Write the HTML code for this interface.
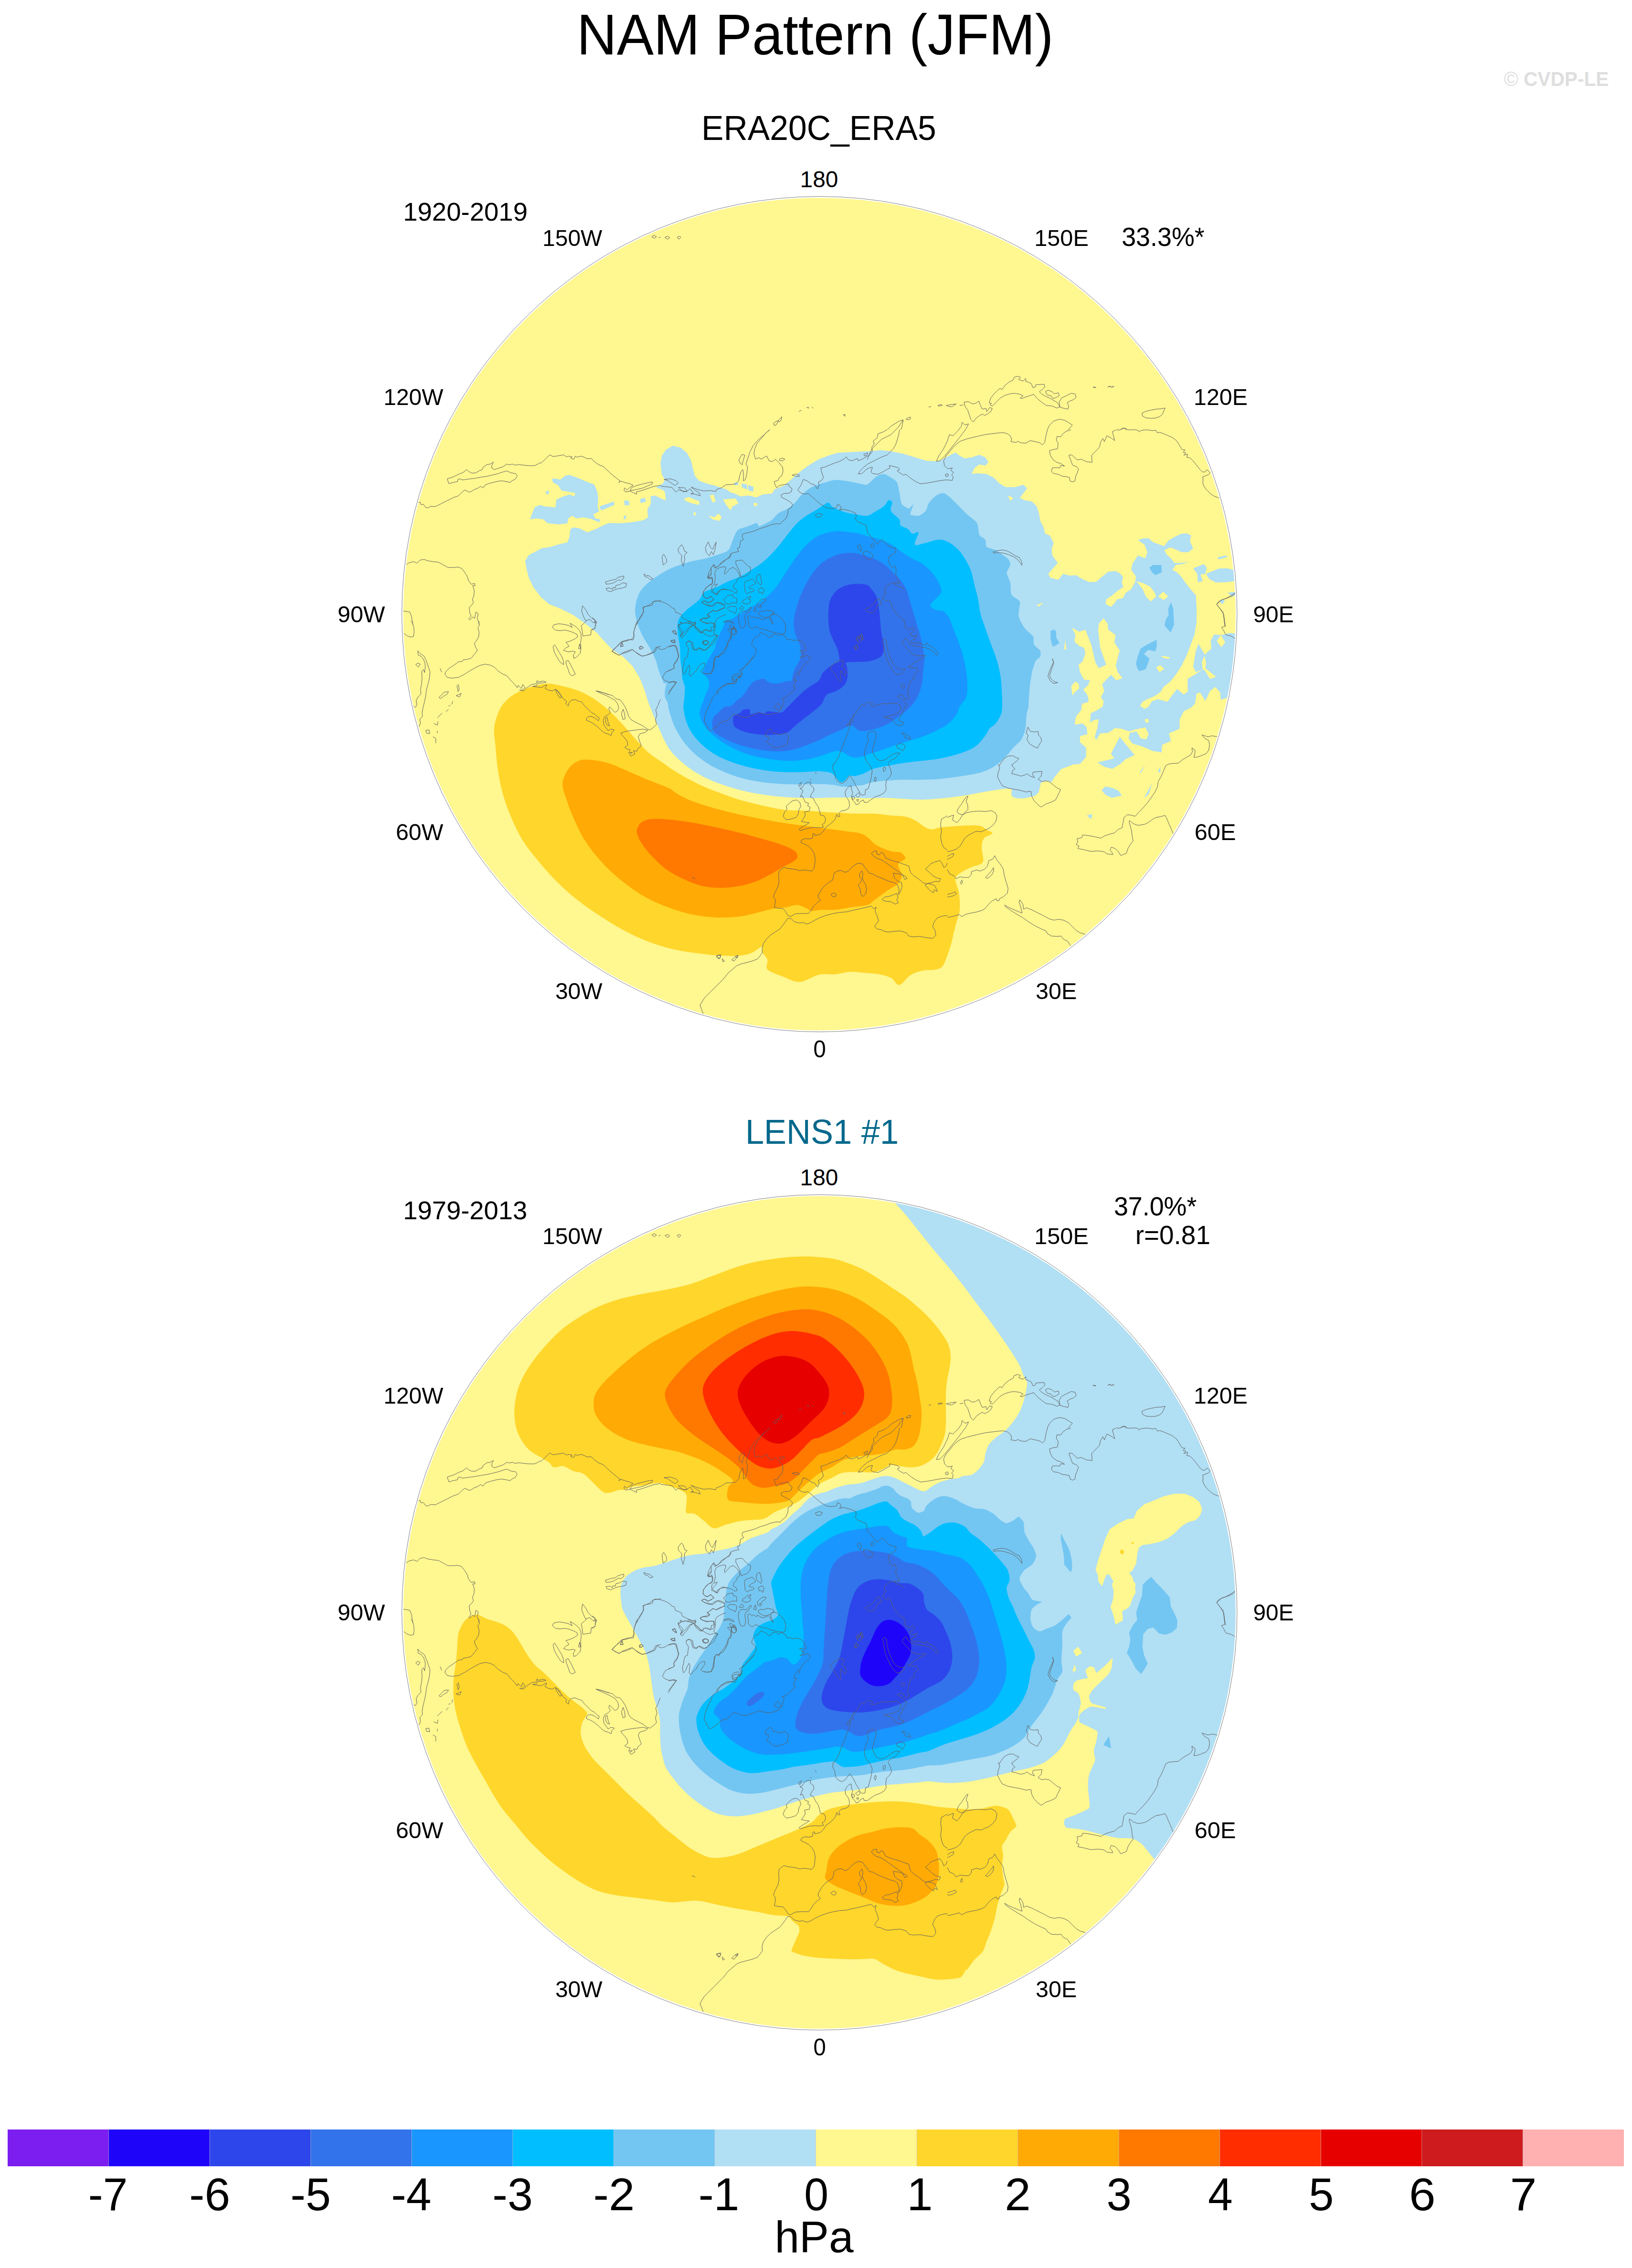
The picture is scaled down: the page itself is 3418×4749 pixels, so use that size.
<!DOCTYPE html>
<html><head><meta charset="utf-8"><title>NAM Pattern (JFM)</title>
<style>html,body{margin:0;padding:0;background:#fff}svg{display:block}text{font-family:'Liberation Sans',Arial,Helvetica,sans-serif}</style></head>
<body>
<svg width="3418" height="4749" viewBox="0 0 3418 4749">
<defs>
<clipPath id="c1"><circle cx="1716.25" cy="1286.00" r="874.60"/></clipPath>
<clipPath id="c2"><circle cx="1716.25" cy="3376.20" r="874.60"/></clipPath>
</defs>
<rect width="3418" height="4749" fill="#fff"/>
<g clip-path="url(#c1)">
<circle cx="1716.25" cy="1286.00" r="874.60" fill="#FFF78F"/>
<path d="M1099.6 1175.0L1107.1 1162.5L1121.7 1155.0L1134.2 1147.9L1150.8 1145.8L1171.7 1139.6L1188.3 1135.4L1192.5 1125.0L1194.6 1108.3L1200.8 1104.2L1213.3 1106.2L1230.0 1114.6L1246.7 1108.3L1263.3 1100.0L1275.8 1095.0L1296.7 1095.8L1321.7 1093.8L1346.7 1089.6L1357.1 1083.3L1355.8 1066.7L1363.3 1054.2L1362.5 1039.6L1371.7 1037.5L1384.2 1043.8L1394.6 1047.9L1392.5 1029.2L1386.2 1025.0L1373.8 1020.8L1388.3 1012.5L1392.5 1004.2L1386.2 993.8L1383.3 970.8L1386.2 954.2L1394.6 941.7L1409.2 933.3L1425.8 937.5L1438.3 947.9L1446.7 962.5L1450.8 979.2L1455.0 995.8L1463.3 1006.2L1480.0 1012.5L1496.7 1016.7L1509.2 1020.8L1521.7 1025.0L1530.0 1031.2L1538.3 1033.3L1550.8 1039.6L1567.5 1037.5L1584.2 1041.7L1596.7 1035.4L1617.5 1033.3L1621.7 1025.0L1642.5 1016.7L1659.2 1002.1L1675.8 987.5L1692.5 975.0L1713.3 962.5L1734.2 954.2L1755.0 947.9L1816.0 945.0L1846.0 942.5L1866.0 945.0L1891.0 950.0L1916.0 957.5L1941.0 965.0L1966.0 966.0L1986.0 955.0L2001.0 947.5L2011.0 955.0L2021.0 960.0L2036.0 957.5L2051.0 952.5L2063.5 957.5L2070.0 967.5L2063.5 975.0L2051.0 972.5L2041.0 980.0L2035.0 992.5L2046.0 991.0L2066.0 992.5L2081.0 1000.0L2093.5 1012.5L2106.0 1020.0L2126.0 1020.0L2143.5 1015.0L2151.0 1022.5L2143.5 1032.5L2136.0 1042.5L2146.0 1047.5L2161.0 1050.0L2171.0 1060.0L2176.0 1075.0L2178.5 1090.0L2186.0 1105.0L2188.5 1117.5L2187.1 1116.7L2198.3 1120.9L2206.8 1136.5L2202.6 1150.6L2204.0 1163.3L2215.3 1178.8L2205.4 1190.1L2195.5 1201.4L2199.8 1209.8L2216.7 1214.1L2226.6 1201.4L2240.7 1205.6L2253.4 1204.2L2264.7 1211.2L2281.6 1218.9L2295.7 1218.3L2307.0 1208.4L2321.1 1197.1L2336.7 1195.7L2346.5 1201.4L2352.2 1208.4L2349.4 1218.3L2352.2 1229.6L2340.9 1236.7L2329.6 1246.5L2316.9 1255.0L2315.5 1264.9L2326.8 1270.5L2333.8 1263.5L2339.5 1255.0L2352.2 1252.2L2357.8 1240.9L2369.1 1233.8L2377.6 1218.3L2379.0 1207.0L2369.1 1192.9L2371.9 1180.2L2383.2 1163.3L2398.8 1168.9L2403.0 1156.2L2397.3 1140.7L2383.2 1130.8L2393.1 1127.4L2405.8 1127.1L2414.3 1135.0L2425.6 1139.3L2438.3 1143.5L2446.7 1132.2L2458.0 1125.2L2473.5 1118.1L2484.8 1116.7L2494.7 1120.9L2491.9 1133.6L2499.0 1147.7L2489.1 1156.2L2475.0 1156.2L2462.3 1150.6L2451.0 1146.3L2438.3 1152.0L2443.9 1161.9L2452.4 1168.9L2459.4 1178.8L2473.5 1178.8L2490.5 1176.5L2476.4 1181.0L2462.3 1183.0L2455.2 1192.9L2465.1 1198.5L2473.5 1207.0L2483.4 1221.1L2494.7 1235.2L2504.6 1246.5L2506.0 1271.9L2506.0 1303.0L2501.8 1328.4L2493.3 1351.0L2484.8 1373.5L2473.5 1396.1L2462.3 1413.1L2451.0 1427.2L2436.9 1438.5L2429.8 1449.8L2417.1 1458.2L2403.0 1463.9L2393.1 1469.5L2387.5 1478.0L2397.3 1484.2L2404.4 1480.8L2412.9 1468.1L2425.6 1463.9L2445.3 1469.5L2455.2 1455.4L2465.1 1442.7L2479.2 1454.0L2487.7 1448.3L2487.1 1421.5L2501.8 1413.1L2518.7 1401.8L2504.6 1407.4L2499.0 1396.1L2504.6 1362.3L2510.2 1348.1L2522.9 1370.7L2537.1 1358.0L2535.6 1342.5L2542.7 1328.4L2558.2 1329.8L2575.2 1325.6L2594.9 1327.0L2594.9 1362.3L2586.5 1404.6L2575.2 1459.6L2556.8 1465.3L2555.4 1449.8L2545.5 1438.5L2534.2 1446.9L2524.4 1468.1L2513.1 1449.8L2506.0 1452.6L2503.2 1472.3L2496.1 1480.8L2479.2 1489.3L2470.7 1506.2L2470.2 1526.0L2448.1 1535.8L2452.4 1551.4L2434.0 1559.8L2432.6 1575.4L2414.3 1572.5L2391.7 1562.7L2371.9 1557.0L2363.5 1545.7L2366.3 1534.4L2380.4 1531.6L2388.9 1545.7L2400.2 1548.5L2405.8 1537.3L2398.8 1523.1L2377.6 1527.4L2364.9 1531.6L2349.4 1526.0L2335.2 1524.6L2321.1 1534.4L2304.2 1535.8L2295.7 1550.0L2292.9 1542.9L2298.5 1523.1L2300.8 1506.2L2291.5 1507.6L2283.0 1513.3L2284.4 1493.5L2298.5 1486.5L2309.8 1479.4L2311.2 1468.1L2305.6 1459.6L2312.7 1446.9L2308.4 1432.8L2318.3 1421.5L2326.8 1413.1L2338.1 1424.4L2350.8 1420.1L2340.9 1407.4L2336.7 1393.3L2345.1 1362.3L2333.8 1345.3L2336.7 1329.8L2321.1 1318.5L2319.7 1305.8L2311.2 1294.5L2301.4 1305.8L2300.0 1319.9L2304.2 1356.6L2316.9 1391.9L2301.4 1399.0L2294.3 1387.7L2285.8 1351.0L2273.1 1318.5L2260.4 1322.7L2244.9 1314.3L2252.0 1328.4L2250.6 1343.9L2260.4 1352.4L2270.3 1356.6L2273.1 1367.9L2267.5 1384.8L2259.0 1391.9L2261.9 1407.4L2270.3 1422.9L2283.0 1424.4L2278.8 1434.2L2268.9 1444.1L2277.4 1455.4L2280.2 1469.5L2266.1 1473.8L2264.7 1486.5L2253.4 1500.6L2250.6 1517.5L2267.5 1514.7L2276.0 1523.1L2277.4 1537.3L2261.9 1541.5L2261.9 1554.2L2274.6 1565.5L2274.6 1585.2L2261.9 1599.4L2247.7 1600.8L2222.3 1610.6L2208.2 1627.6L2202.6 1637.5L2191.3 1634.6L2180.0 1638.9L2175.5 1658.8L2168.0 1666.2L2158.0 1668.8L2143.0 1672.0L2128.0 1671.2L2119.2 1667.5L2118.0 1660.0L2119.2 1652.5L2108.0 1651.2L2088.0 1653.8L2068.0 1657.0L2048.0 1660.5L2028.0 1664.5L2008.0 1667.5L1988.0 1670.0L1968.0 1672.0L1948.0 1673.8L1928.0 1674.5L1908.0 1673.8L1888.0 1672.5L1868.0 1671.2L1848.0 1670.5L1828.0 1671.2L1808.0 1671.2L1797.5 1670.5L1772.5 1670.0L1747.5 1670.0L1722.5 1670.8L1697.5 1671.2L1672.5 1670.5L1647.5 1669.2L1622.5 1667.0L1597.5 1663.8L1572.5 1659.5L1547.5 1653.8L1522.5 1646.2L1497.5 1637.5L1475.0 1627.5L1455.0 1616.2L1437.5 1603.8L1422.5 1591.2L1410.0 1578.8L1400.0 1566.2L1390.0 1547.5L1380.0 1525.0L1367.5 1495.0L1357.5 1470.0L1350.0 1445.0L1340.0 1420.0L1325.0 1395.0L1305.0 1375.0L1285.0 1362.5L1270.0 1347.5L1250.0 1325.0L1225.0 1305.0L1200.0 1287.5L1175.0 1275.0L1150.0 1265.0L1132.5 1250.0L1117.5 1230.0L1107.5 1210.0L1102.5 1190.0L1100.0 1175.0Z" fill="#B1DFF4"/>
<path d="M2379.0 1216.9L2394.5 1221.1L2408.6 1228.2L2418.5 1240.9L2421.3 1249.4L2410.0 1259.2L2400.2 1249.4L2393.1 1233.8L2384.6 1222.5Z" fill="#FFF78F"/>
<path d="M2425.6 1248.8L2436.3 1238.9L2446.7 1248.8L2437.4 1256.4Z" fill="#FFF78F"/>
<path d="M2243.5 1437.1L2252.0 1427.2L2259.0 1431.4L2260.4 1441.3L2250.6 1449.8L2246.3 1456.8Z" fill="#FFF78F"/>
<path d="M2421.3 1397.5L2429.8 1392.7L2438.3 1400.4L2428.4 1407.4Z" fill="#FFF78F"/>
<path d="M2431.2 1373.5L2442.5 1374.4L2451.0 1376.4L2446.7 1379.8L2435.4 1376.9Z" fill="#FFF78F"/>
<path d="M2397.3 1506.8L2404.4 1504.8L2406.4 1511.3L2400.2 1514.1Z" fill="#FFF78F"/>
<path d="M2228.5 1359.4L2231.4 1341.1L2233.1 1359.4Z" fill="#FFF78F"/>
<path d="M2295.2 1462.5L2301.9 1461.6L2312.1 1468.1L2304.2 1467.3Z" fill="#FFF78F"/>
<path d="M2548.3 1342.5L2556.8 1329.8L2566.1 1345.3L2557.7 1355.2Z" fill="#FFF78F"/>
<path d="M2517.3 1384.8L2522.9 1373.5L2525.8 1387.7L2524.4 1399.0L2546.9 1417.3L2534.2 1421.5L2522.9 1403.2L2518.7 1401.8Z" fill="#FFF78F"/>
<path d="M1433.3 1043.8L1442.5 1040.8L1465.4 1050.0L1463.3 1057.5L1446.7 1053.3L1434.2 1047.9Z" fill="#FFF78F"/>
<path d="M1486.2 1037.5L1494.6 1035.4L1498.8 1050.0L1492.5 1052.1Z" fill="#FFF78F"/>
<path d="M1514.2 1045.8L1540.4 1043.8L1546.7 1054.2L1534.2 1060.4L1530.0 1068.8L1521.7 1058.3Z" fill="#FFF78F"/>
<path d="M1577.9 1054.2L1584.2 1052.1L1586.2 1058.3L1580.0 1060.4Z" fill="#FFF78F"/>
<path d="M1483.3 1079.2L1496.7 1083.3L1505.0 1075.0L1511.2 1083.3L1507.1 1090.8L1492.5 1087.5Z" fill="#FFF78F"/>
<path d="M1452.9 1072.9L1457.1 1072.9L1457.1 1079.2L1452.9 1079.2Z" fill="#FFF78F"/>
<path d="M2111.0 1037.5L2122.0 1042.5L2116.0 1049.0Z" fill="#FFF78F"/>
<path d="M2171.0 1267.5L2186.0 1261.0L2176.0 1270.0Z" fill="#FFF78F"/>
<path d="M2230.0 1342.5L2233.5 1360.0L2230.0 1360.0Z" fill="#FFF78F"/>
<path d="M2499.0 1190.1L2521.5 1181.0L2527.2 1188.7L2524.4 1201.4L2514.5 1202.8L2518.7 1216.9L2508.8 1218.9L2507.4 1201.4Z" fill="#B1DFF4"/>
<path d="M2525.8 1201.4L2552.6 1190.6L2569.5 1190.1L2594.9 1195.7L2594.9 1215.5L2569.5 1218.9L2546.9 1219.7L2532.8 1212.7Z" fill="#B1DFF4"/>
<path d="M2550.3 1166.9L2566.7 1163.3L2572.3 1165.2L2559.6 1169.8L2551.2 1170.9Z" fill="#B1DFF4"/>
<path d="M2570.9 1240.9L2586.5 1239.5L2594.9 1241.5L2580.8 1249.4Z" fill="#B1DFF4"/>
<path d="M2554.0 1258.4L2561.0 1255.0L2565.3 1257.8L2559.6 1265.7Z" fill="#B1DFF4"/>
<path d="M2326.8 1578.2L2345.1 1542.9L2376.2 1581.0L2357.8 1589.5L2346.5 1599.4L2329.6 1610.1L2312.7 1605.6L2298.5 1596.5L2333.8 1588.1Z" fill="#B1DFF4"/>
<path d="M2307.0 1654.4L2315.5 1646.8L2332.4 1650.7L2342.3 1655.8L2349.4 1665.7L2328.2 1670.5L2315.5 1664.3Z" fill="#B1DFF4"/>
<path d="M2387.5 1616.3L2397.9 1602.7L2388.9 1619.7Z" fill="#B1DFF4"/>
<path d="M2425.0 1616.3L2429.8 1605.6L2430.6 1617.7Z" fill="#B1DFF4"/>
<path d="M2395.9 1671.3L2412.9 1640.3L2405.8 1662.9Z" fill="#B1DFF4"/>
<path d="M2276.0 1708.0L2287.3 1704.4L2285.8 1715.1Z" fill="#B1DFF4"/>
<path d="M1110.0 1087.5L1119.6 1062.5L1130.0 1057.5L1142.5 1060.4L1163.3 1062.5L1165.4 1045.8L1180.0 1039.6L1192.5 1035.4L1202.9 1039.6L1205.0 1032.5L1188.3 1029.2L1175.8 1027.1L1169.6 1016.7L1157.1 1009.2L1157.1 1001.2L1173.8 1004.2L1184.2 995.8L1192.5 994.6L1213.3 1002.1L1230.0 1009.2L1244.6 1014.6L1250.8 1029.2L1252.9 1041.7L1251.7 1062.5L1255.0 1070.8L1242.5 1077.1L1246.7 1085.4L1257.1 1087.5L1255.8 1093.8L1238.3 1086.7L1221.7 1083.3L1207.1 1085.4L1198.8 1080.0L1190.4 1085.4L1188.3 1095.8L1171.7 1097.9L1146.7 1095.8L1138.3 1087.5L1121.7 1085.4Z" fill="#B1DFF4"/>
<path d="M1255.0 1060.4L1286.2 1050.0L1286.2 1057.5L1259.2 1068.8Z" fill="#B1DFF4"/>
<path d="M1307.1 1047.9L1316.7 1047.9L1318.3 1057.5L1308.3 1058.3Z" fill="#B1DFF4"/>
<path d="M1340.4 1045.8L1350.0 1041.7L1352.9 1050.8L1341.7 1053.3Z" fill="#B1DFF4"/>
<path d="M1142.5 1029.2L1148.8 1027.1L1150.0 1033.3L1144.6 1035.4Z" fill="#B1DFF4"/>
<path d="M1307.1 1080.0L1311.7 1079.2L1310.0 1087.5L1305.8 1086.7Z" fill="#B1DFF4"/>
<path d="M1538.3 1010.4L1546.7 1010.4L1545.8 1015.8L1538.3 1015.8Z" fill="#B1DFF4"/>
<path d="M1552.9 1012.5L1564.2 1014.6L1565.4 1025.0L1554.2 1020.8Z" fill="#B1DFF4"/>
<path d="M1566.7 1015.8L1577.9 1018.8L1577.9 1029.2L1567.5 1027.1Z" fill="#B1DFF4"/>
<path d="M2407.2 1188.7L2414.3 1183.0L2432.6 1183.0L2433.2 1198.5L2419.9 1204.2L2412.9 1198.5Z" fill="#73C6F2"/>
<path d="M2452.4 1260.6L2457.2 1274.8L2458.9 1308.6L2451.5 1324.2L2439.1 1310.0L2441.1 1298.8L2447.6 1287.5L2446.7 1274.8Z" fill="#73C6F2"/>
<path d="M2422.2 1339.7L2422.7 1352.4L2419.9 1363.7L2404.4 1360.8L2395.9 1369.3L2407.2 1379.2L2404.4 1389.1L2398.8 1401.8L2386.0 1405.2L2381.8 1399.0L2379.0 1389.1L2383.2 1373.5L2388.9 1358.0L2403.0 1349.6Z" fill="#73C6F2"/>
<path d="M2200.3 1321.3L2206.8 1317.9L2211.6 1321.3L2212.5 1335.4L2219.0 1346.7L2204.8 1354.4L2200.3 1338.3Z" fill="#73C6F2"/>
<path d="M1330.0 1280.0C1329.6 1273.6 1330.9 1266.3 1332.5 1260.0C1334.1 1253.7 1336.6 1245.7 1340.0 1240.0C1343.4 1234.3 1349.5 1227.6 1355.0 1222.5C1360.5 1217.4 1368.2 1212.1 1375.0 1207.5C1381.8 1202.9 1392.1 1196.4 1400.0 1192.5C1407.9 1188.6 1416.9 1185.3 1425.0 1182.5C1433.1 1179.7 1441.9 1177.0 1450.0 1175.0C1458.1 1173.0 1466.9 1172.0 1475.0 1170.0C1483.1 1168.0 1491.9 1165.3 1500.0 1162.5C1508.1 1159.7 1520.5 1156.7 1525.0 1152.5C1529.5 1148.3 1531.9 1136.7 1535.0 1130.0C1538.1 1123.3 1541.0 1113.7 1545.0 1110.0C1549.0 1106.3 1558.4 1105.0 1565.0 1102.5C1571.6 1100.0 1583.9 1095.0 1585.0 1095.0C1586.1 1095.0 1589.2 1102.6 1590.0 1102.5C1590.8 1102.4 1609.5 1093.8 1615.0 1090.0C1620.5 1086.2 1624.5 1078.9 1630.0 1075.0C1635.5 1071.1 1644.7 1068.4 1650.0 1065.0C1655.3 1061.6 1660.5 1057.0 1665.0 1052.5C1669.5 1048.0 1674.5 1040.1 1680.0 1035.0C1685.5 1029.9 1693.0 1023.7 1700.0 1020.0C1707.0 1016.3 1716.9 1013.4 1725.0 1011.0C1733.1 1008.6 1742.1 1005.6 1750.0 1005.0C1757.9 1004.4 1766.8 1006.3 1775.0 1007.5C1783.2 1008.7 1794.7 1011.5 1800.0 1012.5C1805.3 1013.5 1812.5 1016.4 1816.0 1015.0C1819.5 1013.6 1831.9 1000.1 1836.0 997.5C1840.1 994.9 1847.1 992.2 1851.0 992.5C1854.9 992.8 1861.6 997.2 1866.0 1000.0C1870.4 1002.8 1876.3 1006.2 1878.5 1010.0C1880.7 1013.8 1882.0 1023.4 1883.5 1030.0C1885.0 1036.6 1886.3 1051.1 1888.5 1055.0C1890.7 1058.9 1902.0 1065.0 1903.5 1065.0C1905.0 1065.0 1913.5 1055.0 1913.5 1055.0C1913.5 1055.0 1906.0 1077.4 1906.0 1077.5C1906.0 1077.6 1919.0 1081.0 1923.5 1080.0C1928.0 1079.0 1935.2 1074.0 1938.5 1070.0C1941.8 1066.0 1942.6 1057.4 1946.0 1052.5C1949.4 1047.6 1957.0 1040.1 1961.0 1037.5C1965.0 1034.9 1972.5 1031.9 1976.0 1032.5C1979.5 1033.1 1986.5 1038.8 1991.0 1042.5C1995.5 1046.2 2001.0 1052.5 2006.0 1057.5C2011.0 1062.5 2019.6 1071.5 2026.0 1077.5C2032.4 1083.5 2042.5 1089.0 2046.0 1095.0C2049.5 1101.0 2049.1 1116.2 2051.0 1120.0C2052.9 1123.8 2061.5 1126.6 2063.5 1130.0C2065.5 1133.4 2063.9 1142.9 2066.0 1145.0C2068.1 1147.1 2080.0 1149.2 2086.0 1152.5C2092.0 1155.8 2108.3 1167.3 2111.0 1170.0C2113.7 1172.7 2116.3 1179.2 2116.0 1182.5C2115.7 1185.8 2108.5 1195.2 2108.5 1200.0C2108.5 1204.8 2114.5 1213.3 2116.0 1220.0C2117.5 1226.7 2115.9 1239.8 2118.5 1245.0C2121.1 1250.2 2134.4 1255.3 2136.0 1260.0C2137.6 1264.7 2132.1 1282.0 2133.5 1290.0C2134.9 1298.0 2141.5 1308.6 2146.0 1315.0C2150.5 1321.4 2161.1 1328.3 2163.5 1332.5C2165.9 1336.7 2163.8 1345.7 2166.0 1350.0C2168.2 1354.3 2177.1 1359.7 2178.5 1362.5C2179.9 1365.3 2179.8 1372.2 2178.5 1375.0C2177.2 1377.8 2170.4 1381.2 2168.5 1385.0C2166.6 1388.8 2162.7 1401.6 2161.0 1410.0C2159.3 1418.4 2157.1 1433.5 2156.0 1445.0C2154.9 1456.5 2154.5 1475.8 2154.0 1480.0C2153.5 1484.2 2151.3 1488.5 2150.5 1492.5C2149.7 1496.5 2149.6 1500.9 2149.2 1505.0C2148.9 1509.1 2148.8 1517.5 2148.0 1522.5C2147.2 1527.5 2145.8 1533.3 2144.2 1537.5C2142.7 1541.7 2139.9 1547.2 2138.0 1550.0C2136.1 1552.8 2133.0 1555.0 2130.5 1557.5C2128.0 1560.0 2123.6 1564.0 2120.5 1567.5C2117.4 1571.0 2114.0 1576.1 2110.5 1580.0C2107.0 1583.9 2101.9 1589.0 2098.0 1592.5C2094.1 1596.0 2089.4 1599.8 2085.5 1602.5C2081.6 1605.2 2077.3 1607.9 2073.0 1610.0C2068.7 1612.1 2063.1 1614.6 2058.0 1616.2C2052.9 1617.9 2044.5 1619.9 2038.0 1621.2C2031.5 1622.6 2024.6 1623.5 2018.0 1624.5C2011.4 1625.5 2004.6 1626.6 1998.0 1627.5C1991.4 1628.4 1984.6 1629.3 1978.0 1630.0C1971.4 1630.7 1964.6 1631.6 1958.0 1632.0C1951.4 1632.4 1944.6 1632.3 1938.0 1632.5C1931.4 1632.7 1924.6 1633.0 1918.0 1633.0C1911.4 1633.0 1904.6 1632.5 1898.0 1632.5C1891.4 1632.5 1884.6 1632.7 1878.0 1633.0C1871.4 1633.3 1864.6 1634.0 1858.0 1634.5C1851.4 1635.0 1843.0 1635.6 1838.0 1636.2C1833.0 1636.9 1827.8 1637.5 1823.0 1638.8C1818.2 1640.0 1812.1 1642.8 1808.0 1643.8C1803.9 1644.7 1799.3 1644.4 1795.0 1645.0C1790.7 1645.6 1784.9 1647.2 1780.0 1647.5C1775.1 1647.8 1767.5 1647.6 1762.5 1647.0C1757.5 1646.4 1752.5 1644.4 1747.5 1643.8C1742.5 1643.1 1730.7 1642.3 1722.5 1642.0C1714.3 1641.7 1705.7 1641.9 1697.5 1642.0C1689.3 1642.1 1680.7 1642.5 1672.5 1642.5C1664.3 1642.5 1655.7 1642.3 1647.5 1642.0C1639.3 1641.7 1630.7 1641.2 1622.5 1640.5C1614.3 1639.8 1605.7 1639.1 1597.5 1638.0C1589.3 1636.9 1580.7 1635.5 1572.5 1633.8C1564.3 1632.0 1555.6 1629.9 1547.5 1627.5C1539.4 1625.1 1530.0 1621.7 1522.5 1618.8C1515.0 1615.8 1506.7 1612.1 1500.0 1608.8C1493.3 1605.4 1486.3 1601.6 1480.0 1597.5C1473.7 1593.4 1466.9 1588.4 1461.2 1583.8C1455.6 1579.1 1449.8 1573.8 1445.0 1568.8C1440.2 1563.7 1435.3 1558.0 1431.2 1552.5C1427.2 1547.0 1423.2 1540.6 1420.0 1535.0C1416.8 1529.4 1413.7 1523.1 1411.2 1517.5C1408.8 1511.9 1406.8 1505.7 1405.0 1500.0C1403.2 1494.3 1400.7 1485.6 1400.0 1482.5C1399.3 1479.4 1399.2 1475.3 1398.6 1472.9C1398.0 1470.6 1396.7 1468.3 1395.7 1466.1C1394.7 1463.8 1393.2 1461.5 1392.7 1459.2C1392.3 1456.9 1392.1 1452.6 1392.3 1449.4C1392.4 1446.2 1393.1 1442.5 1393.7 1439.6C1394.3 1436.7 1396.2 1430.9 1396.2 1430.8C1396.1 1430.7 1390.6 1431.0 1390.0 1430.0C1389.4 1429.0 1382.8 1413.1 1380.0 1405.0C1377.2 1396.9 1375.7 1387.9 1372.5 1380.0C1369.3 1372.1 1364.4 1363.1 1360.0 1355.0C1355.6 1346.9 1348.9 1337.9 1345.0 1330.0C1341.1 1322.1 1337.4 1312.9 1335.0 1305.0C1332.6 1297.1 1330.4 1286.4 1330.0 1280.0Z" fill="#73C6F2"/>
<path d="M1419.0 1310.0C1419.4 1304.2 1419.8 1300.0 1422.5 1295.0C1425.2 1290.0 1430.4 1284.6 1435.0 1280.0C1439.6 1275.4 1445.0 1271.7 1450.0 1267.5C1455.0 1263.3 1460.8 1259.6 1465.0 1255.0C1469.2 1250.4 1469.2 1244.2 1475.0 1240.0C1480.8 1235.8 1491.7 1233.8 1500.0 1230.0C1508.3 1226.2 1516.7 1221.2 1525.0 1217.5C1533.3 1213.8 1541.7 1211.7 1550.0 1207.5C1558.3 1203.3 1566.7 1197.9 1575.0 1192.5C1583.3 1187.1 1591.7 1182.1 1600.0 1175.0C1608.3 1167.9 1617.5 1158.3 1625.0 1150.0C1632.5 1141.7 1638.3 1133.3 1645.0 1125.0C1651.7 1116.7 1658.3 1107.1 1665.0 1100.0C1671.7 1092.9 1677.5 1087.9 1685.0 1082.5C1692.5 1077.1 1703.3 1071.7 1710.0 1067.5C1716.7 1063.3 1720.8 1060.0 1725.0 1057.5C1729.2 1055.0 1731.7 1051.7 1735.0 1052.5C1738.3 1053.3 1739.2 1059.2 1745.0 1062.5C1750.8 1065.8 1761.7 1070.0 1770.0 1072.5C1778.3 1075.0 1787.3 1076.2 1795.0 1077.5C1802.7 1078.8 1810.0 1080.8 1816.0 1080.0C1822.0 1079.2 1825.2 1075.8 1831.0 1072.5C1836.8 1069.2 1846.0 1064.2 1851.0 1060.0C1856.0 1055.8 1858.1 1048.8 1861.0 1047.5C1863.9 1046.2 1867.7 1048.8 1868.5 1052.5C1869.3 1056.2 1863.5 1064.2 1866.0 1070.0C1868.5 1075.8 1880.2 1082.5 1883.5 1087.5C1886.8 1092.5 1883.1 1096.7 1886.0 1100.0C1888.9 1103.3 1896.8 1104.6 1901.0 1107.5C1905.2 1110.4 1907.2 1116.2 1911.0 1117.5C1914.8 1118.8 1922.7 1111.2 1923.5 1115.0C1924.3 1118.8 1913.9 1136.2 1916.0 1140.0C1918.1 1143.8 1927.7 1139.2 1936.0 1137.5C1944.3 1135.8 1957.7 1130.4 1966.0 1130.0C1974.3 1129.6 1979.3 1131.7 1986.0 1135.0C1992.7 1138.3 2000.2 1144.2 2006.0 1150.0C2011.8 1155.8 2016.4 1162.5 2021.0 1170.0C2025.6 1177.5 2030.2 1185.8 2033.5 1195.0C2036.8 1204.2 2038.5 1215.0 2041.0 1225.0C2043.5 1235.0 2046.4 1245.0 2048.5 1255.0C2050.6 1265.0 2051.0 1275.0 2053.5 1285.0C2056.0 1295.0 2059.8 1304.2 2063.5 1315.0C2067.2 1325.8 2071.8 1338.3 2076.0 1350.0C2080.2 1361.7 2085.2 1373.3 2088.5 1385.0C2091.8 1396.7 2094.3 1408.3 2096.0 1420.0C2097.7 1431.7 2098.0 1445.0 2098.5 1455.0C2099.0 1465.0 2099.3 1473.3 2099.0 1480.0C2098.7 1486.7 2098.2 1490.4 2096.8 1495.0C2095.3 1499.6 2092.8 1503.8 2090.5 1507.5C2088.2 1511.2 2085.9 1514.6 2083.0 1517.5C2080.1 1520.4 2075.9 1521.7 2073.0 1525.0C2070.1 1528.3 2068.0 1533.8 2065.5 1537.5C2063.0 1541.2 2060.9 1544.0 2058.0 1547.5C2055.1 1551.0 2051.8 1555.4 2048.0 1558.8C2044.2 1562.1 2040.5 1564.8 2035.5 1567.5C2030.5 1570.2 2024.2 1572.7 2018.0 1575.0C2011.8 1577.3 2004.7 1579.4 1998.0 1581.2C1991.3 1583.1 1984.7 1584.8 1978.0 1586.2C1971.3 1587.7 1965.1 1589.0 1958.0 1590.0C1950.9 1591.0 1943.0 1591.7 1935.5 1592.5C1928.0 1593.3 1920.5 1594.1 1913.0 1595.0C1905.5 1595.9 1897.6 1597.0 1890.5 1598.0C1883.4 1599.0 1877.2 1600.1 1870.5 1601.2C1863.8 1602.4 1856.8 1603.8 1850.5 1605.0C1844.2 1606.2 1838.0 1607.3 1833.0 1608.8C1828.0 1610.2 1824.7 1611.9 1820.5 1613.8C1816.3 1615.6 1813.1 1618.1 1808.0 1620.0C1802.9 1621.9 1794.7 1624.4 1790.0 1625.0C1785.3 1625.6 1782.7 1623.1 1780.0 1623.8C1777.3 1624.4 1776.2 1626.8 1774.0 1629.0C1771.8 1631.2 1769.2 1635.5 1766.5 1636.8C1763.8 1638.0 1760.8 1637.8 1758.0 1636.2C1755.2 1634.7 1752.6 1630.3 1750.0 1627.5C1747.4 1624.7 1745.8 1621.4 1742.5 1619.5C1739.2 1617.6 1735.0 1617.0 1730.0 1616.2C1725.0 1615.5 1719.6 1615.0 1712.5 1615.0C1705.4 1615.0 1695.8 1615.9 1687.5 1616.2C1679.2 1616.6 1670.8 1617.0 1662.5 1617.0C1654.2 1617.0 1645.8 1616.9 1637.5 1616.5C1629.2 1616.1 1620.8 1615.5 1612.5 1614.5C1604.2 1613.5 1595.8 1612.1 1587.5 1610.5C1579.2 1608.9 1570.8 1607.2 1562.5 1605.0C1554.2 1602.8 1545.4 1600.2 1537.5 1597.5C1529.6 1594.8 1522.3 1592.1 1515.0 1588.8C1507.7 1585.4 1500.4 1581.7 1493.8 1577.5C1487.1 1573.3 1480.6 1568.5 1475.0 1563.8C1469.4 1559.0 1464.6 1554.0 1460.0 1548.8C1455.4 1543.5 1451.0 1538.1 1447.5 1532.5C1444.0 1526.9 1441.0 1520.8 1438.8 1515.0C1436.5 1509.2 1435.0 1503.3 1433.8 1497.5C1432.5 1491.7 1431.7 1482.5 1431.2 1480.0C1430.8 1477.5 1430.9 1484.2 1431.0 1482.7C1431.1 1481.2 1431.6 1474.6 1432.0 1471.0C1432.4 1467.4 1433.1 1464.4 1433.4 1461.2C1433.8 1457.9 1433.8 1455.0 1433.9 1451.4C1434.1 1447.8 1434.7 1443.2 1434.4 1439.6C1434.1 1436.0 1432.9 1433.1 1432.0 1429.8C1431.1 1426.5 1429.8 1425.0 1429.0 1420.0C1428.3 1415.0 1428.2 1406.7 1427.5 1400.0C1426.8 1393.3 1425.6 1387.5 1425.0 1380.0C1424.4 1372.5 1424.8 1363.3 1424.0 1355.0C1423.2 1346.7 1420.8 1337.5 1420.0 1330.0C1419.2 1322.5 1418.6 1315.8 1419.0 1310.0Z" fill="#00BEFF"/>
<path d="M1520.0 1300.0C1522.5 1297.5 1525.0 1300.0 1530.0 1297.5C1535.0 1295.0 1542.5 1289.6 1550.0 1285.0C1557.5 1280.4 1566.7 1275.0 1575.0 1270.0C1583.3 1265.0 1591.7 1261.7 1600.0 1255.0C1608.3 1248.3 1617.5 1239.2 1625.0 1230.0C1632.5 1220.8 1638.3 1210.0 1645.0 1200.0C1651.7 1190.0 1658.3 1179.2 1665.0 1170.0C1671.7 1160.8 1678.3 1152.1 1685.0 1145.0C1691.7 1137.9 1698.3 1132.1 1705.0 1127.5C1711.7 1122.9 1717.5 1120.0 1725.0 1117.5C1732.5 1115.0 1741.7 1113.1 1750.0 1112.5C1758.3 1111.9 1766.7 1113.2 1775.0 1114.0C1783.3 1114.8 1793.2 1116.1 1800.0 1117.5C1806.8 1118.9 1810.0 1120.8 1816.0 1122.5C1822.0 1124.2 1829.3 1125.4 1836.0 1127.5C1842.7 1129.6 1850.2 1132.5 1856.0 1135.0C1861.8 1137.5 1865.2 1138.8 1871.0 1142.5C1876.8 1146.2 1884.3 1152.9 1891.0 1157.5C1897.7 1162.1 1904.3 1166.2 1911.0 1170.0C1917.7 1173.8 1925.2 1176.2 1931.0 1180.0C1936.8 1183.8 1941.4 1187.9 1946.0 1192.5C1950.6 1197.1 1954.8 1202.1 1958.5 1207.5C1962.2 1212.9 1966.4 1219.6 1968.5 1225.0C1970.6 1230.4 1972.2 1235.4 1971.0 1240.0C1969.8 1244.6 1964.8 1247.9 1961.0 1252.5C1957.2 1257.1 1948.5 1263.3 1948.5 1267.5C1948.5 1271.7 1956.4 1275.4 1961.0 1277.5C1965.6 1279.6 1971.4 1277.1 1976.0 1280.0C1980.6 1282.9 1985.2 1289.2 1988.5 1295.0C1991.8 1300.8 1993.1 1307.5 1996.0 1315.0C1998.9 1322.5 2002.7 1330.8 2006.0 1340.0C2009.3 1349.2 2013.1 1359.2 2016.0 1370.0C2018.9 1380.8 2021.8 1394.2 2023.5 1405.0C2025.2 1415.8 2026.0 1425.8 2026.0 1435.0C2026.0 1444.2 2026.0 1452.9 2023.5 1460.0C2021.0 1467.1 2014.0 1472.3 2011.0 1477.5C2008.0 1482.7 2007.2 1487.5 2005.5 1491.2C2003.8 1495.0 2002.6 1497.1 2000.5 1500.0C1998.4 1502.9 1995.9 1505.8 1993.0 1508.8C1990.1 1511.7 1987.2 1514.6 1983.0 1517.5C1978.8 1520.4 1973.0 1523.5 1968.0 1526.2C1963.0 1529.0 1958.4 1531.2 1953.0 1533.8C1947.6 1536.2 1941.3 1539.0 1935.5 1541.2C1929.7 1543.5 1923.8 1545.1 1918.0 1547.0C1912.2 1548.9 1906.3 1550.8 1900.5 1552.5C1894.7 1554.2 1888.8 1555.6 1883.0 1557.5C1877.2 1559.4 1871.3 1561.7 1865.5 1563.8C1859.7 1565.8 1853.4 1568.1 1848.0 1570.0C1842.6 1571.9 1837.6 1573.5 1833.0 1575.0C1828.4 1576.5 1824.7 1577.3 1820.5 1578.8C1816.3 1580.2 1812.7 1582.5 1808.0 1583.8C1803.3 1585.0 1797.2 1586.2 1792.5 1586.2C1787.8 1586.2 1784.2 1585.4 1780.0 1583.8C1775.8 1582.1 1771.2 1578.1 1767.5 1576.2C1763.8 1574.4 1761.2 1572.9 1757.5 1572.5C1753.8 1572.1 1750.0 1572.5 1745.0 1573.8C1740.0 1575.0 1733.8 1577.9 1727.5 1580.0C1721.2 1582.1 1715.0 1584.4 1707.5 1586.2C1700.0 1588.1 1690.8 1590.1 1682.5 1591.2C1674.2 1592.4 1665.8 1592.9 1657.5 1593.0C1649.2 1593.1 1640.8 1592.7 1632.5 1592.0C1624.2 1591.3 1615.8 1590.1 1607.5 1588.8C1599.2 1587.4 1590.8 1585.8 1582.5 1583.8C1574.2 1581.7 1565.4 1579.2 1557.5 1576.2C1549.6 1573.3 1542.1 1569.8 1535.0 1566.2C1527.9 1562.7 1521.2 1559.0 1515.0 1555.0C1508.8 1551.0 1502.9 1546.9 1497.5 1542.5C1492.1 1538.1 1486.9 1533.8 1482.5 1528.8C1478.1 1523.8 1474.1 1518.1 1471.2 1512.5C1468.4 1506.9 1466.0 1500.4 1465.5 1495.0C1465.0 1489.6 1466.8 1484.2 1468.0 1480.0C1469.2 1475.8 1470.9 1474.2 1472.5 1470.0C1474.1 1465.8 1475.6 1460.0 1477.5 1455.0C1479.4 1450.0 1482.5 1444.6 1483.8 1440.0C1485.0 1435.4 1485.6 1431.2 1485.0 1427.5C1484.4 1423.8 1482.3 1420.6 1480.0 1417.5C1477.7 1414.4 1472.1 1411.7 1471.2 1408.8C1470.4 1405.8 1473.1 1404.4 1475.0 1400.0C1476.9 1395.6 1480.0 1387.5 1482.5 1382.5C1485.0 1377.5 1487.5 1374.2 1490.0 1370.0C1492.5 1365.8 1495.8 1361.7 1497.5 1357.5C1499.2 1353.3 1498.3 1350.0 1500.0 1345.0C1501.7 1340.0 1505.0 1332.9 1507.5 1327.5C1510.0 1322.1 1512.9 1317.1 1515.0 1312.5C1517.1 1307.9 1517.5 1302.5 1520.0 1300.0Z" fill="#1996FF"/>
<path d="M1667.5 1275.0C1670.0 1265.8 1673.3 1255.0 1677.5 1245.0C1681.7 1235.0 1687.1 1224.2 1692.5 1215.0C1697.9 1205.8 1703.8 1197.1 1710.0 1190.0C1716.2 1182.9 1722.5 1177.3 1730.0 1172.5C1737.5 1167.7 1746.7 1163.5 1755.0 1161.0C1763.3 1158.5 1772.5 1157.7 1780.0 1157.5C1787.5 1157.3 1794.0 1158.8 1800.0 1160.0C1806.0 1161.2 1810.0 1162.9 1816.0 1165.0C1822.0 1167.1 1829.3 1169.2 1836.0 1172.5C1842.7 1175.8 1850.2 1180.4 1856.0 1185.0C1861.8 1189.6 1866.0 1195.0 1871.0 1200.0C1876.0 1205.0 1881.4 1209.2 1886.0 1215.0C1890.6 1220.8 1895.2 1227.5 1898.5 1235.0C1901.8 1242.5 1903.5 1251.7 1906.0 1260.0C1908.5 1268.3 1911.0 1276.7 1913.5 1285.0C1916.0 1293.3 1918.5 1301.7 1921.0 1310.0C1923.5 1318.3 1926.4 1326.7 1928.5 1335.0C1930.6 1343.3 1932.2 1352.5 1933.5 1360.0C1934.8 1367.5 1936.0 1372.5 1936.0 1380.0C1936.0 1387.5 1934.3 1396.7 1933.5 1405.0C1932.7 1413.3 1932.7 1421.7 1931.0 1430.0C1929.3 1438.3 1926.8 1447.5 1923.5 1455.0C1920.2 1462.5 1915.6 1469.2 1911.0 1475.0C1906.4 1480.8 1901.8 1485.0 1896.0 1490.0C1890.2 1495.0 1882.7 1500.4 1876.0 1505.0C1869.3 1509.6 1862.7 1514.2 1856.0 1517.5C1849.3 1520.8 1842.7 1522.9 1836.0 1525.0C1829.3 1527.1 1822.0 1529.2 1816.0 1530.0C1810.0 1530.8 1804.3 1531.2 1800.0 1530.0C1795.7 1528.8 1792.9 1524.4 1790.0 1522.5C1787.1 1520.6 1785.8 1518.5 1782.5 1518.8C1779.2 1519.0 1774.6 1521.7 1770.0 1523.8C1765.4 1525.8 1760.4 1528.8 1755.0 1531.2C1749.6 1533.8 1743.3 1536.0 1737.5 1538.8C1731.7 1541.5 1726.2 1544.6 1720.0 1547.5C1713.8 1550.4 1706.7 1553.5 1700.0 1556.2C1693.3 1559.0 1686.7 1561.5 1680.0 1563.8C1673.3 1566.0 1666.7 1568.5 1660.0 1570.0C1653.3 1571.5 1647.1 1572.5 1640.0 1573.0C1632.9 1573.5 1625.0 1573.4 1617.5 1573.0C1610.0 1572.6 1602.5 1571.6 1595.0 1570.5C1587.5 1569.4 1580.0 1568.0 1572.5 1566.2C1565.0 1564.5 1557.1 1562.3 1550.0 1560.0C1542.9 1557.7 1536.2 1555.2 1530.0 1552.5C1523.8 1549.8 1517.5 1546.5 1512.5 1543.8C1507.5 1541.0 1503.3 1539.2 1500.0 1536.2C1496.7 1533.3 1493.7 1531.5 1492.5 1526.2C1491.3 1521.0 1491.3 1510.4 1493.0 1505.0C1494.7 1499.6 1498.4 1497.9 1502.5 1493.8C1506.6 1489.6 1512.9 1482.5 1517.5 1480.0C1522.1 1477.5 1525.8 1480.8 1530.0 1478.8C1534.2 1476.7 1538.3 1471.0 1542.5 1467.5C1546.7 1464.0 1551.2 1461.5 1555.0 1457.5C1558.8 1453.5 1561.7 1448.3 1565.0 1443.8C1568.3 1439.2 1571.2 1433.3 1575.0 1430.0C1578.8 1426.7 1583.3 1425.2 1587.5 1423.8C1591.7 1422.3 1596.7 1420.6 1600.0 1421.2C1603.3 1421.9 1604.2 1425.8 1607.5 1427.5C1610.8 1429.2 1615.4 1430.8 1620.0 1431.2C1624.6 1431.7 1630.4 1430.8 1635.0 1430.0C1639.6 1429.2 1643.8 1427.1 1647.5 1426.2C1651.2 1425.4 1655.2 1427.7 1657.5 1425.0C1659.8 1422.3 1659.6 1415.0 1661.2 1410.0C1662.9 1405.0 1665.2 1399.6 1667.5 1395.0C1669.8 1390.4 1673.3 1387.1 1675.0 1382.5C1676.7 1377.9 1677.5 1372.9 1677.5 1367.5C1677.5 1362.1 1676.5 1355.4 1675.0 1350.0C1673.5 1344.6 1670.6 1340.0 1668.8 1335.0C1666.9 1330.0 1664.8 1325.8 1663.8 1320.0C1662.7 1314.2 1661.9 1307.5 1662.5 1300.0C1663.1 1292.5 1665.0 1284.2 1667.5 1275.0Z" fill="#3273EB"/>
<path d="M1735.0 1280.0C1735.4 1273.3 1735.8 1265.8 1737.5 1260.0C1739.2 1254.2 1741.7 1249.6 1745.0 1245.0C1748.3 1240.4 1752.5 1235.8 1757.5 1232.5C1762.5 1229.2 1768.8 1226.7 1775.0 1225.0C1781.2 1223.3 1788.2 1222.5 1795.0 1222.5C1801.8 1222.5 1810.8 1222.9 1816.0 1225.0C1821.2 1227.1 1822.7 1230.8 1826.0 1235.0C1829.3 1239.2 1833.5 1243.3 1836.0 1250.0C1838.5 1256.7 1839.8 1266.7 1841.0 1275.0C1842.2 1283.3 1842.7 1291.7 1843.5 1300.0C1844.3 1308.3 1844.8 1316.7 1846.0 1325.0C1847.2 1333.3 1850.6 1342.5 1851.0 1350.0C1851.4 1357.5 1851.0 1365.0 1848.5 1370.0C1846.0 1375.0 1841.4 1377.5 1836.0 1380.0C1830.6 1382.5 1824.1 1384.0 1816.0 1385.0C1807.9 1386.0 1794.8 1385.8 1787.5 1386.2C1780.2 1386.7 1774.7 1385.2 1772.5 1387.5C1770.3 1389.8 1774.1 1395.0 1774.5 1400.0C1774.9 1405.0 1775.5 1412.5 1775.0 1417.5C1774.5 1422.5 1773.3 1426.2 1771.2 1430.0C1769.2 1433.8 1766.0 1437.1 1762.5 1440.0C1759.0 1442.9 1754.6 1445.4 1750.0 1447.5C1745.4 1449.6 1738.8 1450.4 1735.0 1452.5C1731.2 1454.6 1730.0 1456.2 1727.5 1460.0C1725.0 1463.8 1724.6 1469.6 1720.0 1475.0C1715.4 1480.4 1706.7 1487.1 1700.0 1492.5C1693.3 1497.9 1685.8 1502.9 1680.0 1507.5C1674.2 1512.1 1669.6 1516.0 1665.0 1520.0C1660.4 1524.0 1656.7 1528.5 1652.5 1531.2C1648.3 1534.0 1646.7 1535.0 1640.0 1536.2C1633.3 1537.5 1621.7 1538.5 1612.5 1538.8C1603.3 1539.0 1593.8 1538.5 1585.0 1537.5C1576.2 1536.5 1566.7 1534.4 1560.0 1532.5C1553.3 1530.6 1548.8 1528.3 1545.0 1526.2C1541.2 1524.2 1539.2 1522.7 1537.5 1520.0C1535.8 1517.3 1535.2 1513.3 1535.0 1510.0C1534.8 1506.7 1535.4 1502.1 1536.2 1500.0C1537.1 1497.9 1537.7 1498.8 1540.0 1497.5C1542.3 1496.2 1547.3 1494.4 1550.0 1492.5C1552.7 1490.6 1552.9 1487.4 1556.2 1486.2C1559.6 1485.1 1567.5 1484.0 1570.0 1485.5C1572.5 1487.0 1569.6 1493.6 1571.2 1495.0C1572.9 1496.4 1576.9 1494.4 1580.0 1493.8C1583.1 1493.1 1586.7 1491.2 1590.0 1491.2C1593.3 1491.2 1597.1 1494.0 1600.0 1493.8C1602.9 1493.5 1604.2 1490.0 1607.5 1489.5C1610.8 1489.0 1615.8 1490.1 1620.0 1490.5C1624.2 1490.9 1629.2 1492.1 1632.5 1492.0C1635.8 1491.9 1637.1 1492.0 1640.0 1490.0C1642.9 1488.0 1646.2 1483.8 1650.0 1480.0C1653.8 1476.2 1658.3 1471.7 1662.5 1467.5C1666.7 1463.3 1670.8 1459.0 1675.0 1455.0C1679.2 1451.0 1683.3 1447.1 1687.5 1443.8C1691.7 1440.4 1695.4 1438.1 1700.0 1435.0C1704.6 1431.9 1711.2 1429.2 1715.0 1425.0C1718.8 1420.8 1719.6 1414.2 1722.5 1410.0C1725.4 1405.8 1729.2 1402.9 1732.5 1400.0C1735.8 1397.1 1739.6 1394.4 1742.5 1392.5C1745.4 1390.6 1747.5 1390.0 1750.0 1388.8C1752.5 1387.5 1756.2 1387.3 1757.5 1385.0C1758.8 1382.7 1757.9 1378.8 1757.5 1375.0C1757.1 1371.2 1756.2 1366.7 1755.0 1362.5C1753.8 1358.3 1751.9 1354.2 1750.0 1350.0C1748.1 1345.8 1745.6 1341.7 1743.8 1337.5C1741.9 1333.3 1740.0 1329.2 1738.8 1325.0C1737.5 1320.8 1736.9 1316.7 1736.2 1312.5C1735.6 1308.3 1735.2 1305.4 1735.0 1300.0C1734.8 1294.6 1734.6 1286.7 1735.0 1280.0Z" fill="#2D46EB"/>
<path d="M1035.0 1525.0C1035.8 1514.2 1039.2 1503.8 1042.5 1495.0C1045.8 1486.2 1049.6 1479.2 1055.0 1472.5C1060.4 1465.8 1067.5 1460.0 1075.0 1455.0C1082.5 1450.0 1090.8 1446.0 1100.0 1442.5C1109.2 1439.0 1121.7 1435.8 1130.0 1434.0C1138.3 1432.2 1142.5 1431.2 1150.0 1431.5C1157.5 1431.8 1166.7 1434.2 1175.0 1436.0C1183.3 1437.8 1191.7 1439.8 1200.0 1442.5C1208.3 1445.2 1216.7 1448.3 1225.0 1452.5C1233.3 1456.7 1241.7 1461.7 1250.0 1467.5C1258.3 1473.3 1266.7 1480.0 1275.0 1487.5C1283.3 1495.0 1292.5 1504.6 1300.0 1512.5C1307.5 1520.4 1313.3 1527.5 1320.0 1535.0C1326.7 1542.5 1333.3 1550.4 1340.0 1557.5C1346.7 1564.6 1352.5 1571.2 1360.0 1577.5C1367.5 1583.8 1376.7 1589.2 1385.0 1595.0C1393.3 1600.8 1400.8 1606.7 1410.0 1612.5C1419.2 1618.3 1429.2 1624.2 1440.0 1630.0C1450.8 1635.8 1463.3 1642.3 1475.0 1647.5C1486.7 1652.7 1497.5 1656.4 1510.0 1661.0C1522.5 1665.6 1535.0 1670.6 1550.0 1675.0C1565.0 1679.4 1584.2 1684.0 1600.0 1687.5C1615.8 1691.0 1630.4 1694.3 1645.0 1696.0C1659.6 1697.7 1672.1 1696.7 1687.5 1697.5C1702.9 1698.3 1720.8 1700.0 1737.5 1701.0C1754.2 1702.0 1774.4 1703.1 1787.5 1703.5C1800.6 1703.9 1807.1 1703.3 1816.0 1703.5C1824.9 1703.7 1832.7 1703.8 1841.0 1704.5C1849.3 1705.2 1856.8 1706.6 1866.0 1707.5C1875.2 1708.4 1887.7 1708.3 1896.0 1710.0C1904.3 1711.7 1907.7 1713.2 1916.0 1717.5C1924.3 1721.8 1936.8 1733.5 1946.0 1736.0C1955.2 1738.5 1959.3 1733.7 1971.0 1732.5C1982.7 1731.3 2002.7 1729.6 2016.0 1729.0C2029.3 1728.4 2042.7 1727.6 2051.0 1729.0C2059.3 1730.4 2061.4 1734.8 2066.0 1737.5C2070.6 1740.2 2079.3 1742.1 2078.5 1745.0C2077.7 1747.9 2064.8 1750.0 2061.0 1755.0C2057.2 1760.0 2056.4 1766.7 2056.0 1775.0C2055.6 1783.3 2061.8 1798.3 2058.5 1805.0C2055.2 1811.7 2043.1 1811.7 2036.0 1815.0C2028.9 1818.3 2021.8 1820.8 2016.0 1825.0C2010.2 1829.2 2002.2 1832.5 2001.0 1840.0C1999.8 1847.5 2007.0 1859.2 2008.5 1870.0C2010.0 1880.8 2010.8 1895.0 2010.0 1905.0C2009.2 1915.0 2005.7 1921.7 2003.5 1930.0C2001.3 1938.3 1999.1 1946.7 1997.0 1955.0C1994.9 1963.3 1994.5 1969.2 1991.0 1980.0C1987.5 1990.8 1981.0 2011.7 1976.0 2020.0C1971.0 2028.3 1968.5 2027.9 1961.0 2030.0C1953.5 2032.1 1940.2 2030.4 1931.0 2032.5C1921.8 2034.6 1913.9 2037.5 1906.0 2042.5C1898.1 2047.5 1890.2 2061.7 1883.5 2062.5C1876.8 2063.3 1873.1 2051.2 1866.0 2047.5C1858.9 2043.8 1849.3 2041.7 1841.0 2040.0C1832.7 2038.3 1826.2 2038.3 1816.0 2037.5C1805.8 2036.7 1791.0 2034.6 1780.0 2035.0C1769.0 2035.4 1760.8 2039.0 1750.0 2040.0C1739.2 2041.0 1727.5 2038.3 1715.0 2041.0C1702.5 2043.7 1687.5 2055.3 1675.0 2056.0C1662.5 2056.7 1651.2 2049.3 1640.0 2045.0C1628.8 2040.7 1612.9 2035.8 1607.5 2030.0C1602.1 2024.2 1609.2 2015.8 1607.5 2010.0C1605.8 2004.2 1599.6 1999.6 1597.5 1995.0C1595.4 1990.4 1598.8 1982.5 1595.0 1982.5C1591.2 1982.5 1582.5 1991.9 1575.0 1995.0C1567.5 1998.1 1560.8 2000.0 1550.0 2001.0C1539.2 2002.0 1525.0 2001.8 1510.0 2001.0C1495.0 2000.2 1476.7 1998.2 1460.0 1996.0C1443.3 1993.8 1426.7 1991.4 1410.0 1987.5C1393.3 1983.6 1376.7 1978.8 1360.0 1972.5C1343.3 1966.2 1326.7 1958.8 1310.0 1950.0C1293.3 1941.2 1276.7 1930.8 1260.0 1920.0C1243.3 1909.2 1225.8 1897.5 1210.0 1885.0C1194.2 1872.5 1179.2 1859.2 1165.0 1845.0C1150.8 1830.8 1136.7 1814.2 1125.0 1800.0C1113.3 1785.8 1104.2 1775.0 1095.0 1760.0C1085.8 1745.0 1077.1 1726.7 1070.0 1710.0C1062.9 1693.3 1057.1 1676.7 1052.5 1660.0C1047.9 1643.3 1045.0 1626.7 1042.5 1610.0C1040.0 1593.3 1038.8 1574.2 1037.5 1560.0C1036.2 1545.8 1034.2 1535.8 1035.0 1525.0Z" fill="#FFD62B"/>
<path d="M1179.0 1650.0C1178.0 1644.2 1177.6 1640.8 1179.0 1635.0C1180.4 1629.2 1184.0 1620.8 1187.5 1615.0C1191.0 1609.2 1194.6 1604.0 1200.0 1600.0C1205.4 1596.0 1211.7 1592.2 1220.0 1591.0C1228.3 1589.8 1240.0 1591.0 1250.0 1592.5C1260.0 1594.0 1270.0 1596.7 1280.0 1600.0C1290.0 1603.3 1298.3 1607.5 1310.0 1612.5C1321.7 1617.5 1335.0 1623.8 1350.0 1630.0C1365.0 1636.2 1389.2 1645.0 1400.0 1650.0C1410.8 1655.0 1409.6 1656.7 1415.0 1660.0C1420.4 1663.3 1426.2 1666.9 1432.5 1670.0C1438.8 1673.1 1445.4 1675.8 1452.5 1678.5C1459.6 1681.2 1467.1 1683.5 1475.0 1686.0C1482.9 1688.5 1491.7 1691.2 1500.0 1693.5C1508.3 1695.8 1516.7 1697.9 1525.0 1700.0C1533.3 1702.1 1541.7 1704.2 1550.0 1706.0C1558.3 1707.8 1566.7 1709.3 1575.0 1711.0C1583.3 1712.7 1591.7 1714.4 1600.0 1716.0C1608.3 1717.6 1616.7 1719.1 1625.0 1720.5C1633.3 1721.9 1641.7 1723.2 1650.0 1724.5C1658.3 1725.8 1666.7 1726.9 1675.0 1728.0C1683.3 1729.1 1691.7 1729.9 1700.0 1731.0C1708.3 1732.1 1716.7 1733.4 1725.0 1734.5C1733.3 1735.6 1741.7 1736.4 1750.0 1737.5C1758.3 1738.6 1766.7 1739.8 1775.0 1741.0C1783.3 1742.2 1793.2 1742.6 1800.0 1744.5C1806.8 1746.4 1810.0 1748.2 1816.0 1752.5C1822.0 1756.8 1827.7 1765.0 1836.0 1770.0C1844.3 1775.0 1857.7 1780.0 1866.0 1782.5C1874.3 1785.0 1881.0 1782.5 1886.0 1785.0C1891.0 1787.5 1896.8 1793.3 1896.0 1797.5C1895.2 1801.7 1882.2 1804.2 1881.0 1810.0C1879.8 1815.8 1888.5 1825.8 1888.5 1832.5C1888.5 1839.2 1884.8 1845.4 1881.0 1850.0C1877.2 1854.6 1871.0 1856.7 1866.0 1860.0C1861.0 1863.3 1856.8 1865.8 1851.0 1870.0C1845.2 1874.2 1836.8 1880.8 1831.0 1885.0C1825.2 1889.2 1824.5 1892.5 1816.0 1895.0C1807.5 1897.5 1791.0 1898.3 1780.0 1900.0C1769.0 1901.7 1760.0 1904.2 1750.0 1905.0C1740.0 1905.8 1728.3 1904.6 1720.0 1905.0C1711.7 1905.4 1705.0 1907.9 1700.0 1907.5C1695.0 1907.1 1695.0 1904.6 1690.0 1902.5C1685.0 1900.4 1677.5 1895.4 1670.0 1895.0C1662.5 1894.6 1653.3 1898.8 1645.0 1900.0C1636.7 1901.2 1629.2 1900.8 1620.0 1902.5C1610.8 1904.2 1601.7 1907.2 1590.0 1910.0C1578.3 1912.8 1565.0 1917.2 1550.0 1919.0C1535.0 1920.8 1516.7 1921.7 1500.0 1921.0C1483.3 1920.3 1466.7 1918.5 1450.0 1915.0C1433.3 1911.5 1416.7 1906.2 1400.0 1900.0C1383.3 1893.8 1366.7 1887.1 1350.0 1877.5C1333.3 1867.9 1315.0 1854.6 1300.0 1842.5C1285.0 1830.4 1272.5 1818.8 1260.0 1805.0C1247.5 1791.2 1235.0 1775.8 1225.0 1760.0C1215.0 1744.2 1206.7 1725.0 1200.0 1710.0C1193.3 1695.0 1188.5 1680.0 1185.0 1670.0C1181.5 1660.0 1180.0 1655.8 1179.0 1650.0Z" fill="#FFAA05"/>
<path d="M1334.0 1745.0C1332.5 1739.2 1334.2 1736.5 1336.0 1732.5C1337.8 1728.5 1340.2 1723.9 1345.0 1721.0C1349.8 1718.1 1355.8 1715.8 1365.0 1715.0C1374.2 1714.2 1385.8 1714.8 1400.0 1716.0C1414.2 1717.2 1433.3 1719.8 1450.0 1722.5C1466.7 1725.2 1483.3 1728.9 1500.0 1732.5C1516.7 1736.1 1533.3 1739.8 1550.0 1744.0C1566.7 1748.2 1585.0 1753.2 1600.0 1757.5C1615.0 1761.8 1629.2 1765.8 1640.0 1770.0C1650.8 1774.2 1660.0 1778.3 1665.0 1782.5C1670.0 1786.7 1670.8 1791.2 1670.0 1795.0C1669.2 1798.8 1665.0 1801.7 1660.0 1805.0C1655.0 1808.3 1647.5 1810.8 1640.0 1815.0C1632.5 1819.2 1624.2 1825.0 1615.0 1830.0C1605.8 1835.0 1595.8 1840.8 1585.0 1845.0C1574.2 1849.2 1562.5 1852.7 1550.0 1855.0C1537.5 1857.3 1523.3 1859.0 1510.0 1859.0C1496.7 1859.0 1483.3 1858.2 1470.0 1855.0C1456.7 1851.8 1442.5 1845.8 1430.0 1840.0C1417.5 1834.2 1405.8 1827.9 1395.0 1820.0C1384.2 1812.1 1373.3 1801.2 1365.0 1792.5C1356.7 1783.8 1350.2 1775.4 1345.0 1767.5C1339.8 1759.6 1335.5 1750.8 1334.0 1745.0Z" fill="#FF7800"/>
<g transform="translate(0,0.0)"><path d="M873.3 1052.7L880.0 1051.7L881.7 1056.7L886.7 1056.0L891.7 1062.7L896.7 1063.3L901.7 1060.0L911.7 1060.7L923.3 1055.0L936.7 1048.3L950.0 1041.7L960.0 1038.3L968.3 1030.0L973.3 1026.0L983.3 1030.7L988.3 1028.3L993.3 1025.0L1000.0 1022.7L1006.7 1018.3L1011.7 1021.7L1016.7 1015.0L1026.7 1011.7L1040.0 1008.3L1050.0 1006.7L1060.0 1008.3L1068.3 1010.0L1073.3 1006.0L1078.3 1004.0L1083.3 996.7L1080.0 991.7L1070.0 990.0L1061.7 986.0L1053.3 988.3L1043.3 991.7L1030.0 995.0L1020.0 997.3L1006.7 999.3L993.3 1001.7L980.0 1003.3L968.3 1005.0L963.3 1002.7L959.3 1003.3L958.3 1008.3L950.0 1010.0L940.0 1012.7L936.7 1002.7L950.0 998.3L960.0 993.3L970.0 989.3L977.3 983.3L981.7 987.3L988.3 990.7L996.7 990.0L1003.3 986.0L1010.0 983.3L1011.7 978.3L1020.0 972.7L1026.7 971.7L1033.3 967.7L1030.0 975.0L1030.0 980.0L1035.0 983.3L1043.3 980.7L1053.3 977.3L1061.7 971.7L1066.7 973.3L1073.3 971.7L1078.3 974.0L1086.7 972.7L1096.7 974.0L1106.7 975.0L1120.0 975.0L1126.7 971.7L1129.3 969.3L1132.7 970.0L1140.0 963.3L1146.7 956.7L1151.7 952.3L1158.3 956.0L1170.0 954.3L1180.0 952.3L1186.7 956.7L1190.0 955.0L1198.3 956.7L1195.0 959.3L1201.7 961.7L1205.0 955.0L1208.3 957.3L1216.7 955.0L1223.3 957.3L1230.0 960.7L1238.3 960.0L1245.0 966.7L1253.3 972.7L1263.3 976.7L1270.0 982.7L1276.7 989.3L1283.3 995.0L1291.7 1001.7L1298.3 1006.7L1296.0 1010.7L1300.0 1007.3L1310.0 1010.7L1320.0 1013.3L1326.0 1016.0L1320.0 1020.0L1313.3 1026.0L1308.3 1021.7L1306.7 1026.0L1310.0 1030.0L1320.0 1028.3L1326.7 1031.7L1333.3 1035.0L1332.7 1030.0L1340.0 1028.3L1350.0 1025.0L1360.0 1021.7L1370.0 1018.3L1380.0 1016.7L1384.0 1016.0 M1320.0 1026.0L1323.3 1020.7L1333.3 1016.7L1346.7 1013.3L1356.7 1010.7L1366.7 1009.3L1366.0 1013.3L1356.7 1017.3L1346.7 1021.7L1333.3 1025.0L1320.0 1027.3Z M847.3 1185.0L856.7 1178.3L866.7 1176.0L873.3 1179.3L880.0 1172.7L888.3 1171.3L895.0 1174.0L906.7 1176.0L918.3 1177.3L928.3 1182.7L938.3 1188.3L950.0 1188.3L958.3 1187.3L966.7 1190.0L973.3 1198.3L979.3 1208.3L980.7 1215.0L986.7 1223.3L994.0 1221.7L995.0 1226.7L990.0 1226.0L993.3 1236.7L992.7 1246.7L989.3 1255.0L991.7 1261.7L986.7 1268.3L982.7 1271.7L984.0 1283.3L986.7 1290.0L981.7 1296.0L984.0 1298.3L990.0 1291.7L994.0 1295.0L996.7 1281.7L1001.7 1285.0L999.3 1295.0L1002.7 1303.3L1003.3 1308.0 M842.7 1279.3L850.0 1280.0L858.3 1281.7L861.7 1290.0L863.3 1300.0L865.0 1308.0 M1220.0 1268.3L1226.7 1276.7L1231.7 1286.7L1238.3 1293.3L1245.0 1298.3L1249.3 1304.0L1241.7 1303.3L1235.0 1296.7L1226.7 1300.0L1221.7 1290.0L1218.3 1280.0Z M1333.3 1308.0L1340.0 1293.3L1346.7 1283.3L1348.3 1271.7L1360.0 1266.7L1368.3 1260.0L1384.0 1257.3 M1384.0 1018.1L1394.0 1019.1L1407.3 1020.5L1415.7 1030.5L1420.7 1025.8L1430.7 1028.1L1437.3 1029.8L1445.7 1023.1L1452.3 1033.1L1446.7 1033.8L1455.7 1034.8L1466.7 1038.1L1464.0 1031.5L1455.7 1026.5L1447.3 1019.8L1460.7 1024.8L1474.0 1028.1L1487.3 1027.1L1499.0 1029.1L1500.7 1024.8L1510.7 1021.5L1520.7 1014.8L1530.7 1014.8L1540.7 1013.1L1547.3 1006.5L1549.0 996.5L1552.3 987.1L1555.7 983.1L1557.3 993.1L1556.7 1006.5L1560.7 1004.8L1564.0 993.1L1565.7 978.1L1562.3 971.5L1566.7 958.1L1570.7 946.5L1577.3 933.1L1587.3 921.5L1597.3 913.1L1607.3 903.8L1612.3 899.8L1604.0 906.5L1595.7 916.5L1585.7 928.1L1580.7 939.8L1579.0 949.8L1582.3 961.5L1589.0 958.1L1594.0 961.5L1605.7 954.8L1610.7 964.8L1617.3 966.5L1624.0 961.5L1630.7 968.1L1639.0 978.1L1640.0 986.5L1637.3 996.5L1632.3 999.8L1629.0 1006.5L1621.3 1008.1L1623.3 1014.8L1626.7 1021.5L1632.3 1016.5L1642.3 1014.8L1650.7 1013.1L1654.0 1019.8L1659.0 1023.1L1657.3 1029.8L1650.7 1033.1L1642.3 1033.1L1635.7 1036.5L1637.3 1041.5L1647.3 1046.5L1655.7 1051.5L1660.0 1056.5L1657.3 1063.1L1650.7 1066.5L1650.0 1076.5L1645.7 1086.5L1639.0 1091.5L1634.0 1097.1L1625.7 1096.5L1614.0 1099.1L1604.0 1103.1L1592.3 1106.5L1580.7 1111.5L1569.0 1114.8L1555.7 1118.1L1554.0 1123.1L1557.3 1129.8L1550.7 1133.1L1549.0 1146.5L1544.0 1148.1L1547.3 1154.8L1539.0 1156.5L1530.7 1159.1L1527.3 1166.5L1519.0 1173.1L1512.3 1179.1L1504.0 1185.8L1497.3 1189.8L1494.0 1183.1L1489.0 1189.8L1484.0 1199.8L1482.3 1208.1L1490.7 1211.5 M1857.3 899.8L1849.0 904.8L1839.0 908.1L1837.3 916.5L1829.0 923.1L1830.7 929.8L1825.7 936.5L1827.3 944.8L1820.7 953.1L1814.0 956.5L1805.7 961.5L1797.3 964.8L1795.7 959.8L1784.0 964.8L1777.3 963.1L1772.3 956.5L1767.3 961.5L1757.3 966.5L1747.3 969.8L1737.3 973.8L1727.3 978.1L1719.0 979.8L1720.7 988.1L1724.7 999.8L1720.7 1005.8L1714.0 1009.8L1715.7 1016.5L1712.3 1023.8L1705.7 1014.8L1699.0 1013.1L1690.7 1007.1L1682.3 1003.8L1677.3 1016.5L1670.7 1025.8L1675.7 1031.5L1684.0 1034.8L1692.3 1033.1L1704.0 1043.1L1717.3 1054.8L1730.7 1063.1L1742.3 1064.8L1752.3 1063.1L1754.0 1056.5L1759.0 1058.1L1762.3 1064.8L1757.3 1068.1L1767.3 1066.5L1780.7 1069.8L1792.3 1074.8L1793.3 1081.5L1790.7 1086.5L1797.3 1093.1L1805.7 1096.5L1814.0 1099.8L1815.7 1108.1L1817.3 1116.5L1824.0 1123.1L1830.7 1131.5L1837.3 1139.1L1844.0 1133.1L1847.3 1129.8L1852.3 1134.8L1860.7 1143.1L1867.3 1146.5L1876.7 1148.1L1875.7 1156.5L1869.0 1161.5L1862.3 1164.8L1860.7 1173.1L1864.0 1183.1L1869.0 1189.8L1874.0 1184.8L1877.3 1193.1L1875.7 1203.1L1880.7 1213.1L1884.0 1221.5L1877.3 1219.8L1874.0 1223.1L1882.3 1228.1L1890.7 1231.5L1894.0 1234.8 M1877.3 1219.8L1864.0 1222.5L1855.7 1228.1L1852.3 1233.1L1854.0 1241.5 M1884.0 899.8L1882.3 909.8L1879.0 921.5L1875.7 931.5L1870.7 939.8L1864.0 946.5L1857.3 953.1L1847.3 956.5L1837.3 961.5L1827.3 966.5L1817.3 971.5L1809.0 978.1L1802.3 984.8L1797.3 992.5L1805.7 991.5L1814.0 983.1L1820.7 979.8L1827.3 978.1L1824.0 988.1L1827.3 991.5L1839.0 993.1L1849.0 988.1L1857.3 983.1L1864.0 979.8L1862.3 974.8L1870.7 976.5L1880.7 979.1L1884.0 983.1L1879.0 985.8L1884.0 989.8L1892.3 994.8L1897.3 993.1L1907.3 1001.5L1917.3 1008.1L1928.0 1013.1 M1390.7 1003.8L1404.0 1002.5L1415.7 1006.5L1420.7 1011.5L1414.0 1016.5L1405.7 1011.5L1399.0 1006.5Z M1420.7 1020.5L1434.0 1021.5L1439.0 1028.1L1430.7 1029.8Z M1659.0 994.8L1667.3 992.5L1674.0 994.8L1673.3 998.1L1665.7 997.1Z M1632.3 961.5L1639.0 959.1L1644.0 961.5L1639.0 964.8L1633.3 964.8Z M1547.3 963.1L1554.0 951.5L1560.0 953.1L1555.7 966.5L1554.7 973.1L1550.0 969.8Z M1809.0 951.5L1817.3 948.1L1815.7 953.1L1810.7 954.8Z M1707.3 1078.1L1715.7 1074.8L1722.3 1077.1L1719.0 1082.5L1710.7 1083.1Z M1795.7 1143.1L1800.7 1140.5L1804.7 1148.1L1802.3 1154.8L1797.3 1148.1Z M1824.7 1139.8L1829.0 1138.1L1831.3 1144.8L1827.3 1148.1L1824.0 1145.8Z M1807.3 1156.5L1815.7 1153.8L1824.0 1158.1L1829.0 1163.1L1825.7 1169.8L1817.3 1172.5L1810.7 1166.5Z M1420.0 1149.8L1427.3 1140.5L1430.7 1144.8L1434.0 1154.8L1439.0 1156.5L1433.3 1163.1L1434.0 1171.5L1430.7 1185.8L1426.7 1173.1L1428.0 1163.1L1421.3 1156.5Z M1477.3 1146.5L1483.3 1134.8L1488.0 1146.5L1492.3 1150.5L1500.0 1134.8L1497.3 1151.5L1494.0 1161.5L1490.0 1154.8L1485.7 1163.8L1479.0 1156.5Z M1386.7 1164.8L1390.0 1160.5L1395.7 1169.8L1396.7 1176.5L1389.0 1183.1L1387.3 1173.1Z M1552.5 1414.8L1553.5 1412.9L1554.6 1407.7L1552.5 1404.6L1556.7 1399.4L1561.9 1393.1L1567.1 1386.9L1573.3 1380.6L1578.5 1374.4L1581.7 1370.2L1583.8 1365.0L1582.7 1357.7L1577.5 1353.5L1574.4 1349.4L1575.4 1343.1L1579.6 1336.9L1583.8 1332.7L1586.9 1333.8L1591.0 1328.5L1593.1 1324.4L1598.3 1326.5L1604.6 1329.0L1609.8 1334.8L1616.0 1333.1L1617.5 1328.5L1624.4 1327.5L1630.6 1331.7L1636.9 1328.1L1645.2 1332.7L1648.8 1339.4L1654.6 1339.0L1660.8 1341.0L1667.1 1340.0L1673.3 1341.0L1679.6 1344.2L1683.8 1348.3L1686.9 1354.6L1688.3 1360.8L1685.8 1364.0L1679.6 1361.9L1674.4 1361.5L1678.5 1365.0L1679.6 1369.2L1682.7 1366.0L1684.2 1370.2L1679.6 1374.4L1675.4 1376.5L1684.8 1374.0L1691.0 1372.3L1696.2 1375.4L1697.3 1379.6L1693.1 1384.8L1686.9 1389.0L1681.7 1395.2L1677.5 1401.5L1674.4 1408.8L1673.3 1414.8 M1583.8 1311.9L1590.0 1315.0L1598.3 1318.1L1606.7 1319.2L1612.9 1322.3L1621.2 1324.4L1629.6 1326.5L1637.9 1327.5L1643.1 1326.5L1645.8 1318.1L1645.2 1309.8L1642.1 1301.5L1636.9 1295.2L1630.6 1290.0L1626.5 1286.9L1621.2 1285.8L1617.1 1287.3L1614.0 1291.0L1615.4 1297.3L1618.1 1303.5L1619.2 1307.3L1615.0 1301.5L1611.9 1295.2L1609.8 1293.1L1606.7 1294.2L1601.5 1296.3L1596.2 1297.3L1591.0 1294.2L1585.8 1292.1L1583.8 1295.2L1578.5 1291.0L1574.4 1293.1L1570.2 1289.0L1566.7 1290.0L1566.0 1297.3L1568.1 1303.5L1566.7 1308.8L1570.2 1312.9L1575.4 1317.1L1578.5 1314.0Z M1547.3 1284.8L1551.5 1280.6L1556.7 1279.6L1562.9 1280.6L1567.1 1276.5L1571.2 1271.3L1574.4 1272.3L1571.2 1276.5L1568.1 1281.7L1562.9 1284.8L1559.8 1291.0L1560.8 1298.3L1561.9 1305.6L1559.8 1312.9L1555.6 1315.0L1551.5 1314.0L1549.4 1308.8L1547.3 1301.5L1546.2 1293.1Z M1587.9 1282.7L1593.1 1279.6L1600.4 1280.2L1606.7 1277.5L1612.9 1278.5L1620.2 1280.6L1621.2 1284.8L1617.1 1285.8L1612.9 1290.0L1606.7 1292.1L1600.4 1293.1L1594.2 1290.0L1589.0 1286.9Z M1555.6 1257.7L1560.8 1255.6L1565.0 1250.4L1573.3 1249.0L1571.2 1252.5L1567.1 1254.6L1572.3 1256.7L1571.2 1261.9L1565.0 1265.0L1558.8 1264.0L1554.6 1261.9Z M1558.8 1222.3L1560.8 1218.1L1565.0 1216.0L1570.2 1214.4L1575.4 1211.9L1579.2 1216.0L1582.7 1221.3L1579.6 1223.3L1573.3 1226.5L1568.1 1230.6L1571.2 1233.1L1576.5 1232.7L1579.6 1235.8L1577.5 1238.5L1570.2 1240.0L1565.0 1243.1L1560.8 1239.0L1559.8 1230.6Z M1583.8 1209.8L1585.8 1204.6L1591.0 1202.1L1593.1 1207.7L1594.2 1215.0L1595.8 1220.2L1593.1 1225.4L1590.0 1222.3L1585.8 1219.2L1583.8 1214.0Z M1587.9 1234.8L1592.1 1231.7L1597.3 1230.6L1600.4 1235.8L1597.3 1244.2L1594.2 1240.0L1590.0 1241.0Z M1585.8 1264.0L1590.0 1259.8L1594.2 1255.6L1599.4 1253.5L1604.6 1254.6L1601.5 1259.8L1596.2 1262.9L1594.2 1267.1L1590.0 1268.1L1595.2 1269.8L1592.1 1273.3L1586.9 1270.2Z M1515.0 1255.6L1519.2 1252.5L1523.3 1247.3L1529.6 1246.3L1534.8 1245.2L1535.4 1250.4L1542.1 1252.5L1543.1 1257.7L1543.1 1262.9L1536.9 1261.9L1531.7 1262.9L1527.5 1265.0L1520.2 1264.0L1518.1 1259.8Z M1523.3 1273.3L1527.5 1270.2L1533.8 1269.2L1540.0 1270.2L1543.1 1273.3L1542.1 1279.6L1540.0 1284.8L1534.8 1281.7L1529.6 1279.6L1525.4 1276.5Z M1515.4 1302.5L1521.2 1299.4L1527.5 1299.0L1533.8 1301.5L1537.9 1305.6L1531.7 1303.5L1525.4 1301.5L1519.2 1302.5Z M1531.7 1318.1L1535.8 1316.0L1541.0 1317.1L1542.5 1322.3L1541.0 1327.5L1535.8 1329.6L1532.7 1326.5L1531.2 1322.3Z M1548.3 1274.4L1553.5 1268.1L1558.3 1273.3L1555.6 1275.4L1549.4 1276.0Z M1578.5 1279.6L1581.7 1270.2L1583.8 1276.5L1583.3 1280.6Z M1470.8 1344.2L1476.5 1341.0L1482.7 1343.1L1483.8 1347.3L1479.6 1350.4L1473.3 1349.4Z M1541.0 1174.4L1548.3 1173.3L1554.6 1172.7L1560.8 1179.6L1567.1 1185.8L1572.3 1187.9L1571.2 1197.3L1565.0 1204.6L1558.8 1206.7L1552.5 1209.4L1550.4 1201.5L1548.3 1195.2L1544.2 1186.9L1541.0 1180.6Z M1497.3 1198.3L1500.4 1192.1L1506.7 1189.0L1512.9 1186.9L1519.2 1186.9L1520.2 1191.0L1517.1 1197.3L1518.1 1202.5L1523.3 1197.3L1528.5 1191.0L1534.8 1187.9L1540.0 1191.0L1544.2 1195.2L1548.3 1202.5L1549.4 1208.8L1544.2 1212.9L1542.1 1219.2L1536.9 1224.4L1535.8 1230.6L1542.1 1234.8L1544.2 1240.0L1540.0 1242.1L1533.8 1237.9L1525.4 1234.8L1519.2 1233.8L1512.9 1232.7L1506.7 1237.9L1502.5 1245.2L1496.2 1241.0L1490.0 1234.8L1491.0 1228.5L1496.2 1222.3L1498.3 1211.9L1497.3 1203.5Z M1529.6 1159.8L1531.7 1161.9L1527.5 1168.1L1519.2 1172.3L1510.8 1177.5L1504.6 1185.8L1498.3 1187.9L1495.2 1181.7L1489.0 1190.0L1490.0 1197.3L1489.0 1204.6L1481.7 1209.8L1484.8 1211.9L1491.0 1208.8L1492.1 1218.1L1490.0 1224.4L1483.8 1226.5L1478.5 1230.6L1473.3 1239.0L1472.3 1247.3L1476.5 1251.5L1481.7 1253.5L1487.9 1248.3L1495.2 1255.6L1487.9 1259.8L1481.7 1262.9L1474.4 1257.7L1470.2 1261.9L1476.5 1266.0L1484.8 1267.1L1492.1 1270.2L1502.5 1261.9L1512.9 1266.0L1518.1 1268.1L1516.0 1273.3L1506.7 1276.5L1499.4 1280.6L1493.1 1277.5L1486.9 1282.7L1480.6 1286.9L1486.9 1291.0L1481.7 1295.2L1472.3 1295.2L1466.0 1299.0L1471.2 1302.5L1480.6 1304.6L1495.2 1304.6L1497.3 1312.9L1493.1 1320.2L1486.9 1322.3L1481.7 1319.2L1474.4 1319.2L1471.2 1324.4L1465.0 1320.2L1458.8 1316.0L1454.6 1308.8L1457.7 1303.5L1452.5 1305.6L1446.2 1302.5L1440.0 1301.5 M1002.7 1300.0L1004.0 1310.0L1000.7 1313.3L1003.3 1323.3L1002.7 1333.3L996.7 1343.3L993.3 1346.7L996.0 1355.0L1000.0 1361.7L995.0 1368.3L986.7 1378.3L978.3 1380.7L970.0 1381.7L968.3 1385.0L960.0 1386.0L950.0 1393.3L940.0 1400.0L933.3 1406.7L931.7 1411.7L936.7 1418.3L946.7 1420.0L960.0 1418.3L973.3 1411.7L983.3 1405.0L993.3 1399.3L1005.0 1393.3L1016.7 1390.7L1026.7 1392.7L1035.0 1396.7L1043.3 1405.0L1053.3 1411.7L1061.7 1415.0L1070.0 1425.0L1078.3 1433.3L1083.3 1440.0L1085.0 1435.0L1091.7 1441.7L1095.0 1433.3L1100.0 1440.0L1093.3 1445.0L1088.3 1445.0L1096.7 1446.7L1103.3 1440.0L1113.3 1433.3L1123.3 1431.7L1125.0 1425.0L1126.7 1428.3L1138.3 1426.0L1144.0 1428.3L1136.7 1430.0L1126.7 1430.7L1123.3 1436.0L1115.0 1437.3L1125.0 1438.3L1133.3 1440.0L1141.7 1435.0L1145.0 1434.0L1141.7 1441.7L1148.3 1445.0L1156.7 1446.7L1163.3 1443.3L1168.3 1448.3L1175.0 1456.7L1180.0 1463.3L1186.7 1468.3L1185.0 1473.3L1190.0 1478.3L1191.7 1471.7L1196.7 1466.0L1205.0 1465.0L1211.7 1468.3L1218.3 1470.0L1223.3 1476.7L1228.3 1481.7L1233.3 1486.7L1238.3 1491.7L1245.0 1495.0L1250.0 1500.0L1255.0 1503.3L1253.3 1509.3L1246.7 1504.0L1240.0 1500.7L1233.3 1500.0L1228.3 1504.0L1228.3 1508.3L1236.7 1511.7L1245.0 1516.7L1253.3 1523.3L1260.0 1530.0L1266.7 1535.0L1273.3 1536.7L1280.0 1540.0L1281.7 1533.3L1286.7 1528.3L1280.0 1526.7L1273.3 1530.0L1270.0 1525.0L1265.0 1518.3L1263.3 1508.3L1266.7 1500.0L1273.3 1496.7L1278.3 1491.7L1275.0 1485.0L1276.7 1480.0L1283.3 1486.7L1288.3 1491.7L1293.3 1488.3L1296.0 1481.7L1293.3 1473.3L1288.3 1466.7L1280.0 1461.7L1270.0 1456.7L1258.3 1451.7L1248.3 1446.7L1256.7 1448.3L1270.0 1452.7L1283.3 1456.7L1290.0 1463.3L1298.3 1465.0L1305.0 1473.3L1310.0 1481.7L1313.3 1490.0L1316.7 1500.0L1321.7 1506.7L1330.0 1511.7L1340.0 1516.7L1346.7 1520.0L1355.0 1526.7L1361.7 1528.3L1370.0 1521.7L1375.0 1516.7L1372.7 1506.7L1376.0 1496.7L1373.3 1486.7L1378.3 1476.7L1381.7 1466.7L1384.0 1465.0 M1163.3 1443.3L1168.3 1446.7L1173.3 1453.3L1176.0 1460.0L1172.7 1461.7L1168.3 1455.0L1165.0 1449.3Z M1268.3 1503.3L1271.7 1501.7L1273.3 1511.7L1276.7 1520.0L1271.7 1518.3L1268.3 1511.7Z M1301.7 1493.3L1305.0 1485.0L1308.3 1495.0L1309.3 1505.0L1305.0 1506.7L1302.7 1500.0Z M1300.0 1535.0L1310.0 1531.7L1320.0 1530.0L1333.3 1528.3L1346.7 1526.7L1356.7 1529.3L1351.7 1533.3L1340.0 1536.7L1336.7 1543.3L1340.0 1553.3L1343.3 1561.7L1336.7 1566.7L1333.3 1573.3L1326.7 1571.7L1330.0 1578.3L1321.7 1583.3L1318.3 1580.0L1325.0 1575.0L1316.7 1576.7L1320.0 1570.0L1313.3 1568.3L1308.3 1565.0L1315.0 1560.0L1313.3 1551.7L1308.3 1545.0L1303.3 1540.0Z M921.7 1399.3L925.0 1407.3 M919.3 1460.7L925.0 1455.0L930.0 1449.3L939.3 1448.3L936.7 1453.3L928.3 1458.3L923.3 1462.7Z M955.0 1456.7L961.7 1454.0L966.0 1451.7L962.7 1459.3Z M956.7 1436.7L960.0 1433.3L961.7 1443.3L959.3 1448.3L958.3 1441.7Z M948.3 1468.3L946.0 1475.0 M939.3 1478.3L943.3 1477.3 M934.3 1490.7L939.3 1485.0 M916.0 1502.7L926.0 1493.3 M908.3 1515.0L916.0 1518.3L917.3 1510.7 M916.0 1530.0L916.0 1535.0 M906.7 1542.7L912.7 1546.0L912.7 1556.0 M891.7 1529.3L898.3 1528.3L900.0 1536.0L893.3 1535.0Z M875.0 1362.7L880.0 1368.3L888.3 1374.0L893.3 1385.0L897.3 1396.7L900.7 1406.7L899.3 1420.0L896.7 1431.7L893.3 1443.3L891.7 1456.7L889.3 1468.3L886.0 1481.7L884.0 1493.3L885.0 1500.0L879.3 1506.0L880.7 1515.0L876.0 1524.0 M875.0 1362.7L876.0 1371.7L881.7 1374.0L886.7 1380.0L890.0 1388.3L890.7 1396.7L889.3 1408.3L886.7 1401.7L883.3 1406.0L884.0 1420.0L882.7 1433.3L880.7 1443.3L881.7 1453.3L875.0 1460.0L871.7 1466.7L873.3 1476.0L869.3 1481.7L864.0 1476.0 M870.7 1391.7L875.0 1388.3L880.0 1390.7L876.0 1396.7Z M844.0 1325.0L853.3 1331.7L860.0 1334.0L866.0 1332.7L867.3 1323.3L866.7 1313.3L863.3 1303.3L860.7 1300.0 M1156.7 1313.3L1160.0 1308.3L1170.0 1306.0L1180.0 1307.3L1190.0 1309.3L1198.3 1314.0L1194.0 1305.0L1201.7 1309.3L1206.7 1312.7L1213.3 1319.3L1216.7 1326.7L1217.3 1336.7L1216.0 1346.7L1216.7 1358.3L1215.0 1368.3L1206.7 1376.7L1201.7 1378.3L1200.7 1371.7L1205.0 1365.0L1200.0 1363.3L1190.0 1365.0L1180.0 1361.7L1185.0 1356.7L1191.7 1353.3L1188.3 1348.3L1185.0 1345.0L1193.3 1342.7L1203.3 1338.3L1210.0 1333.3L1208.3 1328.3L1201.7 1325.0L1193.3 1321.7L1183.3 1319.3L1173.3 1320.7L1163.3 1319.3Z M1211.7 1358.3L1214.0 1348.3L1216.0 1358.3Z M1158.3 1353.3L1161.7 1350.0L1166.7 1358.3L1171.7 1366.7L1176.7 1375.0L1180.0 1383.3L1180.7 1391.7L1175.0 1388.3L1170.0 1381.7L1165.0 1373.3L1160.7 1365.0Z M1185.0 1385.0L1190.0 1382.7L1195.0 1391.7L1200.0 1401.7L1205.0 1411.7L1198.3 1415.0L1193.3 1411.7L1190.0 1401.7L1186.7 1393.3Z M1228.3 1300.0L1223.3 1305.0L1217.3 1310.0L1219.3 1320.0L1220.7 1331.7L1228.3 1330.7L1237.3 1329.3L1238.3 1318.3L1246.0 1316.0L1247.3 1306.7L1245.0 1300.0 M1335.0 1300.0L1333.3 1303.3L1330.0 1313.3L1327.3 1323.3L1328.3 1331.7L1323.3 1338.3L1313.3 1341.7L1303.3 1344.0L1296.7 1350.0L1288.3 1356.7L1281.7 1363.3L1288.3 1368.3L1296.7 1371.7L1305.0 1366.7L1313.3 1363.3L1323.3 1360.0L1333.3 1366.7L1345.0 1374.0L1355.0 1371.7L1365.0 1368.3L1371.7 1365.0L1376.7 1355.0L1384.0 1353.3 M1299.3 1353.3L1302.7 1345.0L1305.0 1352.7Z M1338.3 1355.0L1343.3 1352.7L1347.3 1356.7L1341.7 1359.3Z M1552.5 1413.8L1548.8 1418.8L1543.8 1415.0L1536.2 1417.5L1532.5 1422.5L1535.0 1427.5L1541.2 1426.2L1543.8 1422.5L1540.0 1432.5L1530.0 1430.5L1520.0 1432.0L1510.0 1438.8L1502.5 1446.2L1500.0 1452.5L1492.5 1460.0L1488.8 1470.0L1483.8 1480.0L1479.5 1490.0L1476.2 1500.0L1475.0 1510.0L1478.8 1517.5L1482.5 1525.0L1486.2 1530.0L1491.2 1528.0L1497.5 1523.8L1505.0 1517.5L1510.0 1512.0L1520.0 1510.0L1527.5 1505.0L1533.8 1498.8L1536.2 1494.5L1543.8 1497.5L1552.5 1501.2L1562.5 1502.0L1572.5 1498.8L1582.5 1495.0L1590.0 1492.0L1600.0 1495.0L1610.0 1496.2L1620.0 1494.5L1630.0 1491.2L1633.8 1486.2L1627.5 1485.0L1621.2 1481.2L1626.2 1475.0L1630.0 1472.5L1633.8 1477.5L1636.2 1485.0L1640.0 1475.0L1642.5 1466.2L1637.5 1462.5L1646.2 1460.0L1651.2 1455.0L1657.5 1450.0L1663.8 1445.0L1665.0 1438.8L1661.2 1437.5L1663.8 1432.5L1668.8 1423.8L1662.5 1425.0L1665.0 1417.5L1671.2 1407.5L1673.8 1404.5 M1603.8 1535.0L1607.5 1530.0L1613.8 1526.2L1617.5 1531.2L1620.0 1536.2L1625.0 1535.0L1630.0 1538.8L1637.5 1537.5L1643.8 1535.0L1650.0 1540.0L1651.2 1546.2L1648.8 1552.5L1650.0 1557.5L1643.8 1561.2L1635.0 1563.8L1626.2 1566.2L1620.0 1565.0L1612.5 1558.8L1605.0 1553.8L1610.0 1547.5L1608.8 1542.0L1603.0 1541.2Z M1738.8 1396.2L1745.0 1391.2L1752.5 1385.0L1760.0 1382.5L1766.2 1383.8L1767.5 1390.0L1762.5 1395.0L1768.8 1400.0L1772.5 1407.5L1770.0 1415.0L1765.0 1410.0L1761.2 1403.8L1760.0 1412.5L1761.2 1422.5L1760.0 1427.5L1755.0 1422.5L1750.0 1416.2L1748.8 1410.0L1743.8 1406.2L1740.0 1401.2Z M1793.8 1335.0L1797.5 1331.2L1800.0 1337.5L1802.5 1327.5L1806.2 1330.0L1805.0 1341.2L1800.0 1346.2L1796.2 1343.8Z M1790.0 1353.8L1795.0 1350.0L1797.5 1356.2L1792.5 1360.0Z M1473.8 1410.0L1480.0 1411.2L1490.0 1410.0L1495.0 1400.0L1496.2 1385.0L1498.8 1375.0L1507.5 1373.8L1511.2 1367.5L1517.5 1360.0L1522.5 1351.2L1525.0 1342.5L1530.0 1335.0L1532.5 1325.0L1531.2 1315.0L1527.5 1310.0L1531.2 1308.8L1536.2 1313.8L1538.8 1321.2L1542.5 1323.8L1541.2 1316.2L1535.0 1311.2 M1405.0 1341.2L1412.5 1340.0L1413.8 1346.2L1407.5 1345.0Z M1408.8 1321.2L1413.8 1320.0L1416.2 1327.5L1411.2 1326.2Z M1472.5 1345.0L1477.5 1341.2L1483.8 1343.8L1482.5 1348.8L1476.2 1350.0Z M1400.0 1353.8L1407.5 1351.2L1415.0 1353.8L1418.8 1365.0L1421.2 1375.0L1417.5 1385.0L1411.2 1392.5L1412.5 1398.8L1405.0 1402.5L1400.0 1403.8 M1400.0 1450.0L1407.5 1440.0L1416.2 1428.8L1405.0 1427.5L1400.0 1430.0 M1425.0 1332.5L1431.2 1326.2L1437.5 1320.0L1443.8 1312.5L1453.8 1308.8L1443.8 1305.0L1435.0 1303.8L1426.2 1306.2L1420.0 1310.0L1423.8 1318.8L1427.5 1325.0Z M1437.5 1345.0L1443.8 1342.5L1447.5 1346.2L1451.2 1360.0L1456.2 1361.2L1465.0 1356.2L1475.0 1361.2L1482.5 1357.5L1487.5 1352.5L1495.0 1347.5L1500.0 1337.5L1503.8 1331.2L1496.2 1330.0L1487.5 1332.5L1480.0 1330.0L1472.5 1325.0L1467.5 1323.8L1462.5 1316.2L1453.8 1311.2 M1519.2 1272.7L1512.9 1274.8L1506.7 1277.9L1499.4 1281.0L1494.2 1277.9L1487.9 1282.1L1481.7 1286.3L1486.9 1290.4L1479.6 1293.5L1472.3 1294.6L1466.0 1297.7L1469.2 1300.8L1473.3 1302.9L1479.6 1306.0L1487.9 1304.0L1494.6 1305.0L1495.2 1312.3L1490.0 1313.3L1489.0 1320.2L1483.8 1321.7L1479.6 1318.5L1473.3 1319.6L1471.2 1324.8L1466.0 1324.8L1460.8 1320.6L1455.6 1315.4L1454.6 1310.2L1457.7 1306.0L1455.6 1301.5L1451.5 1304.0L1447.3 1301.9L1441.0 1299.8L1434.8 1296.7L1428.5 1293.5L1427.5 1287.3L1421.2 1284.2L1415.0 1282.1L1411.9 1273.8L1406.7 1272.7L1404.6 1269.6L1398.3 1265.4L1390.0 1261.3L1381.7 1259.2L1373.3 1258.1L1367.5 1260.2L1366.7 1266.5L1360.8 1268.5L1353.5 1269.6L1346.2 1271.7L1348.3 1280.0L1345.2 1287.3L1341.0 1294.6L1335.8 1301.9L1331.7 1310.2L1328.5 1318.5L1327.1 1324.8L1327.5 1333.1L1326.5 1339.8L1316.0 1339.4L1308.8 1341.5L1301.5 1343.5L1294.2 1350.8L1287.9 1358.1L1281.7 1364.4L1284.8 1365.4L1290.0 1368.5L1296.2 1372.3L1302.5 1368.5L1310.8 1366.5L1319.2 1363.3L1324.4 1359.8L1329.6 1364.4L1335.8 1369.6L1344.2 1373.8L1352.5 1372.3L1360.8 1368.5L1369.2 1364.4L1373.3 1356.0L1377.5 1355.0L1380.6 1359.2L1385.8 1360.2L1393.1 1358.1L1398.3 1354.4L1406.7 1353.5L1410.8 1350.8L1416.0 1351.9L1418.1 1358.1L1419.2 1364.4L1421.7 1372.7L1418.1 1381.0L1412.9 1388.3L1410.8 1393.5L1412.5 1398.8L1406.7 1401.9L1400.4 1405.0L1394.2 1407.1L1390.4 1413.3L1387.5 1419.6L1392.1 1424.8L1398.3 1427.3L1404.6 1429.0L1409.8 1426.5L1417.1 1428.5L1412.9 1434.2L1408.8 1440.4L1403.5 1447.7L1399.4 1454.8 M1299.4 1354.0L1302.5 1344.6L1305.0 1352.9Z M1339.0 1359.2L1342.1 1352.9L1347.3 1356.0L1343.1 1359.2Z M1408.3 1321.7L1411.9 1320.6L1416.0 1324.8L1417.1 1329.4L1412.9 1326.9L1409.2 1323.8Z M1404.6 1342.5L1412.9 1339.4L1414.0 1344.6L1406.7 1344.0Z M1419.6 1308.1L1425.4 1307.7L1425.0 1301.9L1429.6 1305.0L1434.8 1304.0L1441.0 1305.0L1448.3 1307.1L1452.5 1309.2L1446.2 1313.3L1442.1 1318.5L1437.9 1324.8L1432.7 1330.0L1429.6 1335.2L1425.0 1332.1L1428.5 1326.9L1430.6 1320.6L1426.5 1316.5L1422.3 1312.3Z M1471.2 1343.5L1475.4 1341.5L1480.6 1341.5L1484.2 1344.6L1482.7 1348.8L1477.5 1350.8L1473.3 1348.8Z M1531.7 1318.5L1537.9 1316.5L1542.1 1320.6L1541.7 1326.9L1535.8 1330.0L1532.7 1324.8Z M1532.7 1416.5L1537.9 1412.3L1546.2 1410.2L1548.3 1414.4L1544.2 1421.7L1535.8 1424.4Z M1268.1 1218.5L1275.4 1216.5L1282.7 1214.4L1289.0 1213.3L1294.2 1209.2L1301.5 1207.1L1306.7 1206.0L1306.2 1211.3L1300.4 1215.4L1295.2 1214.4L1290.0 1217.5L1284.8 1220.6L1276.5 1222.7L1269.2 1223.1Z M1269.2 1232.1L1277.5 1231.0L1282.7 1234.2L1283.8 1230.0L1289.0 1231.0L1290.0 1225.8L1297.3 1224.4L1304.6 1220.2L1311.9 1221.7L1310.8 1229.0L1302.5 1231.5L1294.2 1232.7L1286.9 1235.2L1278.5 1239.0L1271.2 1236.3Z M1348.3 1201.9L1353.5 1205.0L1359.8 1206.0L1365.0 1210.2L1367.5 1211.9L1361.9 1214.0L1356.7 1209.2L1350.4 1207.1Z M1520.2 1287.3L1515.0 1288.3L1508.8 1291.5L1501.5 1295.6L1497.9 1301.9L1498.3 1310.2L1497.3 1318.5L1494.6 1325.8L1497.3 1327.9L1503.5 1331.0L1496.2 1337.3L1490.0 1346.7L1483.8 1355.0L1479.6 1360.2L1473.3 1362.3L1467.1 1359.2L1461.9 1357.1L1458.8 1362.3L1453.5 1358.1L1451.5 1352.9L1450.8 1345.6L1446.2 1343.1L1441.0 1342.5L1436.9 1345.6L1437.9 1351.9L1442.1 1358.1L1441.0 1366.5L1440.0 1375.8L1434.8 1377.9L1432.7 1385.2L1431.7 1393.5L1429.6 1399.8L1430.0 1408.1L1431.7 1412.7L1435.8 1408.1L1439.0 1399.8L1443.1 1392.5L1445.2 1396.7L1444.2 1405.0L1443.1 1412.3L1446.2 1416.5L1452.5 1409.2L1458.8 1404.0L1462.9 1395.6L1468.1 1390.4L1475.4 1388.3L1476.5 1394.6L1472.3 1399.8L1468.1 1406.0L1471.2 1409.2L1479.6 1411.3L1489.0 1410.2L1493.1 1399.8L1495.2 1387.3L1496.2 1379.0L1500.4 1373.8L1505.6 1376.9L1506.7 1371.7L1515.0 1368.5L1520.2 1360.2L1524.4 1351.9L1525.4 1341.5L1530.6 1339.4L1531.7 1331.0L1529.6 1324.8L1526.5 1320.6L1523.3 1317.5L1531.7 1316.5L1535.8 1314.0L1540.0 1312.3 M1502.5 1454.8L1504.6 1446.7L1510.8 1439.4L1519.2 1435.2L1527.5 1432.1L1535.8 1430.0L1542.1 1424.8L1546.2 1418.5L1552.5 1416.5L1548.3 1420.6L1552.5 1410.2L1548.3 1404.0L1554.6 1399.8L1562.9 1393.5L1569.2 1387.3L1575.4 1380.0L1580.0 1374.8 M1240.0 1293.5L1244.2 1295.6L1249.4 1302.3L1247.3 1308.1L1246.2 1315.4L1240.0 1319.6 M1248.3 1446.7L1256.7 1448.8L1267.1 1451.9L1275.4 1454.8 M1489.0 1199.8L1484.8 1205.0L1481.7 1209.2L1486.9 1211.3L1491.0 1208.1L1493.1 1214.4L1492.1 1221.7L1484.8 1225.8L1478.5 1232.1L1473.3 1238.3L1472.3 1244.6L1475.4 1250.8L1482.7 1252.9L1489.0 1248.8L1495.2 1255.0L1489.0 1260.2L1482.7 1262.3L1477.5 1258.1L1471.2 1259.2L1469.2 1261.3L1474.4 1264.4L1480.6 1267.5L1486.9 1269.6L1493.1 1266.5L1499.4 1262.3L1505.6 1261.3L1512.9 1263.3L1518.1 1266.5 M1496.2 1224.8L1502.5 1222.7L1498.3 1229.0L1493.1 1234.2L1490.0 1239.4L1494.2 1241.5L1501.5 1245.6L1502.5 1239.4L1509.8 1235.2L1517.1 1234.2L1523.3 1235.2 M1640.0 1709.3L1643.3 1700.0L1648.3 1695.0L1646.7 1688.3L1653.3 1681.7L1660.0 1676.7L1668.3 1675.0L1675.0 1680.0L1677.3 1688.3L1673.3 1695.0L1671.7 1705.0L1666.7 1711.7L1656.7 1715.0L1646.7 1716.7Z M1673.3 1641.7L1678.3 1638.3L1677.3 1645.0L1673.3 1646.7Z M1679.3 1650.0L1685.0 1641.7L1691.7 1637.3L1698.3 1638.3L1696.7 1643.3L1703.3 1648.3L1705.0 1655.0L1700.0 1661.7L1696.7 1668.3L1703.3 1671.7L1708.3 1681.7L1713.3 1688.3L1716.0 1696.7L1718.3 1706.7L1726.0 1708.3L1729.3 1715.0L1727.3 1723.3L1721.7 1726.7L1725.0 1731.7L1716.7 1733.3L1706.7 1732.7L1696.7 1733.3L1686.7 1736.0L1676.7 1739.3L1673.3 1736.7L1681.7 1730.7L1690.0 1726.0L1695.0 1722.7L1686.7 1721.7L1678.3 1720.0L1683.3 1713.3L1686.7 1706.7L1685.0 1700.0L1695.0 1698.3L1696.7 1690.0L1691.7 1687.3L1693.3 1681.7L1686.7 1680.0L1683.3 1673.3L1680.7 1666.7L1676.0 1668.3L1679.3 1661.7L1681.7 1655.0L1675.0 1650.7Z M1696.7 1630.7L1699.3 1633.3 M1708.3 1616.7L1709.3 1620.7 M1449.3 1837.3L1456.0 1840.0 M1745.0 1600.0L1744.0 1610.0L1748.3 1618.3L1750.0 1630.0L1755.0 1636.7L1763.3 1640.7L1771.7 1635.0L1775.0 1630.0L1780.0 1624.0L1786.7 1633.3L1793.3 1646.7L1798.3 1655.0L1801.7 1661.7L1805.0 1665.0L1811.7 1664.0L1812.7 1653.3L1818.3 1651.7L1821.7 1640.0L1825.0 1626.7L1826.7 1613.3L1823.3 1605.0L1820.0 1600.0 M1860.0 1600.0L1865.0 1610.0L1867.3 1620.0L1863.3 1626.7L1856.7 1633.3L1855.0 1643.3L1856.0 1653.3L1851.7 1660.0L1843.3 1665.0L1833.3 1668.3L1823.3 1675.0L1816.7 1680.0L1810.0 1680.0L1808.3 1675.0L1801.7 1678.3L1798.3 1683.3L1793.3 1685.0L1790.0 1680.0L1785.0 1675.0L1783.3 1666.7L1786.0 1660.0L1783.3 1653.3L1782.7 1645.0L1778.3 1646.7L1773.3 1651.7L1770.0 1658.3L1770.7 1666.7L1775.0 1671.7L1778.3 1678.3L1779.3 1686.7L1776.7 1693.3L1770.0 1696.7L1761.7 1698.3L1756.7 1703.3L1759.3 1709.3L1755.0 1710.0L1752.7 1705.0L1750.0 1713.3L1745.0 1720.0L1738.3 1726.0L1730.0 1731.7L1725.0 1740.0L1718.3 1746.7L1706.7 1750.0L1706.0 1745.7L1702.7 1746.0L1701.7 1755.0L1695.0 1756.7L1685.0 1756.0L1678.3 1759.3L1677.3 1764.0L1683.3 1766.7L1693.3 1771.7L1700.0 1778.3L1705.0 1786.7L1707.3 1796.7L1706.7 1806.7L1705.0 1818.3L1700.0 1824.0L1691.7 1822.7L1683.3 1821.7L1675.0 1823.3L1666.7 1820.7L1656.7 1819.3L1648.3 1818.3L1641.7 1816.0L1636.7 1820.0L1631.7 1824.0L1630.7 1833.3L1631.7 1845.0L1629.3 1856.7L1625.0 1865.0L1621.7 1871.7L1620.0 1878.3L1624.0 1883.3L1623.3 1893.3L1621.7 1900.0L1630.0 1901.7L1640.0 1902.7L1645.0 1908.3L1650.0 1916.7L1655.0 1919.3L1666.7 1913.3L1680.0 1912.7L1693.3 1912.7L1698.3 1906.7L1703.3 1898.3L1711.7 1890.0L1718.3 1885.0L1714.0 1880.0L1713.3 1875.0L1720.0 1863.3L1726.7 1855.0L1735.0 1848.3L1743.3 1843.3L1746.0 1835.0L1746.7 1828.3L1753.3 1824.0L1761.7 1822.7L1770.0 1826.7L1776.7 1824.0L1783.3 1816.7L1791.7 1810.0L1798.3 1807.3L1806.7 1809.3L1811.7 1816.7L1816.7 1822.7L1820.0 1828.3L1828.3 1830.0L1836.7 1835.0L1845.0 1838.3L1853.3 1841.7L1863.3 1846.0L1873.3 1848.3L1880.0 1853.3L1883.3 1863.3L1881.7 1873.3L1886.0 1866.7L1889.3 1856.7L1888.3 1848.3L1880.0 1845.0L1873.3 1838.3L1870.7 1828.3L1883.3 1830.0L1896.7 1835.0L1900.0 1839.3L1895.0 1841.7L1890.0 1830.7L1876.7 1821.7L1865.0 1813.3L1853.3 1805.0L1845.0 1800.0L1835.0 1796.7L1828.3 1791.7L1825.0 1786.7L1830.0 1782.7L1836.0 1781.7L1836.7 1788.3L1841.7 1790.0L1845.0 1785.0L1850.0 1786.7L1855.0 1796.7L1863.3 1800.0L1873.3 1803.3L1883.3 1806.0L1893.3 1810.0L1903.3 1813.3L1906.7 1826.7L1913.3 1833.3L1923.3 1840.0L1933.3 1848.3L1940.0 1850.7L1950.0 1848.3L1960.0 1845.0L1966.7 1846.7L1970.0 1840.0L1961.7 1838.3L1953.3 1833.3L1946.7 1826.7L1938.3 1820.0L1943.3 1815.0L1950.0 1808.3L1958.3 1805.0L1968.3 1801.7L1973.3 1808.3L1976.7 1816.7L1981.7 1813.3L1984.0 1806.7 M1937.3 1853.3L1943.3 1850.0L1951.7 1851.7L1958.3 1855.0L1963.3 1866.7L1956.7 1863.3L1955.0 1869.3L1948.3 1865.0L1943.3 1860.0Z M1847.3 1883.3L1853.3 1878.3L1863.3 1876.7L1871.7 1873.3L1878.3 1870.7L1880.7 1878.3L1878.3 1885.0L1881.7 1890.0L1875.0 1893.3L1866.7 1888.3L1856.7 1887.3L1850.0 1886.0Z M1800.0 1830.0L1805.0 1823.3L1807.3 1830.0L1806.0 1838.3L1808.3 1845.0L1813.3 1853.3L1815.0 1863.3L1812.7 1871.7L1806.7 1877.3L1802.7 1871.7L1801.7 1861.7L1797.3 1853.3L1801.7 1848.3L1805.0 1841.7L1800.7 1836.7Z M1740.0 1873.3L1746.7 1869.3L1751.7 1872.7L1748.3 1878.3L1742.7 1876.7Z M1500.0 2001.7L1506.7 1999.3L1509.3 2003.3L1505.0 2008.0Z M1540.0 2003.3L1546.0 2000.0L1544.0 2006.0Z M1783.3 1668.3L1788.3 1666.7L1790.0 1671.7L1786.0 1674.0Z M1791.7 1665.0L1798.3 1660.0L1801.7 1665.0L1796.7 1670.0Z M1793.3 1675.0L1798.3 1674.0L1796.7 1678.3Z M1830.7 1633.3L1833.3 1626.7L1835.3 1631.7L1833.3 1637.3Z M1849.3 1608.3L1853.3 1606.0L1855.0 1611.7L1850.7 1616.0Z M1586.7 2008.0L1591.7 2001.7L1596.7 1995.0L1596.0 1986.7L1598.3 1976.7L1605.0 1966.7L1613.3 1958.3L1623.3 1951.7L1633.3 1945.0L1640.0 1936.7L1645.0 1930.0L1650.0 1922.7L1656.7 1923.3L1663.3 1930.0L1673.3 1932.7L1681.7 1931.7L1690.0 1935.0L1698.3 1931.7L1706.7 1926.7L1716.7 1921.7L1730.0 1916.7L1743.3 1913.3L1756.7 1910.7L1773.3 1909.3L1786.7 1906.0L1800.0 1903.3L1813.3 1900.0L1825.0 1897.3L1830.0 1903.3L1835.0 1899.3L1832.7 1908.3L1836.7 1916.7L1840.0 1928.3L1835.0 1935.0L1831.7 1940.0L1836.7 1945.0L1845.0 1946.7L1851.7 1950.0L1860.0 1951.7L1873.3 1950.0L1886.7 1949.3L1898.3 1953.3L1903.3 1960.0L1913.3 1961.7L1926.7 1960.7L1940.0 1963.3L1953.3 1965.0L1960.0 1958.3L1958.3 1948.3L1953.3 1940.0L1956.7 1930.0L1963.3 1921.7L1973.3 1918.3L1984.0 1916.7 M1984.0 1708.3L1978.3 1711.7L1971.7 1715.0L1970.0 1726.7L1971.7 1740.0L1970.0 1753.3L1972.7 1766.7L1976.7 1775.0L1984.0 1780.0 M2090.7 1600.0L2094.0 1608.3L2090.7 1616.7L2089.0 1626.7L2094.0 1636.7L2099.0 1645.0L2110.7 1650.0L2124.0 1652.7L2137.3 1655.0L2149.0 1658.3L2159.0 1656.7L2160.7 1666.7L2165.7 1676.7L2174.0 1685.0L2180.7 1690.0L2190.7 1683.3L2200.7 1680.0L2210.7 1675.0L2215.7 1665.0L2221.3 1653.3L2214.0 1650.0L2205.7 1643.3L2197.3 1636.7L2189.0 1635.0L2182.3 1636.7L2174.0 1631.7L2180.7 1625.0L2182.3 1615.0L2172.3 1616.0L2164.0 1616.7L2162.3 1621.7L2166.7 1628.3L2157.3 1625.0L2150.7 1620.0L2145.7 1623.3L2137.3 1625.0L2127.3 1621.7L2119.0 1620.0L2120.7 1613.3L2125.7 1610.0L2120.7 1605.0L2119.0 1600.0 M1984.0 1711.7L1992.3 1708.3L1997.3 1706.7L1994.7 1716.7L2004.0 1722.7L2010.7 1715.0L2015.7 1706.7L2024.0 1701.7L2037.3 1699.3L2050.7 1698.3L2064.0 1699.3L2075.7 1697.3L2084.0 1701.7L2088.0 1708.3L2085.7 1720.0L2079.0 1728.3L2070.7 1735.0L2064.0 1737.3L2055.7 1741.7L2044.0 1740.7L2037.3 1744.0L2029.0 1748.3L2020.7 1755.0L2015.7 1763.3L2010.7 1771.7L2002.3 1778.3L1992.3 1781.7L1984.0 1783.3 M2004.0 1700.0L2007.3 1691.7L2014.0 1683.3L2019.0 1675.0L2024.0 1668.3L2027.3 1666.7L2023.3 1678.3L2026.7 1685.0L2027.3 1695.0L2022.3 1700.0L2015.7 1706.0L2009.0 1704.0Z M1984.0 1793.3L1992.3 1788.3L1998.0 1787.3L1995.7 1793.3L1987.3 1798.3L1984.0 1799.3 M1984.0 1820.0L1989.0 1830.0L1997.3 1833.3L2002.3 1840.0L2010.7 1836.0L2019.0 1837.3L2029.0 1837.3L2034.0 1831.7L2034.7 1825.0L2045.7 1821.7L2052.3 1824.0L2062.3 1820.0L2068.0 1813.3L2071.3 1801.7L2079.0 1799.3L2083.3 1791.7L2087.3 1800.0L2094.0 1808.3L2100.7 1818.3L2103.3 1833.3L2107.3 1846.7L2111.3 1860.0L2110.0 1870.0L2100.7 1878.3L2093.3 1881.7L2092.3 1886.0L2088.0 1886.0L2086.7 1881.7L2077.3 1886.7L2069.0 1895.0L2062.3 1903.3L2055.7 1906.7L2044.0 1910.0L2034.0 1911.7L2024.0 1914.0L2014.0 1919.3L2009.0 1915.0L1997.3 1918.3L1987.3 1920.7L1984.0 1920.0 M2064.0 1837.3L2070.7 1830.0L2076.7 1823.3L2080.7 1816.7L2081.3 1824.0L2077.3 1831.7L2071.3 1837.3L2066.7 1839.3Z M2011.3 1848.3L2014.7 1842.7L2015.7 1848.3L2013.3 1851.7Z M1984.0 1872.7L1992.3 1870.7L2000.7 1867.3L2003.3 1871.7L1995.7 1876.0L1987.3 1878.3L1984.0 1877.3 M2284.0 1951.7L2274.0 1956.7L2262.3 1953.3L2254.0 1948.3L2245.7 1940.0L2237.3 1931.7L2227.3 1926.7L2217.3 1925.0L2207.3 1926.7L2197.3 1924.0L2187.3 1918.3L2174.0 1911.7L2160.7 1905.0L2149.0 1900.7L2144.0 1904.0L2142.3 1893.3L2135.7 1884.0L2134.7 1890.0L2138.0 1900.0L2140.7 1911.7L2134.0 1909.3L2124.0 1905.0L2112.3 1900.0L2104.0 1895.0L2105.7 1898.3L2117.3 1906.7L2130.7 1915.0L2142.3 1921.7L2154.0 1930.0L2167.3 1938.3L2180.7 1945.0L2190.7 1949.3L2194.0 1955.0L2202.3 1960.0L2214.0 1960.7L2222.3 1960.0L2227.3 1966.7L2235.7 1970.7L2240.7 1978.3L2244.7 1982.7 M2457.3 1746.7L2454.0 1738.3L2449.0 1726.7L2444.0 1715.0L2440.0 1707.3L2430.7 1710.0L2420.7 1711.7L2412.3 1716.7L2405.7 1721.7L2397.3 1726.0L2384.0 1728.3L2374.0 1725.0L2365.7 1718.3L2364.7 1720.7L2367.3 1730.0L2370.0 1740.0L2371.3 1751.7L2373.3 1760.7L2367.3 1768.3L2362.3 1776.7L2359.0 1786.7L2350.7 1790.0L2347.3 1791.7L2342.3 1783.3L2335.7 1776.7L2327.3 1774.0L2324.7 1780.0L2329.0 1785.0L2330.7 1789.3L2319.0 1788.3L2312.3 1783.3L2300.7 1781.7L2284.0 1782.7L2270.7 1779.3L2257.3 1776.7L2260.0 1771.7L2254.0 1768.3L2257.3 1762.7L2255.7 1756.0L2265.7 1754.0L2267.3 1748.3L2277.3 1749.3L2290.7 1751.7L2305.7 1755.0L2314.0 1750.0L2324.0 1746.7L2334.0 1744.0L2342.3 1736.7L2350.0 1733.3L2352.3 1721.7L2354.0 1711.7L2360.7 1706.0L2369.0 1706.7L2377.3 1709.3L2384.0 1701.7L2394.0 1691.7L2404.0 1680.0L2412.3 1668.3L2419.0 1658.3L2424.0 1648.3L2425.7 1636.7L2432.3 1625.0L2437.3 1613.3L2441.3 1603.3L2447.3 1600.0 M1928.0 1013.1L1941.3 1011.5L1954.7 1009.1L1968.0 1006.5L1981.3 1004.8L1994.7 1005.8L1996.3 998.1L1993.0 994.8L1997.3 989.1L1991.3 984.8L1994.7 979.8L1984.7 981.5L1978.0 974.8L1976.3 964.8L1981.3 954.8L1989.7 944.8L1996.3 936.5L2003.0 929.8L2011.3 923.8L2024.7 919.1L2038.0 915.8L2051.3 912.5L2064.7 909.8L2078.0 908.1L2091.3 906.5L2101.3 905.8L2109.7 908.1L2116.3 913.1L2118.7 919.8L2117.3 924.8L2128.0 926.5L2131.3 923.8L2138.0 927.1L2148.0 928.1L2158.0 922.5L2168.0 924.8L2178.0 927.1L2183.0 931.5L2188.0 926.5L2189.7 916.5L2192.0 906.5L2194.0 899.8 M1979.7 993.8L1984.7 991.5L1986.3 996.5L1981.3 998.1Z M2079.7 1155.8L2088.0 1153.1L2099.7 1151.5L2109.7 1153.8L2119.7 1159.1L2128.0 1164.8L2134.7 1167.1L2139.7 1175.8L2140.7 1183.8L2136.3 1178.1L2131.3 1171.5L2123.0 1165.8L2113.0 1161.5L2101.3 1158.1L2089.7 1157.1L2081.3 1158.1Z M2243.0 899.8L2233.0 903.1L2226.3 908.1L2221.3 914.8L2214.0 913.8L2212.0 921.5L2216.3 928.1L2214.7 939.8L2204.7 941.5L2198.0 943.8L2199.7 953.1L2204.7 961.5L2213.0 968.1L2221.3 970.5L2229.7 975.8L2221.3 974.8L2219.7 979.8L2211.3 979.1L2204.0 979.8L2202.0 986.5L2206.3 991.5L2216.3 993.1L2224.7 997.1L2233.0 998.1L2239.7 999.8L2241.3 1007.1L2246.3 1009.1L2251.3 1007.1L2253.0 996.5L2256.3 989.8L2258.7 981.5L2254.7 977.1L2246.3 973.8L2243.0 964.8L2239.7 956.5L2238.7 953.1L2244.7 952.5L2249.7 957.1L2256.3 963.1L2264.7 961.5L2274.7 966.5L2287.3 968.1L2286.3 953.1L2294.7 944.8L2303.0 935.8L2304.7 926.5L2309.7 918.1L2313.0 924.8L2318.0 912.5L2326.3 916.5L2334.7 922.5L2331.3 909.8L2329.7 903.8L2338.0 899.8 M2071.7 843.5L2075.0 833.5L2081.7 825.1L2091.7 815.1L2095.0 813.5L2098.3 815.8L2105.0 806.8L2113.3 800.1L2121.7 795.8L2124.0 790.1L2131.7 787.8L2137.3 790.1L2133.3 794.5L2142.7 797.8L2148.3 792.5L2148.3 798.5L2153.3 800.1L2160.0 803.5L2163.3 811.8L2168.3 810.1L2169.3 805.8L2178.3 805.1L2186.7 804.5L2188.3 810.1L2183.3 815.1L2176.7 820.1L2181.7 825.1L2190.0 830.1L2198.3 833.5L2206.7 838.5L2215.0 843.5L2220.0 851.8L2213.3 854.5L2203.3 850.1L2191.7 849.1L2183.3 843.5L2175.0 836.8L2168.3 830.1L2165.0 825.8L2156.7 828.5L2148.3 831.1L2140.0 834.5L2136.7 833.5L2142.7 828.5L2135.0 825.1L2123.3 823.5L2113.3 825.1L2103.3 828.5L2095.0 833.5L2088.3 840.1L2083.3 845.1L2078.3 850.1L2073.3 847.8L2076.7 844.5Z M2218.3 841.8L2223.3 833.5L2233.3 828.5L2243.3 823.5L2251.7 825.1L2254.0 831.8L2248.3 836.8L2240.0 840.1L2235.0 843.5L2238.3 850.1L2236.7 856.8L2228.3 855.1L2220.0 852.5Z M2189.3 820.1L2195.0 816.8L2203.3 820.1L2208.3 824.5L2216.7 822.5L2218.3 828.5L2211.7 832.5L2205.0 834.5L2201.7 829.1L2193.3 826.8Z M2019.3 841.8L2028.3 841.1L2036.7 845.8L2043.3 844.5L2050.0 840.1L2053.3 848.5L2057.3 856.8L2065.0 855.1L2066.7 861.8L2072.7 853.5L2078.3 855.1L2075.0 861.8L2068.3 866.8L2061.7 870.1L2058.3 866.8L2051.7 870.1L2045.0 875.1L2038.3 883.5L2033.3 878.5L2030.0 868.5L2026.7 858.5L2021.7 851.8L2020.0 846.8Z M1964.0 849.1L1970.0 847.1L1974.0 848.5L1966.7 850.5Z M1981.7 849.1L1993.3 846.8L2002.7 845.8L1993.3 851.8L1986.7 851.1Z M1897.3 877.8L1901.7 874.5L1907.3 873.5L1906.0 877.8L1900.0 879.1Z M1945.0 852.5L1950.0 851.1 M2010.0 849.1L2017.3 847.8 M2289.3 811.1L2295.0 811.8 M2320.0 810.1L2325.0 809.1L2328.3 811.1L2333.3 809.1 M1858.3 899.8L1866.7 891.8L1875.0 886.8L1883.3 881.8L1891.7 879.1L1890.0 888.5L1888.3 896.8L1886.7 899.8 M2193.3 899.8L2198.3 890.1L2206.7 881.8L2218.3 877.8L2230.0 880.1L2238.3 885.1L2246.0 890.1L2241.7 895.1L2236.7 899.8 M2346.7 899.8L2353.3 896.8L2360.0 897.8 M1365.0 495.8L1370.0 492.8L1375.0 495.8L1370.7 499.1Z M1392.7 496.8L1398.3 494.5L1402.7 497.8L1398.3 501.1Z M1418.3 496.8L1423.3 494.5L1426.0 496.8L1421.7 501.1Z M1620.0 886.8L1625.0 882.5L1630.0 881.1L1626.0 889.1L1621.7 891.1Z M1630.0 880.1L1635.0 875.1L1637.3 872.5L1636.0 880.1L1631.7 883.5Z M1766.0 868.5L1770.0 867.8L1769.3 871.8Z M1379.3 497.8L1383.3 496.5 M1673.3 862.5L1676.0 859.1L1678.3 860.1 M1689.3 853.5L1693.3 852.5L1692.7 855.8 M1700.0 851.8L1703.3 855.1 M1856.7 1239.8L1851.7 1246.5L1848.3 1253.1L1855.0 1258.1L1861.7 1256.5L1866.7 1263.1L1868.3 1271.5L1873.3 1278.1L1878.3 1286.5L1885.0 1293.1L1893.3 1298.1L1895.0 1306.5L1896.7 1314.8L1905.0 1318.1L1911.7 1313.1L1916.0 1317.1L1911.7 1323.1L1905.0 1327.1L1908.3 1331.5L1915.0 1333.1L1920.0 1329.1L1917.3 1336.5L1911.7 1339.8L1906.7 1343.1L1911.7 1347.1L1920.0 1345.8L1930.0 1348.1L1938.3 1351.5L1940.7 1345.8L1945.0 1351.5L1953.3 1354.8L1960.0 1361.5L1965.0 1368.1L1961.7 1372.5L1956.7 1366.5L1948.3 1359.8L1940.0 1356.5L1930.0 1354.8L1920.0 1353.1L1910.0 1351.5L1903.3 1346.5L1898.3 1336.5L1893.3 1339.8L1889.3 1346.5L1895.0 1353.1L1901.7 1359.8L1908.3 1368.1L1918.3 1373.1L1930.0 1373.1L1939.3 1372.5L1933.3 1377.1L1925.0 1381.5L1916.7 1386.5L1908.3 1393.1L1901.7 1396.5L1910.0 1398.1L1920.0 1399.1L1923.3 1404.8L1918.3 1409.8L1913.3 1414.8L1915.0 1421.5L1908.3 1424.8L1904.0 1433.1L1902.7 1443.1L1900.7 1453.1L1905.0 1459.8L1901.7 1463.1L1895.0 1463.8L1891.7 1456.5L1886.0 1454.8L1879.3 1458.1L1886.7 1463.1L1895.0 1469.8L1899.3 1476.5L1895.0 1481.5L1891.7 1488.1L1888.3 1496.5L1883.3 1503.1L1881.7 1508.1L1888.3 1511.5L1893.3 1513.1L1890.0 1518.1L1880.0 1519.1L1873.3 1513.1L1868.3 1506.5L1860.0 1503.1L1851.7 1501.5L1861.7 1499.1L1871.7 1496.5L1880.0 1493.1L1886.0 1486.5L1886.7 1478.1L1880.0 1473.1L1870.0 1472.5L1860.0 1473.8L1848.3 1473.1L1838.3 1476.5L1830.0 1479.1L1823.3 1478.1L1828.3 1473.1L1821.7 1470.5L1815.0 1471.5L1809.3 1478.1L1805.0 1474.8L1800.0 1481.5L1795.0 1489.8L1790.0 1496.5L1785.0 1503.1L1786.7 1509.8L1781.7 1511.5L1780.0 1516.5 M1848.3 1341.5L1851.7 1338.1L1856.7 1341.5L1857.3 1351.5L1860.0 1363.1L1863.3 1373.1L1867.3 1383.1L1871.7 1391.5L1878.3 1398.1L1886.7 1401.5L1895.0 1400.5L1893.3 1405.8L1886.7 1411.5L1878.3 1412.5L1871.7 1406.5L1866.0 1398.1L1861.7 1389.8L1857.3 1379.8L1854.0 1369.8L1851.7 1358.1L1850.0 1348.1Z M1811.7 1276.5L1820.0 1271.5L1830.0 1264.8L1835.0 1256.5L1841.7 1253.8L1846.7 1264.8L1838.3 1266.5L1835.0 1274.8L1828.3 1283.1L1820.0 1282.5L1815.0 1279.8Z M1789.3 1354.8L1793.3 1351.5L1797.3 1354.8L1794.0 1359.8L1790.0 1359.8Z M1794.0 1338.1L1796.7 1334.8L1799.3 1339.8L1796.0 1342.5Z M1801.7 1329.8L1805.0 1327.1L1806.7 1333.1L1808.3 1338.1L1805.0 1339.8L1803.3 1334.8Z M1887.3 1434.8L1892.7 1432.5L1895.0 1438.1L1891.7 1441.5L1888.3 1439.8Z M1888.3 1534.8L1895.0 1535.8L1900.0 1539.8L1906.0 1543.1L1907.3 1548.1L1901.7 1546.5L1896.0 1544.8L1893.3 1539.1Z M1876.7 1561.5L1883.3 1557.1L1891.7 1558.1L1896.0 1563.1L1893.3 1568.1L1890.0 1573.1L1886.0 1568.1L1879.3 1566.5Z M2152.7 1522.5L2158.3 1531.5L2166.7 1532.5L2174.0 1531.5L2175.0 1539.1L2180.0 1544.8L2181.7 1551.5L2177.3 1558.1L2172.7 1566.5L2165.0 1563.1L2156.7 1558.1L2150.7 1548.1L2153.3 1539.8L2149.3 1534.8Z M1819.3 1599.8L1813.3 1591.5L1810.0 1579.8L1811.7 1569.8L1815.0 1559.8L1819.3 1551.5L1816.0 1543.1L1818.3 1534.8L1826.7 1530.5L1833.3 1533.1L1835.0 1541.5L1832.7 1549.8L1830.0 1559.8L1826.7 1569.8L1830.0 1579.8L1835.0 1588.1L1843.3 1593.1L1851.7 1591.5L1860.0 1586.5L1868.3 1579.8L1876.7 1576.5L1885.0 1577.1L1880.0 1581.5L1875.0 1588.1L1866.7 1591.5L1860.0 1598.1 M2092.7 1603.1L2096.7 1596.5L2103.3 1588.1L2111.7 1583.1L2121.7 1582.5L2128.3 1586.5L2134.0 1588.1L2130.0 1593.1L2123.3 1598.1L2120.0 1601.5 M2391.6 865.1L2399.7 861.4L2410.5 858.7L2422.6 856.5L2432.1 856.0L2440.2 854.3L2436.9 861.9L2433.4 868.7L2428.0 872.7L2419.9 875.4L2409.1 875.9L2399.7 874.9L2392.9 871.3Z M2339.8 898.3L2340.9 901.0L2347.9 899.1L2351.1 896.4L2356.0 896.4L2357.9 899.7L2367.3 900.2L2376.7 899.7L2383.5 901.0L2385.7 904.5L2388.9 901.8L2397.0 900.2L2405.1 900.2L2413.2 901.8L2420.7 901.0L2424.0 906.4L2428.8 905.1L2437.5 908.3L2445.6 911.8L2455.0 915.9L2463.9 922.6L2469.3 930.7L2473.1 937.5L2475.8 941.5L2482.0 942.3L2477.9 946.9L2483.9 948.3L2479.3 953.1L2487.4 951.0L2485.5 957.7L2491.4 958.5L2496.8 963.1L2502.2 969.3L2509.0 977.9L2514.4 984.7L2518.4 988.2L2523.8 988.2L2527.9 983.3L2534.6 990.1L2530.6 994.1L2523.8 996.8L2519.0 998.2L2519.8 1004.9L2519.0 1011.7L2522.5 1019.8L2527.9 1026.5L2534.6 1033.3L2542.2 1038.7L2549.4 1041.3L2556.7 1044.0 M2289.6 810.1L2295.8 811.4 M2320.1 810.1L2324.7 808.7L2328.2 810.6L2332.8 808.7 M2589.9 1238.3L2583.2 1243.7L2575.1 1249.1L2567.0 1253.2L2558.9 1255.9L2552.1 1259.9L2548.1 1265.3L2553.5 1272.1L2558.9 1280.2L2562.9 1286.9L2564.3 1296.3L2565.6 1307.1L2567.0 1312.0 M2590.7 1239.5L2580.8 1247.9L2569.5 1252.7L2558.2 1256.4L2548.3 1265.7L2555.4 1274.8L2561.6 1281.8L2563.3 1294.5L2565.3 1311.5L2558.2 1313.7L2562.5 1319.9L2567.3 1329.0L2578.0 1331.8L2586.5 1336.9L2590.7 1339.7 M2549.8 1542.9L2538.5 1540.6L2530.0 1542.9L2517.3 1538.7L2522.9 1545.7L2531.4 1550.8L2533.4 1559.8L2531.4 1571.1L2525.8 1578.2L2515.9 1582.4L2507.4 1585.2L2500.4 1585.8L2503.2 1574.0L2501.8 1569.7L2496.1 1566.0L2497.5 1574.0L2493.3 1581.0L2483.4 1586.7L2476.4 1590.9L2467.9 1597.9L2455.2 1598.8L2447.0 1599.9 M2204.0 1379.2L2206.8 1386.2L2202.6 1394.7L2198.3 1404.6L2194.7 1415.9L2199.8 1425.8L2206.8 1431.4L2215.3 1429.4L2207.7 1427.2L2201.2 1421.5L2198.3 1414.5L2201.2 1404.6L2204.8 1394.7L2206.8 1387.7Z M1816.0 962.5L1826.0 940.0L1846.0 920.0L1866.0 910.0L1881.0 895.0L1891.0 880.0 M1586.5 2008.0L1575.0 2012.5L1550.0 2019.0L1542.5 2022.5L1525.0 2037.5L1515.0 2050.0L1500.0 2065.0L1487.5 2077.5L1475.0 2090.0L1466.0 2105.0L1470.0 2115.0L1474.0 2126.0 M1500.0 2002.5L1510.0 1999.0L1507.5 2007.5Z M1512.5 2007.5L1517.5 2012.5L1514.0 2014.0Z M1532.5 2010.0L1542.5 2001.0L1545.0 2002.5L1537.5 2012.5Z M1789.6 1495.2L1783.3 1505.6L1772.9 1520.2L1781.2 1516.0L1777.1 1530.6L1770.8 1547.3L1762.5 1568.1L1756.2 1584.8L1747.9 1599.4L1745.0 1599.8 M1961.0 966.0L1966.0 955.0L1976.0 940.0L1983.5 925.0L1988.5 910.0L1996.0 912.5L2006.0 902.5L2013.5 892.5L2015.0 884.0L2021.0 890.0L2028.5 887.5L2023.5 897.5L2016.0 907.5L2008.5 917.5L1998.5 930.0L1988.5 942.5L1978.5 955.0L1968.5 965.0Z" fill="none" stroke="#606060" stroke-width="1" stroke-linejoin="round"/></g>
</g>
<circle cx="1716.25" cy="1286.00" r="873.15" fill="none" stroke="#fff" stroke-width="3.1"/>
<circle cx="1716.25" cy="1286.00" r="874.70" fill="none" stroke="#6a6a6a" stroke-width="0.85"/>
<g clip-path="url(#c2)">
<circle cx="1716.25" cy="3376.20" r="874.60" fill="#FFF78F"/>
<path d="M2050.0 2400.0C2111.8 2393.4 2782.5 2362.6 2800.0 2400.0C2817.5 2437.4 2800.0 4000.0 2800.0 4000.0C2800.0 4000.0 2430.0 3902.1 2426.0 3901.0C2422.0 3899.9 2419.1 3894.5 2416.0 3891.0C2412.9 3887.5 2396.2 3865.8 2391.0 3861.0C2385.8 3856.2 2377.7 3851.7 2371.0 3850.0C2364.3 3848.3 2350.7 3849.8 2341.0 3848.5C2331.3 3847.2 2317.5 3843.7 2306.0 3841.0C2294.5 3838.3 2276.5 3833.0 2266.0 3831.0C2255.5 3829.0 2235.6 3827.7 2233.5 3827.0C2231.4 3826.3 2228.8 3821.0 2228.5 3818.5C2228.2 3816.0 2229.2 3809.8 2231.0 3808.5C2232.8 3807.2 2247.9 3802.1 2256.0 3798.5C2264.1 3794.9 2278.8 3788.8 2281.0 3786.0C2283.2 3783.2 2281.4 3772.6 2281.0 3766.0C2280.6 3759.4 2278.5 3749.2 2278.5 3741.0C2278.5 3732.8 2278.9 3723.7 2281.0 3716.0C2283.1 3708.3 2292.3 3691.8 2293.5 3686.0C2294.7 3680.2 2290.6 3672.3 2291.0 3666.0C2291.4 3659.7 2294.8 3652.5 2296.0 3646.0C2297.2 3639.5 2299.9 3628.9 2298.5 3626.0C2297.1 3623.1 2286.9 3619.1 2281.0 3616.0C2275.1 3612.9 2262.7 3608.1 2261.0 3606.0C2259.3 3603.9 2259.7 3594.3 2261.0 3591.0C2262.3 3587.7 2267.3 3583.6 2271.0 3581.0C2274.7 3578.4 2281.4 3573.8 2286.0 3573.5C2290.6 3573.2 2316.0 3578.5 2316.0 3578.5C2316.0 3578.5 2316.4 3575.2 2316.0 3575.0C2315.6 3574.8 2288.8 3567.9 2286.0 3566.0C2283.2 3564.1 2280.4 3554.5 2281.0 3551.0C2281.6 3547.5 2287.3 3540.5 2291.0 3536.0C2294.7 3531.5 2301.1 3525.9 2306.0 3521.0C2310.9 3516.1 2317.8 3510.2 2321.0 3506.0C2324.2 3501.8 2327.2 3496.0 2328.5 3491.0C2329.8 3486.0 2330.0 3471.0 2330.0 3471.0C2330.0 3471.0 2320.9 3481.3 2316.0 3486.0C2311.1 3490.7 2296.0 3503.5 2296.0 3503.5C2296.0 3503.5 2292.4 3492.2 2291.0 3491.0C2289.6 3489.8 2283.0 3489.1 2281.0 3490.0C2279.0 3490.9 2273.7 3496.3 2273.5 3498.5C2273.3 3500.7 2278.8 3513.2 2278.5 3513.5C2278.2 3513.8 2258.8 3517.3 2256.0 3518.5C2253.2 3519.7 2249.4 3523.5 2248.5 3526.0C2247.6 3528.5 2247.3 3536.0 2248.5 3538.5C2249.7 3541.0 2256.9 3543.1 2258.5 3546.0C2260.1 3548.9 2263.5 3559.9 2263.5 3566.0C2263.5 3572.1 2259.0 3582.8 2258.5 3586.0C2258.0 3589.2 2259.4 3593.1 2258.5 3596.0C2257.6 3598.9 2253.8 3606.3 2251.0 3611.0C2248.2 3615.7 2243.9 3620.9 2241.0 3626.0C2238.1 3631.1 2233.9 3640.9 2231.0 3646.0C2228.1 3651.1 2224.7 3656.5 2221.0 3661.0C2217.3 3665.5 2211.3 3671.5 2206.0 3676.0C2200.7 3680.5 2193.1 3687.3 2186.0 3691.0C2178.9 3694.7 2165.6 3699.2 2156.0 3702.0C2146.4 3704.8 2135.9 3706.2 2126.0 3708.5C2116.1 3710.8 2105.9 3713.5 2096.0 3716.0C2086.1 3718.5 2076.0 3721.4 2066.0 3723.5C2056.0 3725.6 2039.0 3729.4 2026.0 3731.0C2013.0 3732.6 1999.1 3733.7 1986.0 3733.5C1972.9 3733.3 1951.8 3730.1 1944.0 3730.0C1936.2 3729.9 1926.6 3732.1 1920.0 3732.7C1913.4 3733.3 1906.6 3733.5 1900.0 3734.0C1893.4 3734.5 1886.6 3735.5 1880.0 3736.0C1873.4 3736.5 1866.6 3736.7 1860.0 3737.3C1853.4 3738.0 1846.6 3739.0 1840.0 3740.0C1833.4 3741.0 1826.6 3742.2 1820.0 3743.3C1813.4 3744.4 1806.6 3745.7 1800.0 3746.7C1793.4 3747.7 1786.6 3748.5 1780.0 3749.3C1773.4 3750.2 1766.6 3750.9 1760.0 3751.7C1753.4 3752.4 1746.5 3752.9 1740.0 3754.0C1733.5 3755.1 1726.6 3756.8 1720.0 3758.3C1713.4 3759.9 1706.6 3761.7 1700.0 3763.3C1693.4 3765.0 1686.5 3766.4 1680.0 3768.3C1673.5 3770.2 1666.6 3772.8 1660.0 3775.0C1653.4 3777.2 1646.6 3779.5 1640.0 3781.7C1633.4 3783.9 1626.5 3786.4 1620.0 3788.3C1613.5 3790.2 1606.6 3791.7 1600.0 3793.3C1593.4 3795.0 1586.5 3797.0 1580.0 3798.3C1573.5 3799.7 1566.6 3800.8 1560.0 3801.7C1553.4 3802.5 1546.5 3803.3 1540.0 3803.3C1533.5 3803.3 1526.5 3802.7 1520.0 3801.7C1513.5 3800.6 1506.2 3799.0 1500.0 3796.7C1493.8 3794.3 1486.3 3790.4 1480.0 3786.7C1473.7 3783.0 1466.3 3778.1 1460.0 3773.3C1453.7 3768.6 1445.7 3761.9 1440.0 3756.7C1434.3 3751.5 1428.0 3745.2 1423.3 3740.0C1418.6 3734.8 1413.4 3727.7 1410.0 3723.3C1406.6 3719.0 1402.8 3714.4 1400.0 3710.0C1397.2 3705.6 1394.1 3700.8 1392.5 3696.0C1390.9 3691.2 1386.6 3675.7 1385.0 3666.0C1383.4 3656.3 1382.9 3645.9 1382.5 3636.0C1382.1 3626.1 1383.2 3614.2 1382.5 3606.0C1381.8 3597.8 1379.5 3589.1 1377.5 3581.0C1375.5 3572.9 1371.9 3564.3 1370.0 3556.0C1368.1 3547.7 1366.5 3535.9 1365.0 3526.0C1363.5 3516.1 1361.9 3501.0 1360.0 3491.0C1358.1 3481.0 1355.6 3469.5 1352.5 3461.0C1349.4 3452.5 1344.0 3443.5 1340.0 3436.0C1336.0 3428.5 1331.6 3420.9 1327.5 3413.5C1323.4 3406.1 1318.8 3397.9 1315.0 3391.0C1311.2 3384.1 1305.5 3374.5 1303.8 3370.0C1302.0 3365.5 1301.9 3359.9 1301.2 3355.0C1300.6 3350.1 1299.7 3344.9 1299.5 3340.0C1299.3 3335.1 1299.8 3327.5 1300.0 3325.0C1300.2 3322.5 1300.5 3319.8 1301.2 3317.5C1302.0 3315.2 1303.5 3312.3 1305.0 3310.0C1306.5 3307.7 1309.7 3302.8 1312.5 3300.0C1315.3 3297.2 1319.0 3294.6 1322.5 3292.5C1326.0 3290.4 1330.8 3287.9 1335.0 3286.2C1339.2 3284.6 1345.2 3283.0 1350.0 3282.0C1354.8 3281.0 1360.1 3280.9 1365.0 3280.0C1369.9 3279.1 1375.1 3277.7 1380.0 3276.2C1384.9 3274.8 1390.0 3272.9 1395.0 3271.2C1400.0 3269.6 1405.0 3267.9 1410.0 3266.2C1415.0 3264.6 1420.1 3262.7 1425.0 3261.2C1429.9 3259.8 1435.1 3258.5 1440.0 3257.5C1444.9 3256.5 1450.1 3255.6 1455.0 3255.0C1459.9 3254.4 1465.1 3254.4 1470.0 3253.8C1474.9 3253.1 1480.1 3252.3 1485.0 3251.2C1489.9 3250.2 1495.1 3248.6 1500.0 3247.5C1504.9 3246.4 1510.1 3245.5 1515.0 3244.5C1519.9 3243.5 1525.1 3242.6 1530.0 3241.2C1534.9 3239.9 1541.6 3237.6 1545.0 3236.2C1548.4 3234.9 1551.8 3233.1 1555.0 3231.2C1558.2 3229.4 1561.8 3226.8 1565.0 3225.0C1568.2 3223.2 1571.6 3221.4 1575.0 3220.0C1578.4 3218.6 1585.1 3216.7 1590.0 3215.0C1594.9 3213.3 1605.4 3210.0 1608.0 3208.8C1610.6 3207.5 1612.5 3204.1 1615.0 3202.5C1617.5 3200.9 1625.3 3197.8 1630.0 3195.0C1634.7 3192.2 1640.5 3188.7 1645.0 3185.0C1649.5 3181.3 1655.3 3174.3 1660.0 3170.0C1664.7 3165.7 1670.6 3161.7 1675.0 3157.5C1679.4 3153.3 1683.7 3147.4 1687.5 3143.8C1691.3 3140.1 1695.6 3136.4 1700.0 3133.8C1704.4 3131.1 1710.2 3129.1 1715.0 3127.5C1719.8 3125.9 1725.2 3125.3 1730.0 3123.8C1734.8 3122.2 1740.1 3119.3 1745.0 3117.5C1749.9 3115.7 1755.1 3113.9 1760.0 3112.5C1764.9 3111.1 1770.2 3109.6 1775.0 3108.8C1779.8 3107.9 1785.1 3108.1 1790.0 3107.5C1794.9 3106.9 1800.2 3106.2 1805.0 3105.0C1809.8 3103.8 1815.0 3101.7 1820.0 3100.0C1825.0 3098.3 1830.9 3096.3 1835.0 3095.0C1839.1 3093.7 1843.4 3091.8 1847.5 3091.2C1851.6 3090.7 1858.4 3090.7 1862.5 3091.2C1866.6 3091.8 1871.1 3093.4 1875.0 3095.0C1878.9 3096.6 1883.4 3099.2 1887.5 3101.2C1891.6 3103.3 1895.9 3105.4 1900.0 3107.5C1904.1 3109.6 1908.4 3111.7 1912.5 3113.8C1916.6 3115.8 1921.1 3118.7 1925.0 3120.0C1928.9 3121.3 1934.5 3123.3 1937.5 3122.5C1940.5 3121.7 1946.0 3116.4 1950.0 3113.8C1954.0 3111.1 1958.6 3108.2 1962.5 3106.2C1966.4 3104.3 1970.8 3102.6 1975.0 3101.2C1979.2 3099.9 1985.0 3098.4 1990.0 3097.5C1995.0 3096.6 2005.3 3095.7 2008.0 3095.0C2010.7 3094.3 2013.2 3091.7 2016.0 3091.0C2018.8 3090.3 2030.8 3089.9 2036.0 3087.5C2041.2 3085.1 2047.1 3079.3 2051.0 3075.0C2054.9 3070.7 2059.2 3064.3 2061.0 3060.0C2062.8 3055.7 2062.1 3049.8 2063.5 3045.0C2064.9 3040.2 2067.5 3030.4 2071.0 3025.0C2074.5 3019.6 2080.7 3014.5 2086.0 3010.0C2091.3 3005.5 2100.1 3000.5 2106.0 2995.0C2111.9 2989.5 2118.9 2981.2 2123.5 2975.0C2128.1 2968.8 2132.9 2961.2 2136.0 2955.0C2139.1 2948.8 2141.5 2941.5 2143.5 2935.0C2145.5 2928.5 2147.3 2921.5 2148.5 2915.0C2149.7 2908.5 2151.7 2899.7 2151.0 2895.0C2150.3 2890.3 2145.7 2885.1 2143.5 2880.0C2141.3 2874.9 2139.1 2866.2 2136.0 2860.0C2132.9 2853.8 2126.2 2843.1 2121.0 2835.0C2115.8 2826.9 2107.8 2814.8 2101.0 2805.0C2094.2 2795.2 2084.4 2781.4 2076.0 2770.0C2067.6 2758.6 2055.9 2743.2 2046.0 2730.0C2036.1 2716.8 2025.7 2702.5 2016.0 2690.0C2006.3 2677.5 1995.7 2664.2 1986.0 2652.5C1976.3 2640.8 1965.7 2629.2 1956.0 2617.5C1946.3 2605.8 1935.9 2592.4 1926.0 2580.0C1916.1 2567.6 1902.7 2550.5 1896.0 2542.5C1889.3 2534.5 1878.9 2524.5 1875.0 2519.0C1871.1 2513.5 1864.8 2500.8 1866.0 2500.0C1867.2 2499.2 1988.2 2406.6 2050.0 2400.0Z" fill="#B1DFF4"/>
<path d="M2294.4 3287.0L2300.0 3266.7L2307.4 3244.4L2314.8 3222.2L2324.1 3201.9L2340.7 3190.7L2361.1 3180.7L2374.1 3179.6L2381.5 3163.0L2396.3 3150.0L2414.8 3142.6L2437.0 3133.3L2459.3 3127.8L2481.5 3127.8L2500.0 3135.2L2513.0 3146.3L2517.8 3161.1L2513.0 3174.1L2503.7 3183.3L2488.9 3187.0L2474.1 3196.3L2459.3 3211.1L2444.4 3222.2L2425.9 3229.6L2407.4 3233.3L2392.6 3235.2L2385.2 3240.7L2381.5 3255.6L2379.6 3274.1L2370.4 3290.7L2364.8 3291.9L2372.2 3303.7L2377.0 3322.2L2378.5 3335.2L2370.4 3348.1L2363.0 3366.7L2350.0 3374.1L2351.9 3390.7L2337.0 3401.9L2331.5 3381.5L2325.9 3364.8L2331.5 3348.1L2332.6 3329.6L2331.5 3311.1L2324.1 3298.1L2317.8 3296.3L2313.0 3307.4L2308.1 3321.5L2300.0 3311.1L2299.3 3298.1Z" fill="#FFF78F"/>
<path d="M2344.4 3250.0L2348.9 3243.7L2354.8 3248.9L2351.1 3255.6Z" fill="#FFD62B"/>
<path d="M2368.5 3231.5L2373.3 3227.8L2374.8 3233.3Z" fill="#FFD62B"/>
<path d="M2248.1 3457.4L2256.3 3448.9L2265.9 3461.1L2254.8 3468.5Z" fill="#FFF78F"/>
<path d="M2247.0 3501.9L2251.1 3485.9L2253.7 3496.3Z" fill="#FFF78F"/>
<path d="M2328.5 3316.0L2333.5 3336.0L2328.5 3361.0L2336.0 3401.0L2351.0 3393.5L2350.0 3371.0L2366.0 3363.5L2376.0 3336.0L2378.5 3316.0L2366.0 3306.0L2341.0 3306.0Z" fill="#FFF78F"/>
<path d="M2248.5 3456.0L2258.5 3448.5L2266.0 3461.0L2253.5 3468.5Z" fill="#FFF78F"/>
<path d="M2246.0 3498.5L2251.0 3486.0L2253.5 3498.5Z" fill="#FFF78F"/>
<path d="M2411.1 3301.9L2422.2 3314.8L2437.0 3329.6L2450.0 3344.4L2451.9 3363.0L2459.3 3377.8L2465.9 3392.6L2464.8 3409.3L2453.7 3418.5L2440.7 3423.0L2427.8 3420.4L2414.8 3407.4L2403.7 3411.1L2394.4 3422.2L2392.6 3448.1L2396.3 3466.7L2403.7 3483.3L2396.3 3496.3L2389.6 3505.6L2377.8 3492.6L2370.4 3477.8L2360.0 3461.1L2364.8 3448.1L2367.4 3433.3L2364.8 3418.5L2372.2 3403.7L2381.5 3392.6L2379.6 3375.9L2385.2 3359.3L2391.9 3340.7L2393.3 3318.5L2401.9 3309.3Z" fill="#73C6F2"/>
<path d="M2223.0 3211.9L2229.6 3229.6L2237.0 3248.1L2243.7 3266.7L2245.2 3283.3L2242.6 3292.6L2228.9 3275.9L2227.8 3255.6L2223.0 3229.6Z" fill="#73C6F2"/>
<path d="M2311.9 3653.7L2323.0 3636.3L2327.0 3660.4Z" fill="#73C6F2"/>
<path d="M1497.5 3422.0C1500.7 3417.1 1504.8 3412.5 1507.5 3407.5C1510.2 3402.5 1513.8 3394.6 1515.0 3390.0C1516.2 3385.4 1515.8 3379.9 1516.2 3375.0C1516.7 3370.1 1517.0 3364.9 1517.5 3360.0C1518.0 3355.1 1519.3 3345.0 1520.0 3340.0C1520.7 3335.0 1521.4 3329.2 1522.5 3325.0C1523.6 3320.8 1525.3 3316.2 1527.5 3312.5C1529.7 3308.8 1534.0 3303.9 1537.5 3300.0C1541.0 3296.1 1546.1 3291.0 1550.0 3287.5C1553.9 3284.0 1558.5 3280.9 1562.5 3277.5C1566.5 3274.1 1570.9 3270.0 1575.0 3266.2C1579.1 3262.5 1583.6 3258.1 1587.5 3255.0C1591.4 3251.9 1597.4 3248.0 1600.0 3246.2C1602.6 3244.5 1605.8 3243.3 1608.0 3241.2C1610.2 3239.2 1612.5 3235.2 1615.0 3232.5C1617.5 3229.8 1625.0 3222.4 1630.0 3217.5C1635.0 3212.6 1640.0 3207.4 1645.0 3202.5C1650.0 3197.6 1655.3 3191.8 1660.0 3187.5C1664.7 3183.2 1670.3 3178.6 1675.0 3175.0C1679.7 3171.4 1685.3 3167.8 1690.0 3165.0C1694.7 3162.2 1700.1 3159.7 1705.0 3157.5C1709.9 3155.3 1715.1 3153.1 1720.0 3151.2C1724.9 3149.4 1730.0 3147.9 1735.0 3146.2C1740.0 3144.6 1745.1 3142.7 1750.0 3141.2C1754.9 3139.8 1760.2 3138.1 1765.0 3137.5C1769.8 3136.9 1776.7 3138.2 1780.0 3137.5C1783.3 3136.8 1786.8 3133.9 1790.0 3132.5C1793.2 3131.1 1796.6 3129.8 1800.0 3128.8C1803.4 3127.7 1810.1 3126.4 1815.0 3125.0C1819.9 3123.6 1826.7 3121.2 1830.0 3120.0C1833.3 3118.8 1837.4 3117.4 1840.0 3116.2C1842.6 3115.1 1845.0 3112.6 1847.5 3112.0C1850.0 3111.4 1856.8 3110.6 1860.0 3111.2C1863.2 3111.9 1867.3 3114.1 1870.0 3116.2C1872.7 3118.4 1874.8 3122.5 1877.5 3125.0C1880.2 3127.5 1884.0 3130.6 1887.5 3132.5C1891.0 3134.4 1897.3 3136.0 1900.0 3137.5C1902.7 3139.0 1906.3 3141.4 1907.5 3143.8C1908.7 3146.1 1908.0 3154.4 1910.0 3157.5C1912.0 3160.6 1919.8 3166.8 1922.5 3167.5C1925.2 3168.2 1933.3 3165.1 1935.0 3163.8C1936.7 3162.4 1937.0 3157.4 1938.8 3155.0C1940.5 3152.6 1946.3 3146.7 1950.0 3143.8C1953.7 3140.8 1958.7 3138.0 1962.5 3136.2C1966.3 3134.5 1971.1 3132.7 1975.0 3132.5C1978.9 3132.3 1985.3 3133.6 1990.0 3135.0C1994.7 3136.4 2007.7 3142.4 2008.0 3142.5C2008.3 3142.6 2008.1 3143.6 2008.3 3143.8C2008.6 3143.9 2019.6 3149.7 2025.0 3152.1C2030.4 3154.4 2036.1 3157.1 2041.7 3158.3C2047.2 3159.6 2056.9 3158.9 2062.5 3160.4C2068.1 3162.0 2074.2 3165.4 2079.2 3168.8C2084.1 3172.1 2092.2 3180.7 2095.8 3183.3C2099.5 3185.9 2105.1 3189.6 2108.3 3189.6C2111.6 3189.6 2119.3 3185.3 2122.9 3183.3C2126.6 3181.3 2132.3 3175.6 2133.3 3175.8C2134.4 3176.0 2142.2 3183.5 2143.8 3187.5C2145.3 3191.5 2144.3 3202.7 2145.8 3208.3C2147.4 3213.9 2151.2 3219.7 2154.2 3225.0C2157.2 3230.3 2162.2 3236.6 2164.6 3241.7C2167.0 3246.8 2170.3 3253.8 2170.0 3258.3C2169.7 3262.9 2165.9 3270.8 2162.5 3275.0C2159.1 3279.2 2150.0 3283.0 2145.8 3287.5C2141.7 3292.0 2135.9 3300.2 2135.4 3304.2C2134.9 3308.1 2138.9 3315.9 2141.7 3320.8C2144.4 3325.8 2151.3 3333.5 2154.2 3337.5C2157.0 3341.5 2159.2 3348.1 2162.5 3350.0C2165.8 3351.9 2183.3 3354.2 2183.3 3354.2C2183.3 3354.2 2174.4 3357.8 2170.8 3360.4C2167.3 3363.0 2161.9 3367.2 2160.4 3370.8C2159.0 3374.5 2157.7 3386.3 2158.3 3391.7C2158.9 3397.0 2162.2 3405.2 2164.6 3408.3C2167.0 3411.4 2173.8 3415.6 2177.1 3415.8C2180.4 3416.1 2186.9 3412.2 2191.7 3410.4C2196.5 3408.6 2203.4 3406.9 2208.3 3404.2C2213.3 3401.4 2220.7 3395.2 2225.0 3391.7C2229.3 3388.1 2237.1 3380.1 2237.5 3380.0C2237.9 3379.9 2244.0 3386.5 2243.8 3387.5C2243.5 3388.5 2236.2 3395.6 2233.3 3400.0C2230.5 3404.4 2226.0 3411.1 2225.0 3416.7C2224.0 3422.2 2225.3 3436.2 2225.0 3445.8C2224.7 3455.4 2222.9 3466.8 2222.9 3475.0C2222.9 3483.2 2226.1 3494.7 2225.0 3500.0C2223.9 3505.3 2217.2 3510.9 2214.6 3516.7C2212.0 3522.4 2209.1 3534.6 2206.2 3541.7C2203.4 3548.7 2199.5 3555.8 2195.8 3562.5C2192.1 3569.2 2187.1 3577.6 2183.3 3583.3C2179.5 3589.0 2175.0 3594.5 2170.8 3600.0C2166.7 3605.5 2162.1 3611.0 2158.3 3616.7C2154.5 3622.4 2150.9 3631.8 2145.8 3637.5C2140.8 3643.2 2132.3 3649.5 2125.0 3654.2C2117.7 3658.8 2108.4 3663.1 2100.0 3666.7C2091.6 3670.2 2080.6 3674.5 2070.8 3677.1C2061.1 3679.7 2048.5 3681.3 2037.5 3683.3C2026.5 3685.4 2015.2 3687.5 2004.2 3689.6C1993.2 3691.6 1979.5 3694.8 1970.8 3695.8C1962.1 3696.9 1949.7 3696.1 1944.0 3696.7C1938.3 3697.2 1932.4 3698.9 1926.7 3700.0C1921.0 3701.1 1913.2 3702.9 1906.7 3704.0C1900.1 3705.1 1893.2 3706.0 1886.7 3706.7C1880.1 3707.4 1873.3 3707.8 1866.7 3708.3C1860.1 3708.9 1853.2 3709.2 1846.7 3710.0C1840.1 3710.8 1833.3 3712.2 1826.7 3713.3C1820.1 3714.4 1813.2 3715.8 1806.7 3716.7C1800.1 3717.5 1793.3 3717.9 1786.7 3718.3C1780.1 3718.8 1773.3 3718.9 1766.7 3719.3C1760.1 3719.7 1753.2 3720.0 1746.7 3720.7C1740.1 3721.3 1733.2 3722.3 1726.7 3723.3C1720.1 3724.3 1713.2 3725.3 1706.7 3726.7C1700.1 3728.0 1693.3 3730.0 1686.7 3731.7C1680.1 3733.3 1673.3 3735.0 1666.7 3736.7C1660.1 3738.3 1653.3 3740.0 1646.7 3741.7C1640.1 3743.3 1633.3 3745.0 1626.7 3746.7C1620.1 3748.3 1613.2 3750.3 1606.7 3751.7C1600.1 3753.0 1593.2 3754.3 1586.7 3755.0C1580.1 3755.7 1573.2 3756.3 1566.7 3756.0C1560.2 3755.7 1553.1 3754.8 1546.7 3753.3C1540.3 3751.8 1532.9 3749.5 1526.7 3746.7C1520.5 3743.8 1513.1 3739.0 1506.7 3735.0C1500.2 3731.0 1493.0 3726.4 1486.7 3721.7C1480.4 3716.9 1472.5 3710.6 1466.7 3705.0C1460.8 3699.4 1454.8 3692.9 1450.0 3686.7C1445.2 3680.5 1440.1 3673.6 1436.7 3666.7C1433.2 3659.7 1430.5 3650.9 1428.3 3643.3C1426.2 3635.8 1424.3 3626.5 1423.3 3620.0C1422.3 3613.5 1421.8 3604.6 1421.7 3600.0C1421.6 3595.4 1421.6 3590.4 1422.5 3586.0C1423.4 3581.6 1427.2 3569.1 1430.0 3561.0C1432.8 3552.9 1438.3 3542.2 1440.0 3536.0C1441.7 3529.8 1440.9 3522.3 1442.5 3516.0C1444.1 3509.7 1446.9 3502.2 1450.0 3496.0C1453.1 3489.8 1459.8 3479.1 1465.0 3471.0C1470.2 3462.9 1477.3 3453.8 1482.5 3446.0C1487.7 3438.2 1494.3 3426.9 1497.5 3422.0Z" fill="#73C6F2"/>
<path d="M1616.7 3308.3C1617.7 3306.0 1624.4 3291.1 1629.2 3283.3C1633.9 3275.5 1639.9 3267.6 1645.8 3260.4C1651.7 3253.2 1659.3 3244.5 1666.7 3237.5C1674.0 3230.5 1683.6 3223.1 1691.7 3216.7C1699.7 3210.3 1708.6 3203.6 1716.7 3197.9C1724.7 3192.2 1733.9 3185.4 1741.7 3181.2C1749.4 3177.1 1758.7 3173.5 1766.7 3170.8C1774.7 3168.2 1783.5 3167.0 1791.7 3164.6C1799.8 3162.2 1809.7 3158.8 1816.7 3156.2C1823.6 3153.7 1831.5 3149.8 1837.5 3147.9C1843.5 3146.0 1853.2 3143.3 1856.2 3143.8C1859.3 3144.2 1863.3 3149.3 1866.7 3152.1C1870.1 3154.9 1875.9 3158.6 1879.2 3162.5C1882.4 3166.4 1884.5 3173.7 1887.5 3177.1C1890.5 3180.4 1895.7 3183.0 1900.0 3185.4C1904.3 3187.9 1912.1 3190.5 1916.7 3193.8C1921.2 3197.0 1927.1 3203.3 1929.2 3206.2C1931.3 3209.2 1933.2 3217.5 1933.3 3217.5C1933.5 3217.5 1941.9 3213.0 1945.8 3210.4C1949.7 3207.8 1957.4 3201.1 1962.5 3197.9C1967.6 3194.7 1973.6 3191.0 1979.2 3189.6C1984.7 3188.2 1993.8 3187.3 2000.0 3188.3C2006.2 3189.4 2016.1 3193.6 2020.8 3196.7C2025.5 3199.8 2029.0 3206.6 2033.3 3210.4C2037.7 3214.3 2043.3 3217.1 2047.9 3220.8C2052.5 3224.5 2061.0 3232.2 2066.7 3237.5C2072.3 3242.8 2078.3 3248.8 2083.3 3254.2C2088.3 3259.5 2093.6 3265.5 2097.9 3270.8C2102.2 3276.2 2107.9 3281.7 2110.4 3287.5C2113.0 3293.3 2114.9 3303.2 2114.6 3308.3C2114.3 3313.5 2108.6 3319.9 2108.3 3325.0C2108.0 3330.1 2110.6 3340.2 2112.5 3345.8C2114.4 3351.5 2118.3 3356.9 2120.8 3362.5C2123.3 3368.1 2126.1 3376.6 2129.2 3383.3C2132.2 3390.1 2137.5 3400.1 2141.7 3408.3C2145.8 3416.6 2150.7 3426.5 2154.2 3433.3C2157.6 3440.2 2162.8 3449.1 2164.6 3454.2C2166.4 3459.2 2168.1 3465.9 2167.5 3470.8C2166.9 3475.8 2162.1 3484.7 2160.4 3491.7C2158.7 3498.6 2158.0 3508.5 2156.2 3516.7C2154.5 3524.8 2152.9 3533.9 2150.0 3541.7C2147.1 3549.5 2142.1 3559.4 2137.5 3566.7C2132.9 3574.0 2126.9 3581.4 2120.8 3587.5C2114.7 3593.6 2107.2 3599.3 2100.0 3604.2C2092.8 3609.1 2083.5 3614.5 2075.0 3618.8C2066.5 3623.0 2055.6 3627.7 2045.8 3631.2C2036.0 3634.8 2023.5 3638.2 2012.5 3641.7C2001.5 3645.1 1990.0 3648.1 1979.2 3652.1C1968.4 3656.0 1949.4 3664.8 1944.0 3666.7C1938.6 3668.5 1932.3 3668.7 1926.7 3670.0C1921.0 3671.3 1913.3 3673.3 1906.7 3675.0C1900.1 3676.7 1893.2 3678.6 1886.7 3680.0C1880.1 3681.4 1873.2 3682.1 1866.7 3683.3C1860.1 3684.5 1853.3 3686.0 1846.7 3687.3C1840.1 3688.7 1833.2 3690.1 1826.7 3691.7C1820.1 3693.2 1813.2 3695.4 1806.7 3696.7C1800.2 3697.9 1793.2 3698.8 1786.7 3699.3C1780.1 3699.9 1770.0 3700.5 1766.7 3700.0C1763.4 3699.5 1759.8 3696.8 1756.7 3695.0C1753.5 3693.2 1749.9 3688.9 1746.7 3688.3C1743.5 3687.8 1733.2 3689.2 1726.7 3690.0C1720.1 3690.8 1713.3 3692.3 1706.7 3693.3C1700.1 3694.4 1691.0 3695.6 1683.3 3696.7C1675.6 3697.8 1667.6 3698.6 1660.0 3700.0C1652.4 3701.4 1644.3 3703.6 1636.7 3705.0C1629.0 3706.4 1621.0 3707.2 1613.3 3708.3C1605.6 3709.4 1596.6 3711.0 1590.0 3711.7C1583.4 3712.3 1576.4 3713.2 1570.0 3712.7C1563.6 3712.1 1556.4 3710.3 1550.0 3708.3C1543.6 3706.3 1536.2 3703.4 1530.0 3700.0C1523.8 3696.6 1516.3 3691.3 1510.0 3686.7C1503.7 3682.0 1497.0 3676.7 1491.7 3671.7C1486.4 3666.6 1480.6 3660.5 1476.7 3655.0C1472.8 3649.5 1469.4 3642.9 1466.7 3636.7C1464.0 3630.4 1461.2 3621.9 1460.0 3616.7C1458.8 3611.4 1458.3 3602.9 1458.3 3600.0C1458.3 3597.1 1458.9 3593.7 1460.0 3591.0C1461.1 3588.3 1465.8 3576.7 1470.0 3571.0C1474.2 3565.3 1482.8 3556.6 1490.0 3551.0C1497.2 3545.4 1508.2 3540.6 1515.0 3536.0C1521.8 3531.4 1529.7 3525.5 1535.0 3521.0C1540.3 3516.5 1547.0 3511.2 1550.0 3506.0C1553.0 3500.8 1552.2 3491.7 1555.0 3486.0C1557.8 3480.3 1565.6 3472.4 1570.0 3466.0C1574.4 3459.6 1581.6 3451.0 1582.5 3446.0C1583.4 3441.0 1577.2 3431.2 1577.5 3426.0C1577.8 3420.8 1581.7 3412.5 1585.0 3408.5C1588.3 3404.5 1594.8 3401.1 1600.0 3398.5C1605.2 3395.9 1616.3 3393.2 1620.0 3391.0C1623.7 3388.8 1629.5 3383.5 1630.0 3381.0C1630.5 3378.5 1626.3 3371.0 1625.0 3366.0C1623.7 3361.0 1621.7 3349.2 1620.0 3341.0C1618.3 3332.8 1615.2 3318.4 1615.0 3316.0C1614.8 3313.6 1615.7 3310.6 1616.7 3308.3Z" fill="#00BEFF"/>
<path d="M1600.0 3481.2C1603.6 3479.8 1611.1 3478.8 1616.7 3477.1C1622.2 3475.3 1628.1 3471.5 1633.3 3470.8C1638.5 3470.1 1643.1 3470.5 1647.9 3472.9C1652.8 3475.3 1657.6 3485.8 1662.5 3485.4C1667.4 3485.1 1674.0 3476.7 1677.1 3470.8C1680.2 3464.9 1680.2 3457.6 1681.2 3450.0C1682.3 3442.4 1683.3 3433.3 1683.3 3425.0C1683.3 3416.7 1681.9 3409.0 1681.2 3400.0C1680.6 3391.0 1679.9 3380.6 1679.2 3370.8C1678.5 3361.1 1677.4 3351.4 1677.1 3341.7C1676.7 3331.9 1676.4 3321.5 1677.1 3312.5C1677.8 3303.5 1679.2 3295.1 1681.2 3287.5C1683.3 3279.9 1685.8 3273.6 1689.6 3266.7C1693.4 3259.7 1698.3 3252.1 1704.2 3245.8C1710.1 3239.6 1717.4 3234.4 1725.0 3229.2C1732.6 3224.0 1741.7 3218.4 1750.0 3214.6C1758.3 3210.8 1766.7 3208.3 1775.0 3206.2C1783.3 3204.2 1791.7 3203.5 1800.0 3202.1C1808.3 3200.7 1817.4 3199.1 1825.0 3197.9C1832.6 3196.7 1839.9 3195.2 1845.8 3195.0C1851.7 3194.8 1856.2 3194.4 1860.4 3196.7C1864.6 3198.9 1866.3 3205.0 1870.8 3208.3C1875.3 3211.7 1882.8 3214.6 1887.5 3216.7C1892.2 3218.8 1897.1 3217.4 1899.2 3220.8C1901.2 3224.3 1897.1 3233.9 1900.0 3237.5C1902.9 3241.1 1910.4 3241.1 1916.7 3242.5C1922.9 3243.9 1930.6 3244.9 1937.5 3245.8C1944.4 3246.7 1951.4 3246.5 1958.3 3247.9C1965.3 3249.3 1972.2 3252.4 1979.2 3254.2C1986.1 3255.9 1993.8 3256.6 2000.0 3258.3C2006.2 3260.1 2011.1 3261.1 2016.7 3264.6C2022.2 3268.1 2028.1 3273.3 2033.3 3279.2C2038.5 3285.1 2043.4 3293.1 2047.9 3300.0C2052.4 3306.9 2056.2 3312.5 2060.4 3320.8C2064.6 3329.2 2069.1 3339.6 2072.9 3350.0C2076.7 3360.4 2079.9 3372.2 2083.3 3383.3C2086.8 3394.4 2090.6 3405.6 2093.8 3416.7C2096.9 3427.8 2099.8 3438.9 2102.1 3450.0C2104.4 3461.1 2106.8 3472.9 2107.5 3483.3C2108.2 3493.8 2107.8 3503.5 2106.2 3512.5C2104.7 3521.5 2101.4 3529.9 2097.9 3537.5C2094.4 3545.1 2089.9 3552.1 2085.4 3558.3C2080.9 3564.6 2076.7 3570.1 2070.8 3575.0C2064.9 3579.9 2057.6 3583.3 2050.0 3587.5C2042.4 3591.7 2034.0 3595.8 2025.0 3600.0C2016.0 3604.2 2005.6 3608.3 1995.8 3612.5C1986.1 3616.7 1975.3 3621.8 1966.7 3625.0C1958.0 3628.2 1950.1 3629.7 1944.0 3631.7C1937.9 3633.6 1935.7 3634.7 1930.0 3636.7C1924.3 3638.6 1916.7 3641.2 1910.0 3643.3C1903.3 3645.4 1896.7 3647.7 1890.0 3649.3C1883.3 3651.0 1876.7 3652.0 1870.0 3653.3C1863.3 3654.7 1856.7 3655.9 1850.0 3657.3C1843.3 3658.7 1836.7 3660.2 1830.0 3661.7C1823.3 3663.1 1816.7 3664.9 1810.0 3666.0C1803.3 3667.1 1795.6 3668.5 1790.0 3668.3C1784.4 3668.2 1780.6 3666.5 1776.7 3665.0C1772.8 3663.5 1770.6 3660.6 1766.7 3659.3C1762.8 3658.1 1758.3 3657.2 1753.3 3657.3C1748.3 3657.4 1742.8 3659.0 1736.7 3660.0C1730.6 3661.0 1723.9 3662.2 1716.7 3663.3C1709.4 3664.4 1701.1 3665.6 1693.3 3666.7C1685.6 3667.8 1677.8 3669.0 1670.0 3670.0C1662.2 3671.0 1654.4 3672.0 1646.7 3672.7C1638.9 3673.3 1631.1 3673.8 1623.3 3674.0C1615.6 3674.2 1607.2 3674.7 1600.0 3674.0C1592.8 3673.3 1586.7 3672.1 1580.0 3670.0C1573.3 3667.9 1566.7 3665.0 1560.0 3661.7C1553.3 3658.3 1546.1 3654.2 1540.0 3650.0C1533.9 3645.8 1528.3 3641.7 1523.3 3636.7C1518.3 3631.7 1512.8 3626.1 1510.0 3620.0C1507.2 3613.9 1509.2 3605.7 1506.7 3600.0C1504.2 3594.3 1495.3 3591.7 1495.0 3586.0C1494.7 3580.3 1500.0 3571.8 1505.0 3566.0C1510.0 3560.2 1518.3 3556.8 1525.0 3551.0C1531.7 3545.2 1539.2 3537.2 1545.0 3531.0C1550.8 3524.8 1555.0 3518.5 1560.0 3513.5C1565.0 3508.5 1569.2 3505.6 1575.0 3501.0C1580.8 3496.4 1590.8 3489.3 1595.0 3486.0C1599.2 3482.7 1596.4 3482.7 1600.0 3481.2Z" fill="#1996FF"/>
<path d="M1565.0 3563.5C1566.7 3560.8 1570.8 3556.8 1575.0 3553.5C1579.2 3550.2 1585.8 3544.9 1590.0 3543.5C1594.2 3542.1 1598.8 3543.3 1600.0 3545.0C1601.2 3546.7 1600.0 3550.4 1597.5 3553.5C1595.0 3556.6 1589.2 3560.4 1585.0 3563.5C1580.8 3566.6 1575.8 3570.9 1572.5 3572.0C1569.2 3573.1 1566.2 3571.4 1565.0 3570.0C1563.8 3568.6 1563.3 3566.2 1565.0 3563.5Z" fill="#3273EB"/>
<path d="M1665.4 3612.5C1665.4 3607.6 1666.5 3599.3 1668.8 3591.7C1671.0 3584.0 1675.0 3575.0 1679.2 3566.7C1683.3 3558.3 1688.5 3550.7 1693.8 3541.7C1699.0 3532.6 1705.6 3522.2 1710.4 3512.5C1715.3 3502.8 1720.5 3493.1 1722.9 3483.3C1725.3 3473.6 1724.3 3464.6 1725.0 3454.2C1725.7 3443.8 1726.4 3431.9 1727.1 3420.8C1727.8 3409.7 1728.5 3398.6 1729.2 3387.5C1729.9 3376.4 1730.6 3364.6 1731.2 3354.2C1731.9 3343.8 1732.3 3334.7 1733.3 3325.0C1734.4 3315.3 1735.4 3304.2 1737.5 3295.8C1739.6 3287.5 1741.7 3281.2 1745.8 3275.0C1750.0 3268.8 1756.2 3262.5 1762.5 3258.3C1768.8 3254.2 1775.7 3251.9 1783.3 3250.0C1791.0 3248.1 1800.0 3247.0 1808.3 3246.7C1816.7 3246.3 1825.0 3247.0 1833.3 3247.9C1841.7 3248.8 1850.7 3250.0 1858.3 3252.1C1866.0 3254.2 1872.9 3257.3 1879.2 3260.4C1885.4 3263.5 1889.6 3268.4 1895.8 3270.8C1902.1 3273.3 1909.7 3272.9 1916.7 3275.0C1923.6 3277.1 1930.6 3279.5 1937.5 3283.3C1944.4 3287.2 1952.1 3292.4 1958.3 3297.9C1964.6 3303.5 1969.4 3310.8 1975.0 3316.7C1980.6 3322.6 1986.1 3327.8 1991.7 3333.3C1997.2 3338.9 2003.5 3343.8 2008.3 3350.0C2013.2 3356.2 2017.0 3363.2 2020.8 3370.8C2024.7 3378.5 2027.8 3386.8 2031.2 3395.8C2034.7 3404.9 2038.9 3416.0 2041.7 3425.0C2044.4 3434.0 2046.4 3441.7 2047.9 3450.0C2049.4 3458.3 2050.8 3466.7 2050.8 3475.0C2050.8 3483.3 2049.8 3492.4 2047.9 3500.0C2046.0 3507.6 2043.4 3514.6 2039.6 3520.8C2035.8 3527.1 2030.9 3532.3 2025.0 3537.5C2019.1 3542.7 2011.8 3547.2 2004.2 3552.1C1996.5 3556.9 1987.5 3562.2 1979.2 3566.7C1970.8 3571.2 1962.5 3575.0 1954.2 3579.2C1945.8 3583.3 1937.5 3587.5 1929.2 3591.7C1920.8 3595.8 1913.2 3600.3 1904.2 3604.2C1895.1 3608.0 1884.7 3611.8 1875.0 3614.6C1865.3 3617.4 1855.0 3618.3 1845.8 3620.8C1836.7 3623.4 1827.1 3627.6 1820.0 3630.0C1812.9 3632.4 1808.3 3634.4 1803.3 3635.0C1798.3 3635.6 1793.9 3634.7 1790.0 3633.3C1786.1 3631.9 1783.9 3628.6 1780.0 3626.7C1776.1 3624.7 1771.7 3622.2 1766.7 3621.7C1761.7 3621.1 1756.1 3622.5 1750.0 3623.3C1743.9 3624.2 1736.7 3625.6 1730.0 3626.7C1723.3 3627.8 1716.0 3629.4 1710.0 3630.0C1704.0 3630.6 1698.9 3630.5 1693.8 3630.0C1688.6 3629.5 1683.3 3628.6 1679.2 3627.1C1675.0 3625.6 1671.0 3623.3 1668.8 3620.8C1666.5 3618.4 1665.4 3617.4 1665.4 3612.5Z" fill="#3273EB"/>
<path d="M1720.8 3558.3C1720.5 3553.5 1721.2 3547.9 1722.9 3541.7C1724.7 3535.4 1727.4 3528.5 1731.2 3520.8C1735.1 3513.2 1741.3 3504.2 1745.8 3495.8C1750.3 3487.5 1755.2 3479.9 1758.3 3470.8C1761.5 3461.8 1762.5 3452.1 1764.6 3441.7C1766.7 3431.2 1768.8 3419.4 1770.8 3408.3C1772.9 3397.2 1774.7 3385.4 1777.1 3375.0C1779.5 3364.6 1782.3 3354.2 1785.4 3345.8C1788.5 3337.5 1791.3 3330.6 1795.8 3325.0C1800.3 3319.4 1806.2 3315.5 1812.5 3312.5C1818.8 3309.5 1825.7 3307.8 1833.3 3307.1C1841.0 3306.4 1850.0 3307.1 1858.3 3308.3C1866.7 3309.6 1875.7 3313.3 1883.3 3314.6C1891.0 3315.8 1897.9 3314.1 1904.2 3315.8C1910.4 3317.6 1916.0 3321.4 1920.8 3325.0C1925.7 3328.6 1930.9 3332.6 1933.3 3337.5C1935.8 3342.4 1934.0 3348.6 1935.4 3354.2C1936.8 3359.7 1938.2 3366.3 1941.7 3370.8C1945.1 3375.3 1951.4 3377.1 1956.2 3381.2C1961.1 3385.4 1966.7 3389.9 1970.8 3395.8C1975.0 3401.7 1978.1 3409.7 1981.2 3416.7C1984.4 3423.6 1987.5 3430.6 1989.6 3437.5C1991.7 3444.4 1993.1 3451.4 1993.8 3458.3C1994.4 3465.3 1994.8 3472.2 1993.8 3479.2C1992.7 3486.1 1990.6 3493.8 1987.5 3500.0C1984.4 3506.2 1979.9 3512.2 1975.0 3516.7C1970.1 3521.2 1963.9 3524.0 1958.3 3527.1C1952.8 3530.2 1947.2 3532.3 1941.7 3535.4C1936.1 3538.5 1931.2 3542.0 1925.0 3545.8C1918.8 3549.7 1911.1 3554.5 1904.2 3558.3C1897.2 3562.2 1891.0 3565.6 1883.3 3568.8C1875.7 3571.9 1866.7 3574.8 1858.3 3577.1C1850.0 3579.4 1841.7 3581.1 1833.3 3582.5C1825.0 3583.9 1816.7 3584.9 1808.3 3585.4C1800.0 3585.9 1791.7 3585.8 1783.3 3585.4C1775.0 3585.1 1766.0 3584.4 1758.3 3583.3C1750.7 3582.3 1743.1 3581.2 1737.5 3579.2C1731.9 3577.1 1727.8 3574.3 1725.0 3570.8C1722.2 3567.4 1721.2 3563.2 1720.8 3558.3Z" fill="#2D46EB"/>
<path d="M1801.2 3500.0C1801.4 3494.8 1802.3 3486.1 1804.2 3479.2C1806.0 3472.2 1809.0 3466.0 1812.5 3458.3C1816.0 3450.7 1821.2 3441.3 1825.0 3433.3C1828.8 3425.3 1831.6 3416.7 1835.4 3410.4C1839.2 3404.2 1843.4 3399.0 1847.9 3395.8C1852.4 3392.7 1857.3 3391.5 1862.5 3391.7C1867.7 3391.8 1874.0 3393.9 1879.2 3396.7C1884.4 3399.4 1889.6 3403.6 1893.8 3408.3C1897.9 3413.1 1901.7 3418.8 1904.2 3425.0C1906.6 3431.2 1908.0 3439.2 1908.3 3445.8C1908.7 3452.4 1908.0 3458.7 1906.2 3464.6C1904.5 3470.5 1901.0 3475.7 1897.9 3481.2C1894.8 3486.8 1891.3 3492.7 1887.5 3497.9C1883.7 3503.1 1879.2 3508.0 1875.0 3512.5C1870.8 3517.0 1867.4 3522.0 1862.5 3525.0C1857.6 3528.0 1851.7 3529.7 1845.8 3530.4C1839.9 3531.1 1832.6 3530.8 1827.1 3529.2C1821.5 3527.6 1816.5 3524.0 1812.5 3520.8C1808.5 3517.7 1805.2 3513.9 1803.3 3510.4C1801.5 3506.9 1801.1 3505.2 1801.2 3500.0Z" fill="#1E05FA"/>
<path d="M2222.1 3212.5C2223.1 3211.8 2226.3 3219.4 2229.2 3225.0C2232.1 3230.6 2236.9 3238.2 2239.6 3245.8C2242.2 3253.5 2244.3 3263.5 2245.0 3270.8C2245.7 3278.1 2245.7 3288.9 2243.8 3289.6C2241.8 3290.3 2235.8 3281.6 2233.3 3275.0C2230.9 3268.4 2230.9 3257.6 2229.2 3250.0C2227.4 3242.4 2224.1 3235.4 2222.9 3229.2C2221.7 3222.9 2221.0 3213.2 2222.1 3212.5Z" fill="#73C6F2"/>
<path d="M2311.0 3653.5L2322.0 3636.0L2327.0 3661.0Z" fill="#73C6F2"/>
<path d="M1716.0 2632.5C1725.3 2633.3 1736.0 2633.9 1746.0 2636.0C1756.0 2638.1 1766.0 2641.4 1776.0 2645.0C1786.0 2648.6 1796.0 2652.5 1806.0 2657.5C1816.0 2662.5 1826.0 2668.8 1836.0 2675.0C1846.0 2681.2 1856.0 2688.3 1866.0 2695.0C1876.0 2701.7 1886.0 2707.5 1896.0 2715.0C1906.0 2722.5 1916.8 2731.7 1926.0 2740.0C1935.2 2748.3 1943.5 2756.7 1951.0 2765.0C1958.5 2773.3 1965.2 2781.7 1971.0 2790.0C1976.8 2798.3 1982.7 2806.7 1986.0 2815.0C1989.3 2823.3 1990.6 2831.7 1991.0 2840.0C1991.4 2848.3 1989.8 2856.7 1988.5 2865.0C1987.2 2873.3 1984.8 2880.8 1983.5 2890.0C1982.2 2899.2 1981.4 2910.0 1981.0 2920.0C1980.6 2930.0 1981.0 2940.0 1981.0 2950.0C1981.0 2960.0 1981.4 2970.8 1981.0 2980.0C1980.6 2989.2 1980.2 2997.5 1978.5 3005.0C1976.8 3012.5 1973.9 3018.3 1971.0 3025.0C1968.1 3031.7 1965.2 3039.2 1961.0 3045.0C1956.8 3050.8 1951.8 3055.8 1946.0 3060.0C1940.2 3064.2 1932.7 3067.9 1926.0 3070.0C1919.3 3072.1 1912.7 3072.5 1906.0 3072.5C1899.3 3072.5 1892.7 3070.8 1886.0 3070.0C1879.3 3069.2 1871.8 3066.7 1866.0 3067.5C1860.2 3068.3 1856.8 3072.5 1851.0 3075.0C1845.2 3077.5 1838.5 3081.2 1831.0 3082.5C1823.5 3083.8 1814.3 3082.5 1806.0 3082.5C1797.7 3082.5 1788.5 3082.1 1781.0 3082.5C1773.5 3082.9 1767.7 3082.9 1761.0 3085.0C1754.3 3087.1 1748.5 3091.2 1741.0 3095.0C1733.5 3098.8 1724.5 3101.7 1716.0 3107.5C1707.5 3113.3 1697.7 3123.8 1690.0 3130.0C1682.3 3136.2 1676.7 3140.8 1670.0 3145.0C1663.3 3149.2 1657.5 3151.7 1650.0 3155.0C1642.5 3158.3 1633.3 3160.8 1625.0 3165.0C1616.7 3169.2 1608.3 3177.1 1600.0 3180.0C1591.7 3182.9 1583.3 3181.7 1575.0 3182.5C1566.7 3183.3 1559.2 3183.3 1550.0 3185.0C1540.8 3186.7 1529.2 3190.0 1520.0 3192.5C1510.8 3195.0 1502.5 3201.2 1495.0 3200.0C1487.5 3198.8 1481.7 3190.0 1475.0 3185.0C1468.3 3180.0 1461.2 3172.9 1455.0 3170.0C1448.8 3167.1 1440.4 3170.8 1437.5 3167.5C1434.6 3164.2 1437.5 3156.2 1437.5 3150.0C1437.5 3143.8 1439.6 3135.0 1437.5 3130.0C1435.4 3125.0 1430.4 3122.9 1425.0 3120.0C1419.6 3117.1 1412.5 3115.0 1405.0 3112.5C1397.5 3110.0 1389.2 3105.4 1380.0 3105.0C1370.8 3104.6 1359.2 3108.8 1350.0 3110.0C1340.8 3111.2 1331.7 3111.0 1325.0 3112.5C1318.3 3114.0 1315.0 3117.8 1310.0 3119.0C1305.0 3120.2 1300.0 3119.0 1295.0 3120.0C1290.0 3121.0 1285.0 3124.2 1280.0 3125.0C1275.0 3125.8 1270.0 3127.1 1265.0 3125.0C1260.0 3122.9 1255.0 3117.1 1250.0 3112.5C1245.0 3107.9 1240.0 3102.1 1235.0 3097.5C1230.0 3092.9 1225.8 3087.9 1220.0 3085.0C1214.2 3082.1 1206.7 3082.5 1200.0 3080.0C1193.3 3077.5 1186.7 3071.2 1180.0 3070.0C1173.3 3068.8 1165.0 3073.8 1160.0 3072.5C1155.0 3071.2 1155.0 3066.2 1150.0 3062.5C1145.0 3058.8 1136.7 3054.2 1130.0 3050.0C1123.3 3045.8 1115.8 3042.5 1110.0 3037.5C1104.2 3032.5 1099.6 3027.1 1095.0 3020.0C1090.4 3012.9 1085.4 3004.2 1082.5 2995.0C1079.6 2985.8 1078.1 2975.0 1077.5 2965.0C1076.9 2955.0 1077.6 2945.0 1079.0 2935.0C1080.4 2925.0 1082.5 2915.0 1086.0 2905.0C1089.5 2895.0 1094.3 2885.0 1100.0 2875.0C1105.7 2865.0 1112.5 2855.0 1120.0 2845.0C1127.5 2835.0 1135.8 2825.0 1145.0 2815.0C1154.2 2805.0 1164.2 2794.2 1175.0 2785.0C1185.8 2775.8 1197.5 2767.9 1210.0 2760.0C1222.5 2752.1 1236.7 2743.8 1250.0 2737.5C1263.3 2731.2 1276.7 2726.7 1290.0 2722.5C1303.3 2718.3 1316.7 2715.4 1330.0 2712.5C1343.3 2709.6 1356.7 2707.5 1370.0 2705.0C1383.3 2702.5 1396.7 2700.4 1410.0 2697.5C1423.3 2694.6 1436.7 2691.7 1450.0 2687.5C1463.3 2683.3 1476.7 2677.5 1490.0 2672.5C1503.3 2667.5 1516.7 2662.1 1530.0 2657.5C1543.3 2652.9 1556.7 2648.3 1570.0 2645.0C1583.3 2641.7 1596.7 2639.6 1610.0 2637.5C1623.3 2635.4 1636.7 2633.6 1650.0 2632.5C1663.3 2631.4 1679.0 2631.0 1690.0 2631.0C1701.0 2631.0 1706.7 2631.7 1716.0 2632.5Z" fill="#FFD62B"/>
<path d="M1716.0 2695.0C1727.0 2696.0 1736.0 2697.5 1746.0 2700.0C1756.0 2702.5 1766.0 2705.8 1776.0 2710.0C1786.0 2714.2 1796.0 2719.2 1806.0 2725.0C1816.0 2730.8 1826.0 2737.9 1836.0 2745.0C1846.0 2752.1 1857.7 2760.0 1866.0 2767.5C1874.3 2775.0 1880.2 2782.1 1886.0 2790.0C1891.8 2797.9 1897.2 2806.7 1901.0 2815.0C1904.8 2823.3 1906.4 2831.7 1908.5 2840.0C1910.6 2848.3 1911.4 2855.8 1913.5 2865.0C1915.6 2874.2 1918.9 2885.0 1921.0 2895.0C1923.1 2905.0 1924.5 2915.0 1926.0 2925.0C1927.5 2935.0 1929.6 2945.0 1930.0 2955.0C1930.4 2965.0 1929.6 2975.8 1928.5 2985.0C1927.4 2994.2 1926.0 3002.9 1923.5 3010.0C1921.0 3017.1 1918.1 3023.3 1913.5 3027.5C1908.9 3031.7 1902.2 3033.8 1896.0 3035.0C1889.8 3036.2 1881.8 3034.2 1876.0 3035.0C1870.2 3035.8 1866.8 3038.3 1861.0 3040.0C1855.2 3041.7 1848.5 3043.8 1841.0 3045.0C1833.5 3046.2 1824.3 3046.7 1816.0 3047.5C1807.7 3048.3 1799.3 3048.3 1791.0 3050.0C1782.7 3051.7 1774.3 3053.8 1766.0 3057.5C1757.7 3061.2 1749.3 3067.9 1741.0 3072.5C1732.7 3077.1 1722.8 3080.8 1716.0 3085.0C1709.2 3089.2 1706.0 3092.5 1700.0 3097.5C1694.0 3102.5 1685.8 3109.6 1680.0 3115.0C1674.2 3120.4 1670.0 3125.4 1665.0 3130.0C1660.0 3134.6 1656.7 3139.6 1650.0 3142.5C1643.3 3145.4 1633.3 3146.4 1625.0 3147.5C1616.7 3148.6 1608.3 3149.0 1600.0 3149.0C1591.7 3149.0 1583.3 3148.2 1575.0 3147.5C1566.7 3146.8 1558.3 3146.2 1550.0 3145.0C1541.7 3143.8 1529.2 3145.0 1525.0 3140.0C1520.8 3135.0 1523.3 3121.7 1525.0 3115.0C1526.7 3108.3 1537.5 3105.8 1535.0 3100.0C1532.5 3094.2 1519.2 3086.2 1510.0 3080.0C1500.8 3073.8 1490.0 3067.5 1480.0 3062.5C1470.0 3057.5 1460.0 3053.8 1450.0 3050.0C1440.0 3046.2 1430.8 3042.9 1420.0 3040.0C1409.2 3037.1 1396.7 3035.0 1385.0 3032.5C1373.3 3030.0 1361.7 3027.9 1350.0 3025.0C1338.3 3022.1 1325.8 3019.2 1315.0 3015.0C1304.2 3010.8 1294.2 3005.8 1285.0 3000.0C1275.8 2994.2 1266.7 2987.5 1260.0 2980.0C1253.3 2972.5 1247.5 2964.2 1245.0 2955.0C1242.5 2945.8 1242.5 2934.2 1245.0 2925.0C1247.5 2915.8 1252.5 2909.2 1260.0 2900.0C1267.5 2890.8 1279.2 2880.0 1290.0 2870.0C1300.8 2860.0 1313.3 2849.2 1325.0 2840.0C1336.7 2830.8 1347.5 2822.9 1360.0 2815.0C1372.5 2807.1 1386.7 2799.6 1400.0 2792.5C1413.3 2785.4 1426.7 2778.8 1440.0 2772.5C1453.3 2766.2 1466.7 2760.8 1480.0 2755.0C1493.3 2749.2 1506.7 2742.9 1520.0 2737.5C1533.3 2732.1 1546.7 2727.1 1560.0 2722.5C1573.3 2717.9 1586.7 2713.8 1600.0 2710.0C1613.3 2706.2 1626.7 2702.7 1640.0 2700.0C1653.3 2697.3 1667.3 2694.8 1680.0 2694.0C1692.7 2693.2 1705.0 2694.0 1716.0 2695.0Z" fill="#FFAA05"/>
<path d="M1716.0 2745.0C1724.5 2746.8 1732.7 2749.2 1741.0 2752.5C1749.3 2755.8 1757.7 2760.0 1766.0 2765.0C1774.3 2770.0 1782.7 2775.8 1791.0 2782.5C1799.3 2789.2 1808.5 2797.1 1816.0 2805.0C1823.5 2812.9 1830.2 2821.7 1836.0 2830.0C1841.8 2838.3 1846.8 2846.7 1851.0 2855.0C1855.2 2863.3 1858.5 2871.7 1861.0 2880.0C1863.5 2888.3 1864.8 2896.7 1866.0 2905.0C1867.2 2913.3 1868.5 2921.7 1868.5 2930.0C1868.5 2938.3 1868.1 2948.3 1866.0 2955.0C1863.9 2961.7 1860.2 2965.8 1856.0 2970.0C1851.8 2974.2 1846.8 2976.2 1841.0 2980.0C1835.2 2983.8 1827.7 2988.3 1821.0 2992.5C1814.3 2996.7 1807.7 3000.8 1801.0 3005.0C1794.3 3009.2 1787.7 3013.3 1781.0 3017.5C1774.3 3021.7 1768.5 3026.2 1761.0 3030.0C1753.5 3033.8 1743.5 3037.5 1736.0 3040.0C1728.5 3042.5 1721.2 3042.5 1716.0 3045.0C1710.8 3047.5 1710.2 3050.0 1705.0 3055.0C1699.8 3060.0 1691.7 3068.3 1685.0 3075.0C1678.3 3081.7 1671.7 3089.6 1665.0 3095.0C1658.3 3100.4 1652.5 3104.6 1645.0 3107.5C1637.5 3110.4 1628.3 3111.2 1620.0 3112.5C1611.7 3113.8 1602.5 3115.8 1595.0 3115.0C1587.5 3114.2 1580.8 3111.7 1575.0 3107.5C1569.2 3103.3 1565.0 3096.2 1560.0 3090.0C1555.0 3083.8 1551.7 3076.7 1545.0 3070.0C1538.3 3063.3 1529.2 3056.7 1520.0 3050.0C1510.8 3043.3 1500.0 3036.7 1490.0 3030.0C1480.0 3023.3 1469.2 3016.7 1460.0 3010.0C1450.8 3003.3 1442.5 2996.7 1435.0 2990.0C1427.5 2983.3 1420.8 2977.5 1415.0 2970.0C1409.2 2962.5 1403.8 2953.3 1400.0 2945.0C1396.2 2936.7 1392.5 2927.5 1392.5 2920.0C1392.5 2912.5 1395.4 2907.5 1400.0 2900.0C1404.6 2892.5 1411.7 2884.2 1420.0 2875.0C1428.3 2865.8 1438.3 2855.0 1450.0 2845.0C1461.7 2835.0 1476.7 2824.2 1490.0 2815.0C1503.3 2805.8 1516.7 2797.5 1530.0 2790.0C1543.3 2782.5 1556.7 2775.8 1570.0 2770.0C1583.3 2764.2 1596.7 2759.2 1610.0 2755.0C1623.3 2750.8 1636.7 2747.2 1650.0 2745.0C1663.3 2742.8 1679.0 2741.5 1690.0 2741.5C1701.0 2741.5 1707.5 2743.2 1716.0 2745.0Z" fill="#FF7800"/>
<path d="M1716.0 2797.5C1725.3 2801.0 1729.3 2805.0 1736.0 2810.0C1742.7 2815.0 1749.3 2820.8 1756.0 2827.5C1762.7 2834.2 1769.8 2842.1 1776.0 2850.0C1782.2 2857.9 1788.5 2866.7 1793.5 2875.0C1798.5 2883.3 1803.2 2892.5 1806.0 2900.0C1808.8 2907.5 1810.0 2913.3 1810.0 2920.0C1810.0 2926.7 1808.3 2933.8 1806.0 2940.0C1803.7 2946.2 1800.2 2952.1 1796.0 2957.5C1791.8 2962.9 1786.4 2967.9 1781.0 2972.5C1775.6 2977.1 1769.3 2981.2 1763.5 2985.0C1757.7 2988.8 1751.4 2992.1 1746.0 2995.0C1740.6 2997.9 1736.0 3000.0 1731.0 3002.5C1726.0 3005.0 1721.2 3007.9 1716.0 3010.0C1710.8 3012.1 1706.0 3010.8 1700.0 3015.0C1694.0 3019.2 1686.7 3028.3 1680.0 3035.0C1673.3 3041.7 1666.7 3049.6 1660.0 3055.0C1653.3 3060.4 1647.5 3064.2 1640.0 3067.5C1632.5 3070.8 1623.3 3074.6 1615.0 3075.0C1606.7 3075.4 1597.5 3072.9 1590.0 3070.0C1582.5 3067.1 1576.7 3062.5 1570.0 3057.5C1563.3 3052.5 1557.5 3047.1 1550.0 3040.0C1542.5 3032.9 1532.5 3023.3 1525.0 3015.0C1517.5 3006.7 1511.2 2999.2 1505.0 2990.0C1498.8 2980.8 1492.5 2970.0 1487.5 2960.0C1482.5 2950.0 1477.5 2939.2 1475.0 2930.0C1472.5 2920.8 1470.8 2913.3 1472.5 2905.0C1474.2 2896.7 1478.8 2888.3 1485.0 2880.0C1491.2 2871.7 1500.0 2863.3 1510.0 2855.0C1520.0 2846.7 1533.3 2837.5 1545.0 2830.0C1556.7 2822.5 1568.3 2815.8 1580.0 2810.0C1591.7 2804.2 1603.3 2798.8 1615.0 2795.0C1626.7 2791.2 1639.2 2788.5 1650.0 2787.5C1660.8 2786.5 1669.0 2787.3 1680.0 2789.0C1691.0 2790.7 1706.7 2794.0 1716.0 2797.5Z" fill="#FF2D00"/>
<path d="M1716.0 2875.0C1720.3 2880.0 1722.8 2882.5 1726.0 2887.5C1729.2 2892.5 1733.3 2898.8 1735.0 2905.0C1736.7 2911.2 1737.1 2918.3 1736.0 2925.0C1734.9 2931.7 1731.8 2939.2 1728.5 2945.0C1725.2 2950.8 1721.6 2954.2 1716.0 2960.0C1710.4 2965.8 1701.8 2973.3 1695.0 2980.0C1688.2 2986.7 1681.7 2994.2 1675.0 3000.0C1668.3 3005.8 1661.7 3011.2 1655.0 3015.0C1648.3 3018.8 1641.7 3021.7 1635.0 3022.5C1628.3 3023.3 1621.7 3022.5 1615.0 3020.0C1608.3 3017.5 1601.2 3012.9 1595.0 3007.5C1588.8 3002.1 1582.9 2994.6 1577.5 2987.5C1572.1 2980.4 1567.1 2972.9 1562.5 2965.0C1557.9 2957.1 1552.9 2948.3 1550.0 2940.0C1547.1 2931.7 1544.2 2923.3 1545.0 2915.0C1545.8 2906.7 1550.0 2897.9 1555.0 2890.0C1560.0 2882.1 1567.5 2874.2 1575.0 2867.5C1582.5 2860.8 1590.8 2854.6 1600.0 2850.0C1609.2 2845.4 1620.8 2841.7 1630.0 2840.0C1639.2 2838.3 1646.7 2839.0 1655.0 2840.0C1663.3 2841.0 1672.5 2843.1 1680.0 2846.0C1687.5 2848.9 1694.0 2852.7 1700.0 2857.5C1706.0 2862.3 1711.7 2870.0 1716.0 2875.0Z" fill="#E60000"/>
<path d="M982.5 3386.0C987.0 3383.4 995.2 3380.5 1000.0 3381.0C1004.8 3381.5 1013.6 3387.6 1020.0 3390.0C1026.4 3392.4 1033.6 3393.6 1040.0 3396.0C1046.4 3398.4 1054.6 3401.5 1060.0 3405.0C1065.4 3408.5 1070.8 3413.5 1075.0 3418.5C1079.2 3423.5 1085.2 3433.5 1090.0 3441.0C1094.8 3448.5 1100.4 3459.2 1105.0 3466.0C1109.6 3472.8 1114.5 3480.1 1120.0 3486.0C1125.5 3491.9 1133.6 3497.5 1140.0 3503.5C1146.4 3509.5 1153.4 3516.9 1160.0 3523.5C1166.6 3530.1 1173.6 3537.5 1180.0 3543.5C1186.4 3549.5 1193.6 3555.8 1200.0 3561.0C1206.4 3566.2 1216.2 3572.5 1220.0 3576.0C1223.8 3579.5 1230.0 3586.0 1230.0 3588.5C1230.0 3591.0 1222.2 3600.0 1220.0 3606.0C1217.8 3612.0 1216.0 3619.7 1216.0 3626.0C1216.0 3632.3 1217.8 3639.8 1220.0 3646.0C1222.2 3652.2 1226.1 3659.8 1230.0 3666.0C1233.9 3672.2 1239.6 3679.8 1245.0 3686.0C1250.4 3692.2 1258.4 3699.4 1265.0 3706.0C1271.6 3712.6 1281.8 3722.8 1290.0 3731.0C1298.2 3739.2 1307.0 3748.4 1315.0 3756.0C1323.0 3763.6 1331.8 3771.1 1340.0 3778.5C1348.2 3785.9 1357.0 3793.4 1365.0 3801.0C1373.0 3808.6 1382.2 3819.0 1390.0 3826.0C1397.8 3833.0 1406.8 3839.4 1415.0 3846.0C1423.2 3852.6 1432.2 3860.5 1440.0 3866.0C1447.8 3871.5 1457.2 3877.3 1465.0 3881.0C1472.8 3884.7 1481.9 3888.9 1490.0 3890.0C1498.1 3891.1 1510.4 3889.9 1520.0 3888.5C1529.6 3887.1 1540.4 3884.2 1550.0 3881.0C1559.6 3877.8 1570.1 3872.6 1580.0 3868.5C1589.9 3864.4 1600.1 3860.1 1610.0 3856.0C1619.9 3851.9 1630.1 3847.6 1640.0 3843.5C1649.9 3839.4 1660.3 3835.5 1670.0 3831.0C1679.7 3826.5 1694.1 3820.0 1700.0 3816.0C1705.9 3812.0 1710.2 3804.4 1716.0 3800.0C1721.8 3795.6 1729.1 3791.1 1736.0 3788.5C1742.9 3785.9 1756.2 3782.9 1766.0 3781.0C1775.8 3779.1 1786.1 3778.1 1796.0 3777.0C1805.9 3775.9 1819.5 3774.3 1831.0 3773.5C1842.5 3772.7 1854.5 3772.0 1866.0 3772.0C1877.5 3772.0 1889.5 3772.4 1901.0 3773.5C1912.5 3774.6 1926.1 3777.0 1936.0 3778.5C1945.9 3780.0 1956.2 3782.3 1966.0 3783.5C1975.8 3784.7 1986.1 3785.2 1996.0 3786.0C2005.9 3786.8 2016.2 3788.3 2026.0 3788.5C2035.8 3788.7 2046.3 3788.2 2056.0 3787.0C2065.7 3785.8 2078.2 3780.8 2086.0 3781.0C2093.8 3781.2 2106.8 3785.5 2111.0 3788.5C2115.2 3791.5 2118.2 3800.4 2121.0 3806.0C2123.8 3811.6 2129.0 3820.8 2128.5 3823.5C2128.0 3826.2 2119.4 3831.5 2116.0 3836.0C2112.6 3840.5 2108.4 3849.3 2106.0 3853.5C2103.6 3857.7 2099.1 3862.1 2098.5 3866.0C2097.9 3869.9 2101.0 3879.5 2101.0 3886.0C2101.0 3892.5 2098.5 3899.5 2098.5 3906.0C2098.5 3912.5 2100.4 3926.0 2101.0 3931.0C2101.6 3936.0 2104.1 3941.6 2103.5 3946.0C2102.9 3950.4 2098.2 3959.3 2096.0 3966.0C2093.8 3972.7 2090.5 3982.9 2088.5 3991.0C2086.5 3999.1 2085.5 4007.9 2083.5 4016.0C2081.5 4024.1 2078.8 4032.9 2076.0 4041.0C2073.2 4049.1 2068.6 4059.4 2066.0 4066.0C2063.4 4072.6 2062.1 4080.6 2058.5 4086.0C2054.9 4091.4 2046.3 4097.4 2041.0 4103.5C2035.7 4109.6 2026.7 4122.7 2026.0 4123.5C2025.3 4124.3 2023.2 4124.2 2022.5 4125.0C2021.8 4125.8 2016.3 4137.8 2012.5 4140.0C2008.7 4142.2 1997.4 4143.3 1990.0 4144.0C1982.6 4144.7 1969.7 4145.8 1960.0 4145.0C1950.3 4144.2 1939.9 4141.1 1930.0 4139.0C1920.1 4136.9 1908.3 4134.6 1900.0 4132.5C1891.7 4130.4 1882.9 4128.2 1875.0 4125.0C1867.1 4121.8 1856.7 4116.0 1850.0 4112.5C1843.3 4109.0 1836.6 4102.6 1830.0 4101.5C1823.4 4100.4 1803.2 4102.5 1790.0 4102.5C1776.8 4102.5 1763.2 4102.1 1750.0 4101.5C1736.8 4100.9 1719.9 4100.1 1710.0 4099.0C1700.1 4097.9 1687.6 4095.9 1680.0 4094.0C1672.4 4092.1 1658.0 4086.4 1657.5 4086.0C1657.0 4085.6 1659.0 4080.2 1660.0 4077.5C1661.0 4074.8 1665.4 4065.0 1667.5 4060.0C1669.6 4055.0 1673.3 4048.6 1674.0 4045.0C1674.7 4041.4 1674.2 4035.2 1672.5 4032.5C1670.8 4029.8 1663.5 4025.6 1660.0 4022.5C1656.5 4019.4 1653.6 4013.6 1650.0 4012.5C1646.4 4011.4 1629.8 4011.4 1620.0 4010.0C1610.2 4008.6 1599.9 4005.8 1590.0 4004.0C1580.1 4002.2 1563.2 3999.8 1550.0 3997.5C1536.8 3995.2 1523.2 3992.6 1510.0 3990.0C1496.8 3987.4 1476.0 3981.0 1460.0 3980.0C1444.0 3979.0 1423.1 3983.7 1410.0 3983.5C1396.9 3983.3 1383.2 3980.2 1370.0 3978.5C1356.8 3976.8 1343.2 3975.2 1330.0 3973.5C1316.8 3971.8 1303.0 3970.9 1290.0 3968.5C1277.0 3966.1 1261.9 3962.9 1250.0 3958.5C1238.1 3954.1 1225.2 3946.9 1215.0 3941.0C1204.8 3935.1 1194.7 3927.9 1185.0 3921.0C1175.3 3914.1 1163.6 3905.5 1155.0 3898.5C1146.4 3891.5 1138.0 3883.6 1130.0 3876.0C1122.0 3868.4 1112.8 3859.6 1105.0 3851.0C1097.2 3842.4 1088.2 3830.9 1080.0 3821.0C1071.8 3811.1 1062.1 3800.5 1055.0 3791.0C1047.9 3781.5 1041.2 3771.1 1035.0 3761.0C1028.8 3750.9 1021.6 3737.6 1015.0 3726.0C1008.4 3714.4 1001.1 3702.4 995.0 3691.0C988.9 3679.6 982.3 3667.2 977.5 3656.0C972.7 3644.8 968.7 3632.4 965.0 3621.0C961.3 3609.6 957.4 3597.3 955.0 3586.0C952.6 3574.7 950.8 3562.4 950.0 3551.0C949.2 3539.6 949.2 3527.4 950.0 3516.0C950.8 3504.6 953.9 3490.9 955.0 3481.0C956.1 3471.1 956.7 3460.9 957.5 3451.0C958.3 3441.1 958.2 3428.5 960.0 3421.0C961.8 3413.5 967.0 3403.1 970.0 3398.5C973.0 3393.9 978.0 3388.6 982.5 3386.0Z" fill="#FFD62B"/>
<path d="M1728.5 3933.5C1726.0 3928.3 1729.8 3923.1 1731.0 3916.0C1732.2 3908.9 1732.7 3898.5 1736.0 3891.0C1739.3 3883.5 1745.2 3876.8 1751.0 3871.0C1756.8 3865.2 1763.5 3860.6 1771.0 3856.0C1778.5 3851.4 1786.8 3846.8 1796.0 3843.5C1805.2 3840.2 1816.0 3838.5 1826.0 3836.0C1836.0 3833.5 1846.0 3830.2 1856.0 3828.5C1866.0 3826.8 1876.8 3826.0 1886.0 3826.0C1895.2 3826.0 1904.3 3826.0 1911.0 3828.5C1917.7 3831.0 1920.2 3836.4 1926.0 3841.0C1931.8 3845.6 1940.2 3850.2 1946.0 3856.0C1951.8 3861.8 1957.7 3868.5 1961.0 3876.0C1964.3 3883.5 1965.2 3892.7 1966.0 3901.0C1966.8 3909.3 1966.8 3918.5 1966.0 3926.0C1965.2 3933.5 1963.5 3940.2 1961.0 3946.0C1958.5 3951.8 1955.2 3956.4 1951.0 3961.0C1946.8 3965.6 1941.8 3969.8 1936.0 3973.5C1930.2 3977.2 1923.5 3980.8 1916.0 3983.5C1908.5 3986.2 1899.3 3988.9 1891.0 3990.0C1882.7 3991.1 1874.3 3990.7 1866.0 3990.0C1857.7 3989.3 1849.3 3988.3 1841.0 3986.0C1832.7 3983.7 1824.3 3979.3 1816.0 3976.0C1807.7 3972.7 1799.3 3969.3 1791.0 3966.0C1782.7 3962.7 1773.5 3959.2 1766.0 3956.0C1758.5 3952.8 1752.2 3950.8 1746.0 3947.0C1739.8 3943.2 1731.0 3938.7 1728.5 3933.5Z" fill="#FFAA05"/>
<g transform="translate(0,2090.2)"><path d="M873.3 1052.7L880.0 1051.7L881.7 1056.7L886.7 1056.0L891.7 1062.7L896.7 1063.3L901.7 1060.0L911.7 1060.7L923.3 1055.0L936.7 1048.3L950.0 1041.7L960.0 1038.3L968.3 1030.0L973.3 1026.0L983.3 1030.7L988.3 1028.3L993.3 1025.0L1000.0 1022.7L1006.7 1018.3L1011.7 1021.7L1016.7 1015.0L1026.7 1011.7L1040.0 1008.3L1050.0 1006.7L1060.0 1008.3L1068.3 1010.0L1073.3 1006.0L1078.3 1004.0L1083.3 996.7L1080.0 991.7L1070.0 990.0L1061.7 986.0L1053.3 988.3L1043.3 991.7L1030.0 995.0L1020.0 997.3L1006.7 999.3L993.3 1001.7L980.0 1003.3L968.3 1005.0L963.3 1002.7L959.3 1003.3L958.3 1008.3L950.0 1010.0L940.0 1012.7L936.7 1002.7L950.0 998.3L960.0 993.3L970.0 989.3L977.3 983.3L981.7 987.3L988.3 990.7L996.7 990.0L1003.3 986.0L1010.0 983.3L1011.7 978.3L1020.0 972.7L1026.7 971.7L1033.3 967.7L1030.0 975.0L1030.0 980.0L1035.0 983.3L1043.3 980.7L1053.3 977.3L1061.7 971.7L1066.7 973.3L1073.3 971.7L1078.3 974.0L1086.7 972.7L1096.7 974.0L1106.7 975.0L1120.0 975.0L1126.7 971.7L1129.3 969.3L1132.7 970.0L1140.0 963.3L1146.7 956.7L1151.7 952.3L1158.3 956.0L1170.0 954.3L1180.0 952.3L1186.7 956.7L1190.0 955.0L1198.3 956.7L1195.0 959.3L1201.7 961.7L1205.0 955.0L1208.3 957.3L1216.7 955.0L1223.3 957.3L1230.0 960.7L1238.3 960.0L1245.0 966.7L1253.3 972.7L1263.3 976.7L1270.0 982.7L1276.7 989.3L1283.3 995.0L1291.7 1001.7L1298.3 1006.7L1296.0 1010.7L1300.0 1007.3L1310.0 1010.7L1320.0 1013.3L1326.0 1016.0L1320.0 1020.0L1313.3 1026.0L1308.3 1021.7L1306.7 1026.0L1310.0 1030.0L1320.0 1028.3L1326.7 1031.7L1333.3 1035.0L1332.7 1030.0L1340.0 1028.3L1350.0 1025.0L1360.0 1021.7L1370.0 1018.3L1380.0 1016.7L1384.0 1016.0 M1320.0 1026.0L1323.3 1020.7L1333.3 1016.7L1346.7 1013.3L1356.7 1010.7L1366.7 1009.3L1366.0 1013.3L1356.7 1017.3L1346.7 1021.7L1333.3 1025.0L1320.0 1027.3Z M847.3 1185.0L856.7 1178.3L866.7 1176.0L873.3 1179.3L880.0 1172.7L888.3 1171.3L895.0 1174.0L906.7 1176.0L918.3 1177.3L928.3 1182.7L938.3 1188.3L950.0 1188.3L958.3 1187.3L966.7 1190.0L973.3 1198.3L979.3 1208.3L980.7 1215.0L986.7 1223.3L994.0 1221.7L995.0 1226.7L990.0 1226.0L993.3 1236.7L992.7 1246.7L989.3 1255.0L991.7 1261.7L986.7 1268.3L982.7 1271.7L984.0 1283.3L986.7 1290.0L981.7 1296.0L984.0 1298.3L990.0 1291.7L994.0 1295.0L996.7 1281.7L1001.7 1285.0L999.3 1295.0L1002.7 1303.3L1003.3 1308.0 M842.7 1279.3L850.0 1280.0L858.3 1281.7L861.7 1290.0L863.3 1300.0L865.0 1308.0 M1220.0 1268.3L1226.7 1276.7L1231.7 1286.7L1238.3 1293.3L1245.0 1298.3L1249.3 1304.0L1241.7 1303.3L1235.0 1296.7L1226.7 1300.0L1221.7 1290.0L1218.3 1280.0Z M1333.3 1308.0L1340.0 1293.3L1346.7 1283.3L1348.3 1271.7L1360.0 1266.7L1368.3 1260.0L1384.0 1257.3 M1384.0 1018.1L1394.0 1019.1L1407.3 1020.5L1415.7 1030.5L1420.7 1025.8L1430.7 1028.1L1437.3 1029.8L1445.7 1023.1L1452.3 1033.1L1446.7 1033.8L1455.7 1034.8L1466.7 1038.1L1464.0 1031.5L1455.7 1026.5L1447.3 1019.8L1460.7 1024.8L1474.0 1028.1L1487.3 1027.1L1499.0 1029.1L1500.7 1024.8L1510.7 1021.5L1520.7 1014.8L1530.7 1014.8L1540.7 1013.1L1547.3 1006.5L1549.0 996.5L1552.3 987.1L1555.7 983.1L1557.3 993.1L1556.7 1006.5L1560.7 1004.8L1564.0 993.1L1565.7 978.1L1562.3 971.5L1566.7 958.1L1570.7 946.5L1577.3 933.1L1587.3 921.5L1597.3 913.1L1607.3 903.8L1612.3 899.8L1604.0 906.5L1595.7 916.5L1585.7 928.1L1580.7 939.8L1579.0 949.8L1582.3 961.5L1589.0 958.1L1594.0 961.5L1605.7 954.8L1610.7 964.8L1617.3 966.5L1624.0 961.5L1630.7 968.1L1639.0 978.1L1640.0 986.5L1637.3 996.5L1632.3 999.8L1629.0 1006.5L1621.3 1008.1L1623.3 1014.8L1626.7 1021.5L1632.3 1016.5L1642.3 1014.8L1650.7 1013.1L1654.0 1019.8L1659.0 1023.1L1657.3 1029.8L1650.7 1033.1L1642.3 1033.1L1635.7 1036.5L1637.3 1041.5L1647.3 1046.5L1655.7 1051.5L1660.0 1056.5L1657.3 1063.1L1650.7 1066.5L1650.0 1076.5L1645.7 1086.5L1639.0 1091.5L1634.0 1097.1L1625.7 1096.5L1614.0 1099.1L1604.0 1103.1L1592.3 1106.5L1580.7 1111.5L1569.0 1114.8L1555.7 1118.1L1554.0 1123.1L1557.3 1129.8L1550.7 1133.1L1549.0 1146.5L1544.0 1148.1L1547.3 1154.8L1539.0 1156.5L1530.7 1159.1L1527.3 1166.5L1519.0 1173.1L1512.3 1179.1L1504.0 1185.8L1497.3 1189.8L1494.0 1183.1L1489.0 1189.8L1484.0 1199.8L1482.3 1208.1L1490.7 1211.5 M1857.3 899.8L1849.0 904.8L1839.0 908.1L1837.3 916.5L1829.0 923.1L1830.7 929.8L1825.7 936.5L1827.3 944.8L1820.7 953.1L1814.0 956.5L1805.7 961.5L1797.3 964.8L1795.7 959.8L1784.0 964.8L1777.3 963.1L1772.3 956.5L1767.3 961.5L1757.3 966.5L1747.3 969.8L1737.3 973.8L1727.3 978.1L1719.0 979.8L1720.7 988.1L1724.7 999.8L1720.7 1005.8L1714.0 1009.8L1715.7 1016.5L1712.3 1023.8L1705.7 1014.8L1699.0 1013.1L1690.7 1007.1L1682.3 1003.8L1677.3 1016.5L1670.7 1025.8L1675.7 1031.5L1684.0 1034.8L1692.3 1033.1L1704.0 1043.1L1717.3 1054.8L1730.7 1063.1L1742.3 1064.8L1752.3 1063.1L1754.0 1056.5L1759.0 1058.1L1762.3 1064.8L1757.3 1068.1L1767.3 1066.5L1780.7 1069.8L1792.3 1074.8L1793.3 1081.5L1790.7 1086.5L1797.3 1093.1L1805.7 1096.5L1814.0 1099.8L1815.7 1108.1L1817.3 1116.5L1824.0 1123.1L1830.7 1131.5L1837.3 1139.1L1844.0 1133.1L1847.3 1129.8L1852.3 1134.8L1860.7 1143.1L1867.3 1146.5L1876.7 1148.1L1875.7 1156.5L1869.0 1161.5L1862.3 1164.8L1860.7 1173.1L1864.0 1183.1L1869.0 1189.8L1874.0 1184.8L1877.3 1193.1L1875.7 1203.1L1880.7 1213.1L1884.0 1221.5L1877.3 1219.8L1874.0 1223.1L1882.3 1228.1L1890.7 1231.5L1894.0 1234.8 M1877.3 1219.8L1864.0 1222.5L1855.7 1228.1L1852.3 1233.1L1854.0 1241.5 M1884.0 899.8L1882.3 909.8L1879.0 921.5L1875.7 931.5L1870.7 939.8L1864.0 946.5L1857.3 953.1L1847.3 956.5L1837.3 961.5L1827.3 966.5L1817.3 971.5L1809.0 978.1L1802.3 984.8L1797.3 992.5L1805.7 991.5L1814.0 983.1L1820.7 979.8L1827.3 978.1L1824.0 988.1L1827.3 991.5L1839.0 993.1L1849.0 988.1L1857.3 983.1L1864.0 979.8L1862.3 974.8L1870.7 976.5L1880.7 979.1L1884.0 983.1L1879.0 985.8L1884.0 989.8L1892.3 994.8L1897.3 993.1L1907.3 1001.5L1917.3 1008.1L1928.0 1013.1 M1390.7 1003.8L1404.0 1002.5L1415.7 1006.5L1420.7 1011.5L1414.0 1016.5L1405.7 1011.5L1399.0 1006.5Z M1420.7 1020.5L1434.0 1021.5L1439.0 1028.1L1430.7 1029.8Z M1659.0 994.8L1667.3 992.5L1674.0 994.8L1673.3 998.1L1665.7 997.1Z M1632.3 961.5L1639.0 959.1L1644.0 961.5L1639.0 964.8L1633.3 964.8Z M1547.3 963.1L1554.0 951.5L1560.0 953.1L1555.7 966.5L1554.7 973.1L1550.0 969.8Z M1809.0 951.5L1817.3 948.1L1815.7 953.1L1810.7 954.8Z M1707.3 1078.1L1715.7 1074.8L1722.3 1077.1L1719.0 1082.5L1710.7 1083.1Z M1795.7 1143.1L1800.7 1140.5L1804.7 1148.1L1802.3 1154.8L1797.3 1148.1Z M1824.7 1139.8L1829.0 1138.1L1831.3 1144.8L1827.3 1148.1L1824.0 1145.8Z M1807.3 1156.5L1815.7 1153.8L1824.0 1158.1L1829.0 1163.1L1825.7 1169.8L1817.3 1172.5L1810.7 1166.5Z M1420.0 1149.8L1427.3 1140.5L1430.7 1144.8L1434.0 1154.8L1439.0 1156.5L1433.3 1163.1L1434.0 1171.5L1430.7 1185.8L1426.7 1173.1L1428.0 1163.1L1421.3 1156.5Z M1477.3 1146.5L1483.3 1134.8L1488.0 1146.5L1492.3 1150.5L1500.0 1134.8L1497.3 1151.5L1494.0 1161.5L1490.0 1154.8L1485.7 1163.8L1479.0 1156.5Z M1386.7 1164.8L1390.0 1160.5L1395.7 1169.8L1396.7 1176.5L1389.0 1183.1L1387.3 1173.1Z M1552.5 1414.8L1553.5 1412.9L1554.6 1407.7L1552.5 1404.6L1556.7 1399.4L1561.9 1393.1L1567.1 1386.9L1573.3 1380.6L1578.5 1374.4L1581.7 1370.2L1583.8 1365.0L1582.7 1357.7L1577.5 1353.5L1574.4 1349.4L1575.4 1343.1L1579.6 1336.9L1583.8 1332.7L1586.9 1333.8L1591.0 1328.5L1593.1 1324.4L1598.3 1326.5L1604.6 1329.0L1609.8 1334.8L1616.0 1333.1L1617.5 1328.5L1624.4 1327.5L1630.6 1331.7L1636.9 1328.1L1645.2 1332.7L1648.8 1339.4L1654.6 1339.0L1660.8 1341.0L1667.1 1340.0L1673.3 1341.0L1679.6 1344.2L1683.8 1348.3L1686.9 1354.6L1688.3 1360.8L1685.8 1364.0L1679.6 1361.9L1674.4 1361.5L1678.5 1365.0L1679.6 1369.2L1682.7 1366.0L1684.2 1370.2L1679.6 1374.4L1675.4 1376.5L1684.8 1374.0L1691.0 1372.3L1696.2 1375.4L1697.3 1379.6L1693.1 1384.8L1686.9 1389.0L1681.7 1395.2L1677.5 1401.5L1674.4 1408.8L1673.3 1414.8 M1583.8 1311.9L1590.0 1315.0L1598.3 1318.1L1606.7 1319.2L1612.9 1322.3L1621.2 1324.4L1629.6 1326.5L1637.9 1327.5L1643.1 1326.5L1645.8 1318.1L1645.2 1309.8L1642.1 1301.5L1636.9 1295.2L1630.6 1290.0L1626.5 1286.9L1621.2 1285.8L1617.1 1287.3L1614.0 1291.0L1615.4 1297.3L1618.1 1303.5L1619.2 1307.3L1615.0 1301.5L1611.9 1295.2L1609.8 1293.1L1606.7 1294.2L1601.5 1296.3L1596.2 1297.3L1591.0 1294.2L1585.8 1292.1L1583.8 1295.2L1578.5 1291.0L1574.4 1293.1L1570.2 1289.0L1566.7 1290.0L1566.0 1297.3L1568.1 1303.5L1566.7 1308.8L1570.2 1312.9L1575.4 1317.1L1578.5 1314.0Z M1547.3 1284.8L1551.5 1280.6L1556.7 1279.6L1562.9 1280.6L1567.1 1276.5L1571.2 1271.3L1574.4 1272.3L1571.2 1276.5L1568.1 1281.7L1562.9 1284.8L1559.8 1291.0L1560.8 1298.3L1561.9 1305.6L1559.8 1312.9L1555.6 1315.0L1551.5 1314.0L1549.4 1308.8L1547.3 1301.5L1546.2 1293.1Z M1587.9 1282.7L1593.1 1279.6L1600.4 1280.2L1606.7 1277.5L1612.9 1278.5L1620.2 1280.6L1621.2 1284.8L1617.1 1285.8L1612.9 1290.0L1606.7 1292.1L1600.4 1293.1L1594.2 1290.0L1589.0 1286.9Z M1555.6 1257.7L1560.8 1255.6L1565.0 1250.4L1573.3 1249.0L1571.2 1252.5L1567.1 1254.6L1572.3 1256.7L1571.2 1261.9L1565.0 1265.0L1558.8 1264.0L1554.6 1261.9Z M1558.8 1222.3L1560.8 1218.1L1565.0 1216.0L1570.2 1214.4L1575.4 1211.9L1579.2 1216.0L1582.7 1221.3L1579.6 1223.3L1573.3 1226.5L1568.1 1230.6L1571.2 1233.1L1576.5 1232.7L1579.6 1235.8L1577.5 1238.5L1570.2 1240.0L1565.0 1243.1L1560.8 1239.0L1559.8 1230.6Z M1583.8 1209.8L1585.8 1204.6L1591.0 1202.1L1593.1 1207.7L1594.2 1215.0L1595.8 1220.2L1593.1 1225.4L1590.0 1222.3L1585.8 1219.2L1583.8 1214.0Z M1587.9 1234.8L1592.1 1231.7L1597.3 1230.6L1600.4 1235.8L1597.3 1244.2L1594.2 1240.0L1590.0 1241.0Z M1585.8 1264.0L1590.0 1259.8L1594.2 1255.6L1599.4 1253.5L1604.6 1254.6L1601.5 1259.8L1596.2 1262.9L1594.2 1267.1L1590.0 1268.1L1595.2 1269.8L1592.1 1273.3L1586.9 1270.2Z M1515.0 1255.6L1519.2 1252.5L1523.3 1247.3L1529.6 1246.3L1534.8 1245.2L1535.4 1250.4L1542.1 1252.5L1543.1 1257.7L1543.1 1262.9L1536.9 1261.9L1531.7 1262.9L1527.5 1265.0L1520.2 1264.0L1518.1 1259.8Z M1523.3 1273.3L1527.5 1270.2L1533.8 1269.2L1540.0 1270.2L1543.1 1273.3L1542.1 1279.6L1540.0 1284.8L1534.8 1281.7L1529.6 1279.6L1525.4 1276.5Z M1515.4 1302.5L1521.2 1299.4L1527.5 1299.0L1533.8 1301.5L1537.9 1305.6L1531.7 1303.5L1525.4 1301.5L1519.2 1302.5Z M1531.7 1318.1L1535.8 1316.0L1541.0 1317.1L1542.5 1322.3L1541.0 1327.5L1535.8 1329.6L1532.7 1326.5L1531.2 1322.3Z M1548.3 1274.4L1553.5 1268.1L1558.3 1273.3L1555.6 1275.4L1549.4 1276.0Z M1578.5 1279.6L1581.7 1270.2L1583.8 1276.5L1583.3 1280.6Z M1470.8 1344.2L1476.5 1341.0L1482.7 1343.1L1483.8 1347.3L1479.6 1350.4L1473.3 1349.4Z M1541.0 1174.4L1548.3 1173.3L1554.6 1172.7L1560.8 1179.6L1567.1 1185.8L1572.3 1187.9L1571.2 1197.3L1565.0 1204.6L1558.8 1206.7L1552.5 1209.4L1550.4 1201.5L1548.3 1195.2L1544.2 1186.9L1541.0 1180.6Z M1497.3 1198.3L1500.4 1192.1L1506.7 1189.0L1512.9 1186.9L1519.2 1186.9L1520.2 1191.0L1517.1 1197.3L1518.1 1202.5L1523.3 1197.3L1528.5 1191.0L1534.8 1187.9L1540.0 1191.0L1544.2 1195.2L1548.3 1202.5L1549.4 1208.8L1544.2 1212.9L1542.1 1219.2L1536.9 1224.4L1535.8 1230.6L1542.1 1234.8L1544.2 1240.0L1540.0 1242.1L1533.8 1237.9L1525.4 1234.8L1519.2 1233.8L1512.9 1232.7L1506.7 1237.9L1502.5 1245.2L1496.2 1241.0L1490.0 1234.8L1491.0 1228.5L1496.2 1222.3L1498.3 1211.9L1497.3 1203.5Z M1529.6 1159.8L1531.7 1161.9L1527.5 1168.1L1519.2 1172.3L1510.8 1177.5L1504.6 1185.8L1498.3 1187.9L1495.2 1181.7L1489.0 1190.0L1490.0 1197.3L1489.0 1204.6L1481.7 1209.8L1484.8 1211.9L1491.0 1208.8L1492.1 1218.1L1490.0 1224.4L1483.8 1226.5L1478.5 1230.6L1473.3 1239.0L1472.3 1247.3L1476.5 1251.5L1481.7 1253.5L1487.9 1248.3L1495.2 1255.6L1487.9 1259.8L1481.7 1262.9L1474.4 1257.7L1470.2 1261.9L1476.5 1266.0L1484.8 1267.1L1492.1 1270.2L1502.5 1261.9L1512.9 1266.0L1518.1 1268.1L1516.0 1273.3L1506.7 1276.5L1499.4 1280.6L1493.1 1277.5L1486.9 1282.7L1480.6 1286.9L1486.9 1291.0L1481.7 1295.2L1472.3 1295.2L1466.0 1299.0L1471.2 1302.5L1480.6 1304.6L1495.2 1304.6L1497.3 1312.9L1493.1 1320.2L1486.9 1322.3L1481.7 1319.2L1474.4 1319.2L1471.2 1324.4L1465.0 1320.2L1458.8 1316.0L1454.6 1308.8L1457.7 1303.5L1452.5 1305.6L1446.2 1302.5L1440.0 1301.5 M1002.7 1300.0L1004.0 1310.0L1000.7 1313.3L1003.3 1323.3L1002.7 1333.3L996.7 1343.3L993.3 1346.7L996.0 1355.0L1000.0 1361.7L995.0 1368.3L986.7 1378.3L978.3 1380.7L970.0 1381.7L968.3 1385.0L960.0 1386.0L950.0 1393.3L940.0 1400.0L933.3 1406.7L931.7 1411.7L936.7 1418.3L946.7 1420.0L960.0 1418.3L973.3 1411.7L983.3 1405.0L993.3 1399.3L1005.0 1393.3L1016.7 1390.7L1026.7 1392.7L1035.0 1396.7L1043.3 1405.0L1053.3 1411.7L1061.7 1415.0L1070.0 1425.0L1078.3 1433.3L1083.3 1440.0L1085.0 1435.0L1091.7 1441.7L1095.0 1433.3L1100.0 1440.0L1093.3 1445.0L1088.3 1445.0L1096.7 1446.7L1103.3 1440.0L1113.3 1433.3L1123.3 1431.7L1125.0 1425.0L1126.7 1428.3L1138.3 1426.0L1144.0 1428.3L1136.7 1430.0L1126.7 1430.7L1123.3 1436.0L1115.0 1437.3L1125.0 1438.3L1133.3 1440.0L1141.7 1435.0L1145.0 1434.0L1141.7 1441.7L1148.3 1445.0L1156.7 1446.7L1163.3 1443.3L1168.3 1448.3L1175.0 1456.7L1180.0 1463.3L1186.7 1468.3L1185.0 1473.3L1190.0 1478.3L1191.7 1471.7L1196.7 1466.0L1205.0 1465.0L1211.7 1468.3L1218.3 1470.0L1223.3 1476.7L1228.3 1481.7L1233.3 1486.7L1238.3 1491.7L1245.0 1495.0L1250.0 1500.0L1255.0 1503.3L1253.3 1509.3L1246.7 1504.0L1240.0 1500.7L1233.3 1500.0L1228.3 1504.0L1228.3 1508.3L1236.7 1511.7L1245.0 1516.7L1253.3 1523.3L1260.0 1530.0L1266.7 1535.0L1273.3 1536.7L1280.0 1540.0L1281.7 1533.3L1286.7 1528.3L1280.0 1526.7L1273.3 1530.0L1270.0 1525.0L1265.0 1518.3L1263.3 1508.3L1266.7 1500.0L1273.3 1496.7L1278.3 1491.7L1275.0 1485.0L1276.7 1480.0L1283.3 1486.7L1288.3 1491.7L1293.3 1488.3L1296.0 1481.7L1293.3 1473.3L1288.3 1466.7L1280.0 1461.7L1270.0 1456.7L1258.3 1451.7L1248.3 1446.7L1256.7 1448.3L1270.0 1452.7L1283.3 1456.7L1290.0 1463.3L1298.3 1465.0L1305.0 1473.3L1310.0 1481.7L1313.3 1490.0L1316.7 1500.0L1321.7 1506.7L1330.0 1511.7L1340.0 1516.7L1346.7 1520.0L1355.0 1526.7L1361.7 1528.3L1370.0 1521.7L1375.0 1516.7L1372.7 1506.7L1376.0 1496.7L1373.3 1486.7L1378.3 1476.7L1381.7 1466.7L1384.0 1465.0 M1163.3 1443.3L1168.3 1446.7L1173.3 1453.3L1176.0 1460.0L1172.7 1461.7L1168.3 1455.0L1165.0 1449.3Z M1268.3 1503.3L1271.7 1501.7L1273.3 1511.7L1276.7 1520.0L1271.7 1518.3L1268.3 1511.7Z M1301.7 1493.3L1305.0 1485.0L1308.3 1495.0L1309.3 1505.0L1305.0 1506.7L1302.7 1500.0Z M1300.0 1535.0L1310.0 1531.7L1320.0 1530.0L1333.3 1528.3L1346.7 1526.7L1356.7 1529.3L1351.7 1533.3L1340.0 1536.7L1336.7 1543.3L1340.0 1553.3L1343.3 1561.7L1336.7 1566.7L1333.3 1573.3L1326.7 1571.7L1330.0 1578.3L1321.7 1583.3L1318.3 1580.0L1325.0 1575.0L1316.7 1576.7L1320.0 1570.0L1313.3 1568.3L1308.3 1565.0L1315.0 1560.0L1313.3 1551.7L1308.3 1545.0L1303.3 1540.0Z M921.7 1399.3L925.0 1407.3 M919.3 1460.7L925.0 1455.0L930.0 1449.3L939.3 1448.3L936.7 1453.3L928.3 1458.3L923.3 1462.7Z M955.0 1456.7L961.7 1454.0L966.0 1451.7L962.7 1459.3Z M956.7 1436.7L960.0 1433.3L961.7 1443.3L959.3 1448.3L958.3 1441.7Z M948.3 1468.3L946.0 1475.0 M939.3 1478.3L943.3 1477.3 M934.3 1490.7L939.3 1485.0 M916.0 1502.7L926.0 1493.3 M908.3 1515.0L916.0 1518.3L917.3 1510.7 M916.0 1530.0L916.0 1535.0 M906.7 1542.7L912.7 1546.0L912.7 1556.0 M891.7 1529.3L898.3 1528.3L900.0 1536.0L893.3 1535.0Z M875.0 1362.7L880.0 1368.3L888.3 1374.0L893.3 1385.0L897.3 1396.7L900.7 1406.7L899.3 1420.0L896.7 1431.7L893.3 1443.3L891.7 1456.7L889.3 1468.3L886.0 1481.7L884.0 1493.3L885.0 1500.0L879.3 1506.0L880.7 1515.0L876.0 1524.0 M875.0 1362.7L876.0 1371.7L881.7 1374.0L886.7 1380.0L890.0 1388.3L890.7 1396.7L889.3 1408.3L886.7 1401.7L883.3 1406.0L884.0 1420.0L882.7 1433.3L880.7 1443.3L881.7 1453.3L875.0 1460.0L871.7 1466.7L873.3 1476.0L869.3 1481.7L864.0 1476.0 M870.7 1391.7L875.0 1388.3L880.0 1390.7L876.0 1396.7Z M844.0 1325.0L853.3 1331.7L860.0 1334.0L866.0 1332.7L867.3 1323.3L866.7 1313.3L863.3 1303.3L860.7 1300.0 M1156.7 1313.3L1160.0 1308.3L1170.0 1306.0L1180.0 1307.3L1190.0 1309.3L1198.3 1314.0L1194.0 1305.0L1201.7 1309.3L1206.7 1312.7L1213.3 1319.3L1216.7 1326.7L1217.3 1336.7L1216.0 1346.7L1216.7 1358.3L1215.0 1368.3L1206.7 1376.7L1201.7 1378.3L1200.7 1371.7L1205.0 1365.0L1200.0 1363.3L1190.0 1365.0L1180.0 1361.7L1185.0 1356.7L1191.7 1353.3L1188.3 1348.3L1185.0 1345.0L1193.3 1342.7L1203.3 1338.3L1210.0 1333.3L1208.3 1328.3L1201.7 1325.0L1193.3 1321.7L1183.3 1319.3L1173.3 1320.7L1163.3 1319.3Z M1211.7 1358.3L1214.0 1348.3L1216.0 1358.3Z M1158.3 1353.3L1161.7 1350.0L1166.7 1358.3L1171.7 1366.7L1176.7 1375.0L1180.0 1383.3L1180.7 1391.7L1175.0 1388.3L1170.0 1381.7L1165.0 1373.3L1160.7 1365.0Z M1185.0 1385.0L1190.0 1382.7L1195.0 1391.7L1200.0 1401.7L1205.0 1411.7L1198.3 1415.0L1193.3 1411.7L1190.0 1401.7L1186.7 1393.3Z M1228.3 1300.0L1223.3 1305.0L1217.3 1310.0L1219.3 1320.0L1220.7 1331.7L1228.3 1330.7L1237.3 1329.3L1238.3 1318.3L1246.0 1316.0L1247.3 1306.7L1245.0 1300.0 M1335.0 1300.0L1333.3 1303.3L1330.0 1313.3L1327.3 1323.3L1328.3 1331.7L1323.3 1338.3L1313.3 1341.7L1303.3 1344.0L1296.7 1350.0L1288.3 1356.7L1281.7 1363.3L1288.3 1368.3L1296.7 1371.7L1305.0 1366.7L1313.3 1363.3L1323.3 1360.0L1333.3 1366.7L1345.0 1374.0L1355.0 1371.7L1365.0 1368.3L1371.7 1365.0L1376.7 1355.0L1384.0 1353.3 M1299.3 1353.3L1302.7 1345.0L1305.0 1352.7Z M1338.3 1355.0L1343.3 1352.7L1347.3 1356.7L1341.7 1359.3Z M1552.5 1413.8L1548.8 1418.8L1543.8 1415.0L1536.2 1417.5L1532.5 1422.5L1535.0 1427.5L1541.2 1426.2L1543.8 1422.5L1540.0 1432.5L1530.0 1430.5L1520.0 1432.0L1510.0 1438.8L1502.5 1446.2L1500.0 1452.5L1492.5 1460.0L1488.8 1470.0L1483.8 1480.0L1479.5 1490.0L1476.2 1500.0L1475.0 1510.0L1478.8 1517.5L1482.5 1525.0L1486.2 1530.0L1491.2 1528.0L1497.5 1523.8L1505.0 1517.5L1510.0 1512.0L1520.0 1510.0L1527.5 1505.0L1533.8 1498.8L1536.2 1494.5L1543.8 1497.5L1552.5 1501.2L1562.5 1502.0L1572.5 1498.8L1582.5 1495.0L1590.0 1492.0L1600.0 1495.0L1610.0 1496.2L1620.0 1494.5L1630.0 1491.2L1633.8 1486.2L1627.5 1485.0L1621.2 1481.2L1626.2 1475.0L1630.0 1472.5L1633.8 1477.5L1636.2 1485.0L1640.0 1475.0L1642.5 1466.2L1637.5 1462.5L1646.2 1460.0L1651.2 1455.0L1657.5 1450.0L1663.8 1445.0L1665.0 1438.8L1661.2 1437.5L1663.8 1432.5L1668.8 1423.8L1662.5 1425.0L1665.0 1417.5L1671.2 1407.5L1673.8 1404.5 M1603.8 1535.0L1607.5 1530.0L1613.8 1526.2L1617.5 1531.2L1620.0 1536.2L1625.0 1535.0L1630.0 1538.8L1637.5 1537.5L1643.8 1535.0L1650.0 1540.0L1651.2 1546.2L1648.8 1552.5L1650.0 1557.5L1643.8 1561.2L1635.0 1563.8L1626.2 1566.2L1620.0 1565.0L1612.5 1558.8L1605.0 1553.8L1610.0 1547.5L1608.8 1542.0L1603.0 1541.2Z M1738.8 1396.2L1745.0 1391.2L1752.5 1385.0L1760.0 1382.5L1766.2 1383.8L1767.5 1390.0L1762.5 1395.0L1768.8 1400.0L1772.5 1407.5L1770.0 1415.0L1765.0 1410.0L1761.2 1403.8L1760.0 1412.5L1761.2 1422.5L1760.0 1427.5L1755.0 1422.5L1750.0 1416.2L1748.8 1410.0L1743.8 1406.2L1740.0 1401.2Z M1793.8 1335.0L1797.5 1331.2L1800.0 1337.5L1802.5 1327.5L1806.2 1330.0L1805.0 1341.2L1800.0 1346.2L1796.2 1343.8Z M1790.0 1353.8L1795.0 1350.0L1797.5 1356.2L1792.5 1360.0Z M1473.8 1410.0L1480.0 1411.2L1490.0 1410.0L1495.0 1400.0L1496.2 1385.0L1498.8 1375.0L1507.5 1373.8L1511.2 1367.5L1517.5 1360.0L1522.5 1351.2L1525.0 1342.5L1530.0 1335.0L1532.5 1325.0L1531.2 1315.0L1527.5 1310.0L1531.2 1308.8L1536.2 1313.8L1538.8 1321.2L1542.5 1323.8L1541.2 1316.2L1535.0 1311.2 M1405.0 1341.2L1412.5 1340.0L1413.8 1346.2L1407.5 1345.0Z M1408.8 1321.2L1413.8 1320.0L1416.2 1327.5L1411.2 1326.2Z M1472.5 1345.0L1477.5 1341.2L1483.8 1343.8L1482.5 1348.8L1476.2 1350.0Z M1400.0 1353.8L1407.5 1351.2L1415.0 1353.8L1418.8 1365.0L1421.2 1375.0L1417.5 1385.0L1411.2 1392.5L1412.5 1398.8L1405.0 1402.5L1400.0 1403.8 M1400.0 1450.0L1407.5 1440.0L1416.2 1428.8L1405.0 1427.5L1400.0 1430.0 M1425.0 1332.5L1431.2 1326.2L1437.5 1320.0L1443.8 1312.5L1453.8 1308.8L1443.8 1305.0L1435.0 1303.8L1426.2 1306.2L1420.0 1310.0L1423.8 1318.8L1427.5 1325.0Z M1437.5 1345.0L1443.8 1342.5L1447.5 1346.2L1451.2 1360.0L1456.2 1361.2L1465.0 1356.2L1475.0 1361.2L1482.5 1357.5L1487.5 1352.5L1495.0 1347.5L1500.0 1337.5L1503.8 1331.2L1496.2 1330.0L1487.5 1332.5L1480.0 1330.0L1472.5 1325.0L1467.5 1323.8L1462.5 1316.2L1453.8 1311.2 M1519.2 1272.7L1512.9 1274.8L1506.7 1277.9L1499.4 1281.0L1494.2 1277.9L1487.9 1282.1L1481.7 1286.3L1486.9 1290.4L1479.6 1293.5L1472.3 1294.6L1466.0 1297.7L1469.2 1300.8L1473.3 1302.9L1479.6 1306.0L1487.9 1304.0L1494.6 1305.0L1495.2 1312.3L1490.0 1313.3L1489.0 1320.2L1483.8 1321.7L1479.6 1318.5L1473.3 1319.6L1471.2 1324.8L1466.0 1324.8L1460.8 1320.6L1455.6 1315.4L1454.6 1310.2L1457.7 1306.0L1455.6 1301.5L1451.5 1304.0L1447.3 1301.9L1441.0 1299.8L1434.8 1296.7L1428.5 1293.5L1427.5 1287.3L1421.2 1284.2L1415.0 1282.1L1411.9 1273.8L1406.7 1272.7L1404.6 1269.6L1398.3 1265.4L1390.0 1261.3L1381.7 1259.2L1373.3 1258.1L1367.5 1260.2L1366.7 1266.5L1360.8 1268.5L1353.5 1269.6L1346.2 1271.7L1348.3 1280.0L1345.2 1287.3L1341.0 1294.6L1335.8 1301.9L1331.7 1310.2L1328.5 1318.5L1327.1 1324.8L1327.5 1333.1L1326.5 1339.8L1316.0 1339.4L1308.8 1341.5L1301.5 1343.5L1294.2 1350.8L1287.9 1358.1L1281.7 1364.4L1284.8 1365.4L1290.0 1368.5L1296.2 1372.3L1302.5 1368.5L1310.8 1366.5L1319.2 1363.3L1324.4 1359.8L1329.6 1364.4L1335.8 1369.6L1344.2 1373.8L1352.5 1372.3L1360.8 1368.5L1369.2 1364.4L1373.3 1356.0L1377.5 1355.0L1380.6 1359.2L1385.8 1360.2L1393.1 1358.1L1398.3 1354.4L1406.7 1353.5L1410.8 1350.8L1416.0 1351.9L1418.1 1358.1L1419.2 1364.4L1421.7 1372.7L1418.1 1381.0L1412.9 1388.3L1410.8 1393.5L1412.5 1398.8L1406.7 1401.9L1400.4 1405.0L1394.2 1407.1L1390.4 1413.3L1387.5 1419.6L1392.1 1424.8L1398.3 1427.3L1404.6 1429.0L1409.8 1426.5L1417.1 1428.5L1412.9 1434.2L1408.8 1440.4L1403.5 1447.7L1399.4 1454.8 M1299.4 1354.0L1302.5 1344.6L1305.0 1352.9Z M1339.0 1359.2L1342.1 1352.9L1347.3 1356.0L1343.1 1359.2Z M1408.3 1321.7L1411.9 1320.6L1416.0 1324.8L1417.1 1329.4L1412.9 1326.9L1409.2 1323.8Z M1404.6 1342.5L1412.9 1339.4L1414.0 1344.6L1406.7 1344.0Z M1419.6 1308.1L1425.4 1307.7L1425.0 1301.9L1429.6 1305.0L1434.8 1304.0L1441.0 1305.0L1448.3 1307.1L1452.5 1309.2L1446.2 1313.3L1442.1 1318.5L1437.9 1324.8L1432.7 1330.0L1429.6 1335.2L1425.0 1332.1L1428.5 1326.9L1430.6 1320.6L1426.5 1316.5L1422.3 1312.3Z M1471.2 1343.5L1475.4 1341.5L1480.6 1341.5L1484.2 1344.6L1482.7 1348.8L1477.5 1350.8L1473.3 1348.8Z M1531.7 1318.5L1537.9 1316.5L1542.1 1320.6L1541.7 1326.9L1535.8 1330.0L1532.7 1324.8Z M1532.7 1416.5L1537.9 1412.3L1546.2 1410.2L1548.3 1414.4L1544.2 1421.7L1535.8 1424.4Z M1268.1 1218.5L1275.4 1216.5L1282.7 1214.4L1289.0 1213.3L1294.2 1209.2L1301.5 1207.1L1306.7 1206.0L1306.2 1211.3L1300.4 1215.4L1295.2 1214.4L1290.0 1217.5L1284.8 1220.6L1276.5 1222.7L1269.2 1223.1Z M1269.2 1232.1L1277.5 1231.0L1282.7 1234.2L1283.8 1230.0L1289.0 1231.0L1290.0 1225.8L1297.3 1224.4L1304.6 1220.2L1311.9 1221.7L1310.8 1229.0L1302.5 1231.5L1294.2 1232.7L1286.9 1235.2L1278.5 1239.0L1271.2 1236.3Z M1348.3 1201.9L1353.5 1205.0L1359.8 1206.0L1365.0 1210.2L1367.5 1211.9L1361.9 1214.0L1356.7 1209.2L1350.4 1207.1Z M1520.2 1287.3L1515.0 1288.3L1508.8 1291.5L1501.5 1295.6L1497.9 1301.9L1498.3 1310.2L1497.3 1318.5L1494.6 1325.8L1497.3 1327.9L1503.5 1331.0L1496.2 1337.3L1490.0 1346.7L1483.8 1355.0L1479.6 1360.2L1473.3 1362.3L1467.1 1359.2L1461.9 1357.1L1458.8 1362.3L1453.5 1358.1L1451.5 1352.9L1450.8 1345.6L1446.2 1343.1L1441.0 1342.5L1436.9 1345.6L1437.9 1351.9L1442.1 1358.1L1441.0 1366.5L1440.0 1375.8L1434.8 1377.9L1432.7 1385.2L1431.7 1393.5L1429.6 1399.8L1430.0 1408.1L1431.7 1412.7L1435.8 1408.1L1439.0 1399.8L1443.1 1392.5L1445.2 1396.7L1444.2 1405.0L1443.1 1412.3L1446.2 1416.5L1452.5 1409.2L1458.8 1404.0L1462.9 1395.6L1468.1 1390.4L1475.4 1388.3L1476.5 1394.6L1472.3 1399.8L1468.1 1406.0L1471.2 1409.2L1479.6 1411.3L1489.0 1410.2L1493.1 1399.8L1495.2 1387.3L1496.2 1379.0L1500.4 1373.8L1505.6 1376.9L1506.7 1371.7L1515.0 1368.5L1520.2 1360.2L1524.4 1351.9L1525.4 1341.5L1530.6 1339.4L1531.7 1331.0L1529.6 1324.8L1526.5 1320.6L1523.3 1317.5L1531.7 1316.5L1535.8 1314.0L1540.0 1312.3 M1502.5 1454.8L1504.6 1446.7L1510.8 1439.4L1519.2 1435.2L1527.5 1432.1L1535.8 1430.0L1542.1 1424.8L1546.2 1418.5L1552.5 1416.5L1548.3 1420.6L1552.5 1410.2L1548.3 1404.0L1554.6 1399.8L1562.9 1393.5L1569.2 1387.3L1575.4 1380.0L1580.0 1374.8 M1240.0 1293.5L1244.2 1295.6L1249.4 1302.3L1247.3 1308.1L1246.2 1315.4L1240.0 1319.6 M1248.3 1446.7L1256.7 1448.8L1267.1 1451.9L1275.4 1454.8 M1489.0 1199.8L1484.8 1205.0L1481.7 1209.2L1486.9 1211.3L1491.0 1208.1L1493.1 1214.4L1492.1 1221.7L1484.8 1225.8L1478.5 1232.1L1473.3 1238.3L1472.3 1244.6L1475.4 1250.8L1482.7 1252.9L1489.0 1248.8L1495.2 1255.0L1489.0 1260.2L1482.7 1262.3L1477.5 1258.1L1471.2 1259.2L1469.2 1261.3L1474.4 1264.4L1480.6 1267.5L1486.9 1269.6L1493.1 1266.5L1499.4 1262.3L1505.6 1261.3L1512.9 1263.3L1518.1 1266.5 M1496.2 1224.8L1502.5 1222.7L1498.3 1229.0L1493.1 1234.2L1490.0 1239.4L1494.2 1241.5L1501.5 1245.6L1502.5 1239.4L1509.8 1235.2L1517.1 1234.2L1523.3 1235.2 M1640.0 1709.3L1643.3 1700.0L1648.3 1695.0L1646.7 1688.3L1653.3 1681.7L1660.0 1676.7L1668.3 1675.0L1675.0 1680.0L1677.3 1688.3L1673.3 1695.0L1671.7 1705.0L1666.7 1711.7L1656.7 1715.0L1646.7 1716.7Z M1673.3 1641.7L1678.3 1638.3L1677.3 1645.0L1673.3 1646.7Z M1679.3 1650.0L1685.0 1641.7L1691.7 1637.3L1698.3 1638.3L1696.7 1643.3L1703.3 1648.3L1705.0 1655.0L1700.0 1661.7L1696.7 1668.3L1703.3 1671.7L1708.3 1681.7L1713.3 1688.3L1716.0 1696.7L1718.3 1706.7L1726.0 1708.3L1729.3 1715.0L1727.3 1723.3L1721.7 1726.7L1725.0 1731.7L1716.7 1733.3L1706.7 1732.7L1696.7 1733.3L1686.7 1736.0L1676.7 1739.3L1673.3 1736.7L1681.7 1730.7L1690.0 1726.0L1695.0 1722.7L1686.7 1721.7L1678.3 1720.0L1683.3 1713.3L1686.7 1706.7L1685.0 1700.0L1695.0 1698.3L1696.7 1690.0L1691.7 1687.3L1693.3 1681.7L1686.7 1680.0L1683.3 1673.3L1680.7 1666.7L1676.0 1668.3L1679.3 1661.7L1681.7 1655.0L1675.0 1650.7Z M1696.7 1630.7L1699.3 1633.3 M1708.3 1616.7L1709.3 1620.7 M1449.3 1837.3L1456.0 1840.0 M1745.0 1600.0L1744.0 1610.0L1748.3 1618.3L1750.0 1630.0L1755.0 1636.7L1763.3 1640.7L1771.7 1635.0L1775.0 1630.0L1780.0 1624.0L1786.7 1633.3L1793.3 1646.7L1798.3 1655.0L1801.7 1661.7L1805.0 1665.0L1811.7 1664.0L1812.7 1653.3L1818.3 1651.7L1821.7 1640.0L1825.0 1626.7L1826.7 1613.3L1823.3 1605.0L1820.0 1600.0 M1860.0 1600.0L1865.0 1610.0L1867.3 1620.0L1863.3 1626.7L1856.7 1633.3L1855.0 1643.3L1856.0 1653.3L1851.7 1660.0L1843.3 1665.0L1833.3 1668.3L1823.3 1675.0L1816.7 1680.0L1810.0 1680.0L1808.3 1675.0L1801.7 1678.3L1798.3 1683.3L1793.3 1685.0L1790.0 1680.0L1785.0 1675.0L1783.3 1666.7L1786.0 1660.0L1783.3 1653.3L1782.7 1645.0L1778.3 1646.7L1773.3 1651.7L1770.0 1658.3L1770.7 1666.7L1775.0 1671.7L1778.3 1678.3L1779.3 1686.7L1776.7 1693.3L1770.0 1696.7L1761.7 1698.3L1756.7 1703.3L1759.3 1709.3L1755.0 1710.0L1752.7 1705.0L1750.0 1713.3L1745.0 1720.0L1738.3 1726.0L1730.0 1731.7L1725.0 1740.0L1718.3 1746.7L1706.7 1750.0L1706.0 1745.7L1702.7 1746.0L1701.7 1755.0L1695.0 1756.7L1685.0 1756.0L1678.3 1759.3L1677.3 1764.0L1683.3 1766.7L1693.3 1771.7L1700.0 1778.3L1705.0 1786.7L1707.3 1796.7L1706.7 1806.7L1705.0 1818.3L1700.0 1824.0L1691.7 1822.7L1683.3 1821.7L1675.0 1823.3L1666.7 1820.7L1656.7 1819.3L1648.3 1818.3L1641.7 1816.0L1636.7 1820.0L1631.7 1824.0L1630.7 1833.3L1631.7 1845.0L1629.3 1856.7L1625.0 1865.0L1621.7 1871.7L1620.0 1878.3L1624.0 1883.3L1623.3 1893.3L1621.7 1900.0L1630.0 1901.7L1640.0 1902.7L1645.0 1908.3L1650.0 1916.7L1655.0 1919.3L1666.7 1913.3L1680.0 1912.7L1693.3 1912.7L1698.3 1906.7L1703.3 1898.3L1711.7 1890.0L1718.3 1885.0L1714.0 1880.0L1713.3 1875.0L1720.0 1863.3L1726.7 1855.0L1735.0 1848.3L1743.3 1843.3L1746.0 1835.0L1746.7 1828.3L1753.3 1824.0L1761.7 1822.7L1770.0 1826.7L1776.7 1824.0L1783.3 1816.7L1791.7 1810.0L1798.3 1807.3L1806.7 1809.3L1811.7 1816.7L1816.7 1822.7L1820.0 1828.3L1828.3 1830.0L1836.7 1835.0L1845.0 1838.3L1853.3 1841.7L1863.3 1846.0L1873.3 1848.3L1880.0 1853.3L1883.3 1863.3L1881.7 1873.3L1886.0 1866.7L1889.3 1856.7L1888.3 1848.3L1880.0 1845.0L1873.3 1838.3L1870.7 1828.3L1883.3 1830.0L1896.7 1835.0L1900.0 1839.3L1895.0 1841.7L1890.0 1830.7L1876.7 1821.7L1865.0 1813.3L1853.3 1805.0L1845.0 1800.0L1835.0 1796.7L1828.3 1791.7L1825.0 1786.7L1830.0 1782.7L1836.0 1781.7L1836.7 1788.3L1841.7 1790.0L1845.0 1785.0L1850.0 1786.7L1855.0 1796.7L1863.3 1800.0L1873.3 1803.3L1883.3 1806.0L1893.3 1810.0L1903.3 1813.3L1906.7 1826.7L1913.3 1833.3L1923.3 1840.0L1933.3 1848.3L1940.0 1850.7L1950.0 1848.3L1960.0 1845.0L1966.7 1846.7L1970.0 1840.0L1961.7 1838.3L1953.3 1833.3L1946.7 1826.7L1938.3 1820.0L1943.3 1815.0L1950.0 1808.3L1958.3 1805.0L1968.3 1801.7L1973.3 1808.3L1976.7 1816.7L1981.7 1813.3L1984.0 1806.7 M1937.3 1853.3L1943.3 1850.0L1951.7 1851.7L1958.3 1855.0L1963.3 1866.7L1956.7 1863.3L1955.0 1869.3L1948.3 1865.0L1943.3 1860.0Z M1847.3 1883.3L1853.3 1878.3L1863.3 1876.7L1871.7 1873.3L1878.3 1870.7L1880.7 1878.3L1878.3 1885.0L1881.7 1890.0L1875.0 1893.3L1866.7 1888.3L1856.7 1887.3L1850.0 1886.0Z M1800.0 1830.0L1805.0 1823.3L1807.3 1830.0L1806.0 1838.3L1808.3 1845.0L1813.3 1853.3L1815.0 1863.3L1812.7 1871.7L1806.7 1877.3L1802.7 1871.7L1801.7 1861.7L1797.3 1853.3L1801.7 1848.3L1805.0 1841.7L1800.7 1836.7Z M1740.0 1873.3L1746.7 1869.3L1751.7 1872.7L1748.3 1878.3L1742.7 1876.7Z M1500.0 2001.7L1506.7 1999.3L1509.3 2003.3L1505.0 2008.0Z M1540.0 2003.3L1546.0 2000.0L1544.0 2006.0Z M1783.3 1668.3L1788.3 1666.7L1790.0 1671.7L1786.0 1674.0Z M1791.7 1665.0L1798.3 1660.0L1801.7 1665.0L1796.7 1670.0Z M1793.3 1675.0L1798.3 1674.0L1796.7 1678.3Z M1830.7 1633.3L1833.3 1626.7L1835.3 1631.7L1833.3 1637.3Z M1849.3 1608.3L1853.3 1606.0L1855.0 1611.7L1850.7 1616.0Z M1586.7 2008.0L1591.7 2001.7L1596.7 1995.0L1596.0 1986.7L1598.3 1976.7L1605.0 1966.7L1613.3 1958.3L1623.3 1951.7L1633.3 1945.0L1640.0 1936.7L1645.0 1930.0L1650.0 1922.7L1656.7 1923.3L1663.3 1930.0L1673.3 1932.7L1681.7 1931.7L1690.0 1935.0L1698.3 1931.7L1706.7 1926.7L1716.7 1921.7L1730.0 1916.7L1743.3 1913.3L1756.7 1910.7L1773.3 1909.3L1786.7 1906.0L1800.0 1903.3L1813.3 1900.0L1825.0 1897.3L1830.0 1903.3L1835.0 1899.3L1832.7 1908.3L1836.7 1916.7L1840.0 1928.3L1835.0 1935.0L1831.7 1940.0L1836.7 1945.0L1845.0 1946.7L1851.7 1950.0L1860.0 1951.7L1873.3 1950.0L1886.7 1949.3L1898.3 1953.3L1903.3 1960.0L1913.3 1961.7L1926.7 1960.7L1940.0 1963.3L1953.3 1965.0L1960.0 1958.3L1958.3 1948.3L1953.3 1940.0L1956.7 1930.0L1963.3 1921.7L1973.3 1918.3L1984.0 1916.7 M1984.0 1708.3L1978.3 1711.7L1971.7 1715.0L1970.0 1726.7L1971.7 1740.0L1970.0 1753.3L1972.7 1766.7L1976.7 1775.0L1984.0 1780.0 M2090.7 1600.0L2094.0 1608.3L2090.7 1616.7L2089.0 1626.7L2094.0 1636.7L2099.0 1645.0L2110.7 1650.0L2124.0 1652.7L2137.3 1655.0L2149.0 1658.3L2159.0 1656.7L2160.7 1666.7L2165.7 1676.7L2174.0 1685.0L2180.7 1690.0L2190.7 1683.3L2200.7 1680.0L2210.7 1675.0L2215.7 1665.0L2221.3 1653.3L2214.0 1650.0L2205.7 1643.3L2197.3 1636.7L2189.0 1635.0L2182.3 1636.7L2174.0 1631.7L2180.7 1625.0L2182.3 1615.0L2172.3 1616.0L2164.0 1616.7L2162.3 1621.7L2166.7 1628.3L2157.3 1625.0L2150.7 1620.0L2145.7 1623.3L2137.3 1625.0L2127.3 1621.7L2119.0 1620.0L2120.7 1613.3L2125.7 1610.0L2120.7 1605.0L2119.0 1600.0 M1984.0 1711.7L1992.3 1708.3L1997.3 1706.7L1994.7 1716.7L2004.0 1722.7L2010.7 1715.0L2015.7 1706.7L2024.0 1701.7L2037.3 1699.3L2050.7 1698.3L2064.0 1699.3L2075.7 1697.3L2084.0 1701.7L2088.0 1708.3L2085.7 1720.0L2079.0 1728.3L2070.7 1735.0L2064.0 1737.3L2055.7 1741.7L2044.0 1740.7L2037.3 1744.0L2029.0 1748.3L2020.7 1755.0L2015.7 1763.3L2010.7 1771.7L2002.3 1778.3L1992.3 1781.7L1984.0 1783.3 M2004.0 1700.0L2007.3 1691.7L2014.0 1683.3L2019.0 1675.0L2024.0 1668.3L2027.3 1666.7L2023.3 1678.3L2026.7 1685.0L2027.3 1695.0L2022.3 1700.0L2015.7 1706.0L2009.0 1704.0Z M1984.0 1793.3L1992.3 1788.3L1998.0 1787.3L1995.7 1793.3L1987.3 1798.3L1984.0 1799.3 M1984.0 1820.0L1989.0 1830.0L1997.3 1833.3L2002.3 1840.0L2010.7 1836.0L2019.0 1837.3L2029.0 1837.3L2034.0 1831.7L2034.7 1825.0L2045.7 1821.7L2052.3 1824.0L2062.3 1820.0L2068.0 1813.3L2071.3 1801.7L2079.0 1799.3L2083.3 1791.7L2087.3 1800.0L2094.0 1808.3L2100.7 1818.3L2103.3 1833.3L2107.3 1846.7L2111.3 1860.0L2110.0 1870.0L2100.7 1878.3L2093.3 1881.7L2092.3 1886.0L2088.0 1886.0L2086.7 1881.7L2077.3 1886.7L2069.0 1895.0L2062.3 1903.3L2055.7 1906.7L2044.0 1910.0L2034.0 1911.7L2024.0 1914.0L2014.0 1919.3L2009.0 1915.0L1997.3 1918.3L1987.3 1920.7L1984.0 1920.0 M2064.0 1837.3L2070.7 1830.0L2076.7 1823.3L2080.7 1816.7L2081.3 1824.0L2077.3 1831.7L2071.3 1837.3L2066.7 1839.3Z M2011.3 1848.3L2014.7 1842.7L2015.7 1848.3L2013.3 1851.7Z M1984.0 1872.7L1992.3 1870.7L2000.7 1867.3L2003.3 1871.7L1995.7 1876.0L1987.3 1878.3L1984.0 1877.3 M2284.0 1951.7L2274.0 1956.7L2262.3 1953.3L2254.0 1948.3L2245.7 1940.0L2237.3 1931.7L2227.3 1926.7L2217.3 1925.0L2207.3 1926.7L2197.3 1924.0L2187.3 1918.3L2174.0 1911.7L2160.7 1905.0L2149.0 1900.7L2144.0 1904.0L2142.3 1893.3L2135.7 1884.0L2134.7 1890.0L2138.0 1900.0L2140.7 1911.7L2134.0 1909.3L2124.0 1905.0L2112.3 1900.0L2104.0 1895.0L2105.7 1898.3L2117.3 1906.7L2130.7 1915.0L2142.3 1921.7L2154.0 1930.0L2167.3 1938.3L2180.7 1945.0L2190.7 1949.3L2194.0 1955.0L2202.3 1960.0L2214.0 1960.7L2222.3 1960.0L2227.3 1966.7L2235.7 1970.7L2240.7 1978.3L2244.7 1982.7 M2457.3 1746.7L2454.0 1738.3L2449.0 1726.7L2444.0 1715.0L2440.0 1707.3L2430.7 1710.0L2420.7 1711.7L2412.3 1716.7L2405.7 1721.7L2397.3 1726.0L2384.0 1728.3L2374.0 1725.0L2365.7 1718.3L2364.7 1720.7L2367.3 1730.0L2370.0 1740.0L2371.3 1751.7L2373.3 1760.7L2367.3 1768.3L2362.3 1776.7L2359.0 1786.7L2350.7 1790.0L2347.3 1791.7L2342.3 1783.3L2335.7 1776.7L2327.3 1774.0L2324.7 1780.0L2329.0 1785.0L2330.7 1789.3L2319.0 1788.3L2312.3 1783.3L2300.7 1781.7L2284.0 1782.7L2270.7 1779.3L2257.3 1776.7L2260.0 1771.7L2254.0 1768.3L2257.3 1762.7L2255.7 1756.0L2265.7 1754.0L2267.3 1748.3L2277.3 1749.3L2290.7 1751.7L2305.7 1755.0L2314.0 1750.0L2324.0 1746.7L2334.0 1744.0L2342.3 1736.7L2350.0 1733.3L2352.3 1721.7L2354.0 1711.7L2360.7 1706.0L2369.0 1706.7L2377.3 1709.3L2384.0 1701.7L2394.0 1691.7L2404.0 1680.0L2412.3 1668.3L2419.0 1658.3L2424.0 1648.3L2425.7 1636.7L2432.3 1625.0L2437.3 1613.3L2441.3 1603.3L2447.3 1600.0 M1928.0 1013.1L1941.3 1011.5L1954.7 1009.1L1968.0 1006.5L1981.3 1004.8L1994.7 1005.8L1996.3 998.1L1993.0 994.8L1997.3 989.1L1991.3 984.8L1994.7 979.8L1984.7 981.5L1978.0 974.8L1976.3 964.8L1981.3 954.8L1989.7 944.8L1996.3 936.5L2003.0 929.8L2011.3 923.8L2024.7 919.1L2038.0 915.8L2051.3 912.5L2064.7 909.8L2078.0 908.1L2091.3 906.5L2101.3 905.8L2109.7 908.1L2116.3 913.1L2118.7 919.8L2117.3 924.8L2128.0 926.5L2131.3 923.8L2138.0 927.1L2148.0 928.1L2158.0 922.5L2168.0 924.8L2178.0 927.1L2183.0 931.5L2188.0 926.5L2189.7 916.5L2192.0 906.5L2194.0 899.8 M1979.7 993.8L1984.7 991.5L1986.3 996.5L1981.3 998.1Z M2079.7 1155.8L2088.0 1153.1L2099.7 1151.5L2109.7 1153.8L2119.7 1159.1L2128.0 1164.8L2134.7 1167.1L2139.7 1175.8L2140.7 1183.8L2136.3 1178.1L2131.3 1171.5L2123.0 1165.8L2113.0 1161.5L2101.3 1158.1L2089.7 1157.1L2081.3 1158.1Z M2243.0 899.8L2233.0 903.1L2226.3 908.1L2221.3 914.8L2214.0 913.8L2212.0 921.5L2216.3 928.1L2214.7 939.8L2204.7 941.5L2198.0 943.8L2199.7 953.1L2204.7 961.5L2213.0 968.1L2221.3 970.5L2229.7 975.8L2221.3 974.8L2219.7 979.8L2211.3 979.1L2204.0 979.8L2202.0 986.5L2206.3 991.5L2216.3 993.1L2224.7 997.1L2233.0 998.1L2239.7 999.8L2241.3 1007.1L2246.3 1009.1L2251.3 1007.1L2253.0 996.5L2256.3 989.8L2258.7 981.5L2254.7 977.1L2246.3 973.8L2243.0 964.8L2239.7 956.5L2238.7 953.1L2244.7 952.5L2249.7 957.1L2256.3 963.1L2264.7 961.5L2274.7 966.5L2287.3 968.1L2286.3 953.1L2294.7 944.8L2303.0 935.8L2304.7 926.5L2309.7 918.1L2313.0 924.8L2318.0 912.5L2326.3 916.5L2334.7 922.5L2331.3 909.8L2329.7 903.8L2338.0 899.8 M2071.7 843.5L2075.0 833.5L2081.7 825.1L2091.7 815.1L2095.0 813.5L2098.3 815.8L2105.0 806.8L2113.3 800.1L2121.7 795.8L2124.0 790.1L2131.7 787.8L2137.3 790.1L2133.3 794.5L2142.7 797.8L2148.3 792.5L2148.3 798.5L2153.3 800.1L2160.0 803.5L2163.3 811.8L2168.3 810.1L2169.3 805.8L2178.3 805.1L2186.7 804.5L2188.3 810.1L2183.3 815.1L2176.7 820.1L2181.7 825.1L2190.0 830.1L2198.3 833.5L2206.7 838.5L2215.0 843.5L2220.0 851.8L2213.3 854.5L2203.3 850.1L2191.7 849.1L2183.3 843.5L2175.0 836.8L2168.3 830.1L2165.0 825.8L2156.7 828.5L2148.3 831.1L2140.0 834.5L2136.7 833.5L2142.7 828.5L2135.0 825.1L2123.3 823.5L2113.3 825.1L2103.3 828.5L2095.0 833.5L2088.3 840.1L2083.3 845.1L2078.3 850.1L2073.3 847.8L2076.7 844.5Z M2218.3 841.8L2223.3 833.5L2233.3 828.5L2243.3 823.5L2251.7 825.1L2254.0 831.8L2248.3 836.8L2240.0 840.1L2235.0 843.5L2238.3 850.1L2236.7 856.8L2228.3 855.1L2220.0 852.5Z M2189.3 820.1L2195.0 816.8L2203.3 820.1L2208.3 824.5L2216.7 822.5L2218.3 828.5L2211.7 832.5L2205.0 834.5L2201.7 829.1L2193.3 826.8Z M2019.3 841.8L2028.3 841.1L2036.7 845.8L2043.3 844.5L2050.0 840.1L2053.3 848.5L2057.3 856.8L2065.0 855.1L2066.7 861.8L2072.7 853.5L2078.3 855.1L2075.0 861.8L2068.3 866.8L2061.7 870.1L2058.3 866.8L2051.7 870.1L2045.0 875.1L2038.3 883.5L2033.3 878.5L2030.0 868.5L2026.7 858.5L2021.7 851.8L2020.0 846.8Z M1964.0 849.1L1970.0 847.1L1974.0 848.5L1966.7 850.5Z M1981.7 849.1L1993.3 846.8L2002.7 845.8L1993.3 851.8L1986.7 851.1Z M1897.3 877.8L1901.7 874.5L1907.3 873.5L1906.0 877.8L1900.0 879.1Z M1945.0 852.5L1950.0 851.1 M2010.0 849.1L2017.3 847.8 M2289.3 811.1L2295.0 811.8 M2320.0 810.1L2325.0 809.1L2328.3 811.1L2333.3 809.1 M1858.3 899.8L1866.7 891.8L1875.0 886.8L1883.3 881.8L1891.7 879.1L1890.0 888.5L1888.3 896.8L1886.7 899.8 M2193.3 899.8L2198.3 890.1L2206.7 881.8L2218.3 877.8L2230.0 880.1L2238.3 885.1L2246.0 890.1L2241.7 895.1L2236.7 899.8 M2346.7 899.8L2353.3 896.8L2360.0 897.8 M1365.0 495.8L1370.0 492.8L1375.0 495.8L1370.7 499.1Z M1392.7 496.8L1398.3 494.5L1402.7 497.8L1398.3 501.1Z M1418.3 496.8L1423.3 494.5L1426.0 496.8L1421.7 501.1Z M1620.0 886.8L1625.0 882.5L1630.0 881.1L1626.0 889.1L1621.7 891.1Z M1630.0 880.1L1635.0 875.1L1637.3 872.5L1636.0 880.1L1631.7 883.5Z M1766.0 868.5L1770.0 867.8L1769.3 871.8Z M1379.3 497.8L1383.3 496.5 M1673.3 862.5L1676.0 859.1L1678.3 860.1 M1689.3 853.5L1693.3 852.5L1692.7 855.8 M1700.0 851.8L1703.3 855.1 M1856.7 1239.8L1851.7 1246.5L1848.3 1253.1L1855.0 1258.1L1861.7 1256.5L1866.7 1263.1L1868.3 1271.5L1873.3 1278.1L1878.3 1286.5L1885.0 1293.1L1893.3 1298.1L1895.0 1306.5L1896.7 1314.8L1905.0 1318.1L1911.7 1313.1L1916.0 1317.1L1911.7 1323.1L1905.0 1327.1L1908.3 1331.5L1915.0 1333.1L1920.0 1329.1L1917.3 1336.5L1911.7 1339.8L1906.7 1343.1L1911.7 1347.1L1920.0 1345.8L1930.0 1348.1L1938.3 1351.5L1940.7 1345.8L1945.0 1351.5L1953.3 1354.8L1960.0 1361.5L1965.0 1368.1L1961.7 1372.5L1956.7 1366.5L1948.3 1359.8L1940.0 1356.5L1930.0 1354.8L1920.0 1353.1L1910.0 1351.5L1903.3 1346.5L1898.3 1336.5L1893.3 1339.8L1889.3 1346.5L1895.0 1353.1L1901.7 1359.8L1908.3 1368.1L1918.3 1373.1L1930.0 1373.1L1939.3 1372.5L1933.3 1377.1L1925.0 1381.5L1916.7 1386.5L1908.3 1393.1L1901.7 1396.5L1910.0 1398.1L1920.0 1399.1L1923.3 1404.8L1918.3 1409.8L1913.3 1414.8L1915.0 1421.5L1908.3 1424.8L1904.0 1433.1L1902.7 1443.1L1900.7 1453.1L1905.0 1459.8L1901.7 1463.1L1895.0 1463.8L1891.7 1456.5L1886.0 1454.8L1879.3 1458.1L1886.7 1463.1L1895.0 1469.8L1899.3 1476.5L1895.0 1481.5L1891.7 1488.1L1888.3 1496.5L1883.3 1503.1L1881.7 1508.1L1888.3 1511.5L1893.3 1513.1L1890.0 1518.1L1880.0 1519.1L1873.3 1513.1L1868.3 1506.5L1860.0 1503.1L1851.7 1501.5L1861.7 1499.1L1871.7 1496.5L1880.0 1493.1L1886.0 1486.5L1886.7 1478.1L1880.0 1473.1L1870.0 1472.5L1860.0 1473.8L1848.3 1473.1L1838.3 1476.5L1830.0 1479.1L1823.3 1478.1L1828.3 1473.1L1821.7 1470.5L1815.0 1471.5L1809.3 1478.1L1805.0 1474.8L1800.0 1481.5L1795.0 1489.8L1790.0 1496.5L1785.0 1503.1L1786.7 1509.8L1781.7 1511.5L1780.0 1516.5 M1848.3 1341.5L1851.7 1338.1L1856.7 1341.5L1857.3 1351.5L1860.0 1363.1L1863.3 1373.1L1867.3 1383.1L1871.7 1391.5L1878.3 1398.1L1886.7 1401.5L1895.0 1400.5L1893.3 1405.8L1886.7 1411.5L1878.3 1412.5L1871.7 1406.5L1866.0 1398.1L1861.7 1389.8L1857.3 1379.8L1854.0 1369.8L1851.7 1358.1L1850.0 1348.1Z M1811.7 1276.5L1820.0 1271.5L1830.0 1264.8L1835.0 1256.5L1841.7 1253.8L1846.7 1264.8L1838.3 1266.5L1835.0 1274.8L1828.3 1283.1L1820.0 1282.5L1815.0 1279.8Z M1789.3 1354.8L1793.3 1351.5L1797.3 1354.8L1794.0 1359.8L1790.0 1359.8Z M1794.0 1338.1L1796.7 1334.8L1799.3 1339.8L1796.0 1342.5Z M1801.7 1329.8L1805.0 1327.1L1806.7 1333.1L1808.3 1338.1L1805.0 1339.8L1803.3 1334.8Z M1887.3 1434.8L1892.7 1432.5L1895.0 1438.1L1891.7 1441.5L1888.3 1439.8Z M1888.3 1534.8L1895.0 1535.8L1900.0 1539.8L1906.0 1543.1L1907.3 1548.1L1901.7 1546.5L1896.0 1544.8L1893.3 1539.1Z M1876.7 1561.5L1883.3 1557.1L1891.7 1558.1L1896.0 1563.1L1893.3 1568.1L1890.0 1573.1L1886.0 1568.1L1879.3 1566.5Z M2152.7 1522.5L2158.3 1531.5L2166.7 1532.5L2174.0 1531.5L2175.0 1539.1L2180.0 1544.8L2181.7 1551.5L2177.3 1558.1L2172.7 1566.5L2165.0 1563.1L2156.7 1558.1L2150.7 1548.1L2153.3 1539.8L2149.3 1534.8Z M1819.3 1599.8L1813.3 1591.5L1810.0 1579.8L1811.7 1569.8L1815.0 1559.8L1819.3 1551.5L1816.0 1543.1L1818.3 1534.8L1826.7 1530.5L1833.3 1533.1L1835.0 1541.5L1832.7 1549.8L1830.0 1559.8L1826.7 1569.8L1830.0 1579.8L1835.0 1588.1L1843.3 1593.1L1851.7 1591.5L1860.0 1586.5L1868.3 1579.8L1876.7 1576.5L1885.0 1577.1L1880.0 1581.5L1875.0 1588.1L1866.7 1591.5L1860.0 1598.1 M2092.7 1603.1L2096.7 1596.5L2103.3 1588.1L2111.7 1583.1L2121.7 1582.5L2128.3 1586.5L2134.0 1588.1L2130.0 1593.1L2123.3 1598.1L2120.0 1601.5 M2391.6 865.1L2399.7 861.4L2410.5 858.7L2422.6 856.5L2432.1 856.0L2440.2 854.3L2436.9 861.9L2433.4 868.7L2428.0 872.7L2419.9 875.4L2409.1 875.9L2399.7 874.9L2392.9 871.3Z M2339.8 898.3L2340.9 901.0L2347.9 899.1L2351.1 896.4L2356.0 896.4L2357.9 899.7L2367.3 900.2L2376.7 899.7L2383.5 901.0L2385.7 904.5L2388.9 901.8L2397.0 900.2L2405.1 900.2L2413.2 901.8L2420.7 901.0L2424.0 906.4L2428.8 905.1L2437.5 908.3L2445.6 911.8L2455.0 915.9L2463.9 922.6L2469.3 930.7L2473.1 937.5L2475.8 941.5L2482.0 942.3L2477.9 946.9L2483.9 948.3L2479.3 953.1L2487.4 951.0L2485.5 957.7L2491.4 958.5L2496.8 963.1L2502.2 969.3L2509.0 977.9L2514.4 984.7L2518.4 988.2L2523.8 988.2L2527.9 983.3L2534.6 990.1L2530.6 994.1L2523.8 996.8L2519.0 998.2L2519.8 1004.9L2519.0 1011.7L2522.5 1019.8L2527.9 1026.5L2534.6 1033.3L2542.2 1038.7L2549.4 1041.3L2556.7 1044.0 M2289.6 810.1L2295.8 811.4 M2320.1 810.1L2324.7 808.7L2328.2 810.6L2332.8 808.7 M2589.9 1238.3L2583.2 1243.7L2575.1 1249.1L2567.0 1253.2L2558.9 1255.9L2552.1 1259.9L2548.1 1265.3L2553.5 1272.1L2558.9 1280.2L2562.9 1286.9L2564.3 1296.3L2565.6 1307.1L2567.0 1312.0 M2590.7 1239.5L2580.8 1247.9L2569.5 1252.7L2558.2 1256.4L2548.3 1265.7L2555.4 1274.8L2561.6 1281.8L2563.3 1294.5L2565.3 1311.5L2558.2 1313.7L2562.5 1319.9L2567.3 1329.0L2578.0 1331.8L2586.5 1336.9L2590.7 1339.7 M2549.8 1542.9L2538.5 1540.6L2530.0 1542.9L2517.3 1538.7L2522.9 1545.7L2531.4 1550.8L2533.4 1559.8L2531.4 1571.1L2525.8 1578.2L2515.9 1582.4L2507.4 1585.2L2500.4 1585.8L2503.2 1574.0L2501.8 1569.7L2496.1 1566.0L2497.5 1574.0L2493.3 1581.0L2483.4 1586.7L2476.4 1590.9L2467.9 1597.9L2455.2 1598.8L2447.0 1599.9 M2204.0 1379.2L2206.8 1386.2L2202.6 1394.7L2198.3 1404.6L2194.7 1415.9L2199.8 1425.8L2206.8 1431.4L2215.3 1429.4L2207.7 1427.2L2201.2 1421.5L2198.3 1414.5L2201.2 1404.6L2204.8 1394.7L2206.8 1387.7Z M1816.0 962.5L1826.0 940.0L1846.0 920.0L1866.0 910.0L1881.0 895.0L1891.0 880.0 M1586.5 2008.0L1575.0 2012.5L1550.0 2019.0L1542.5 2022.5L1525.0 2037.5L1515.0 2050.0L1500.0 2065.0L1487.5 2077.5L1475.0 2090.0L1466.0 2105.0L1470.0 2115.0L1474.0 2126.0 M1500.0 2002.5L1510.0 1999.0L1507.5 2007.5Z M1512.5 2007.5L1517.5 2012.5L1514.0 2014.0Z M1532.5 2010.0L1542.5 2001.0L1545.0 2002.5L1537.5 2012.5Z M1789.6 1495.2L1783.3 1505.6L1772.9 1520.2L1781.2 1516.0L1777.1 1530.6L1770.8 1547.3L1762.5 1568.1L1756.2 1584.8L1747.9 1599.4L1745.0 1599.8 M1961.0 966.0L1966.0 955.0L1976.0 940.0L1983.5 925.0L1988.5 910.0L1996.0 912.5L2006.0 902.5L2013.5 892.5L2015.0 884.0L2021.0 890.0L2028.5 887.5L2023.5 897.5L2016.0 907.5L2008.5 917.5L1998.5 930.0L1988.5 942.5L1978.5 955.0L1968.5 965.0Z" fill="none" stroke="#606060" stroke-width="1" stroke-linejoin="round"/></g>
</g>
<circle cx="1716.25" cy="3376.20" r="873.15" fill="none" stroke="#fff" stroke-width="3.1"/>
<circle cx="1716.25" cy="3376.20" r="874.70" fill="none" stroke="#6a6a6a" stroke-width="0.85"/>
<rect x="16.00" y="4459" width="212.06" height="77" fill="#7D1EF0"/>
<rect x="227.56" y="4459" width="212.06" height="77" fill="#1E05FA"/>
<rect x="439.12" y="4459" width="212.06" height="77" fill="#2D46EB"/>
<rect x="650.69" y="4459" width="212.06" height="77" fill="#3273EB"/>
<rect x="862.25" y="4459" width="212.06" height="77" fill="#1996FF"/>
<rect x="1073.81" y="4459" width="212.06" height="77" fill="#00BEFF"/>
<rect x="1285.38" y="4459" width="212.06" height="77" fill="#73C6F2"/>
<rect x="1496.94" y="4459" width="212.06" height="77" fill="#B1DFF4"/>
<rect x="1708.50" y="4459" width="212.06" height="77" fill="#FFF78F"/>
<rect x="1920.06" y="4459" width="212.06" height="77" fill="#FFD62B"/>
<rect x="2131.62" y="4459" width="212.06" height="77" fill="#FFAA05"/>
<rect x="2343.19" y="4459" width="212.06" height="77" fill="#FF7800"/>
<rect x="2554.75" y="4459" width="212.06" height="77" fill="#FF2D00"/>
<rect x="2766.31" y="4459" width="212.06" height="77" fill="#E60000"/>
<rect x="2977.88" y="4459" width="212.06" height="77" fill="#CD1B1E"/>
<rect x="3189.44" y="4459" width="211.56" height="77" fill="#FFB0B0"/>
<line x1="227.56" y1="4459" x2="227.56" y2="4536" stroke="#c8c8c8" stroke-width="1" opacity="0.6"/>
<line x1="439.12" y1="4459" x2="439.12" y2="4536" stroke="#c8c8c8" stroke-width="1" opacity="0.6"/>
<line x1="650.69" y1="4459" x2="650.69" y2="4536" stroke="#c8c8c8" stroke-width="1" opacity="0.6"/>
<line x1="862.25" y1="4459" x2="862.25" y2="4536" stroke="#c8c8c8" stroke-width="1" opacity="0.6"/>
<line x1="1073.81" y1="4459" x2="1073.81" y2="4536" stroke="#c8c8c8" stroke-width="1" opacity="0.6"/>
<line x1="1285.38" y1="4459" x2="1285.38" y2="4536" stroke="#c8c8c8" stroke-width="1" opacity="0.6"/>
<line x1="1496.94" y1="4459" x2="1496.94" y2="4536" stroke="#c8c8c8" stroke-width="1" opacity="0.6"/>
<line x1="1708.50" y1="4459" x2="1708.50" y2="4536" stroke="#c8c8c8" stroke-width="1" opacity="0.6"/>
<line x1="1920.06" y1="4459" x2="1920.06" y2="4536" stroke="#c8c8c8" stroke-width="1" opacity="0.6"/>
<line x1="2131.62" y1="4459" x2="2131.62" y2="4536" stroke="#c8c8c8" stroke-width="1" opacity="0.6"/>
<line x1="2343.19" y1="4459" x2="2343.19" y2="4536" stroke="#c8c8c8" stroke-width="1" opacity="0.6"/>
<line x1="2554.75" y1="4459" x2="2554.75" y2="4536" stroke="#c8c8c8" stroke-width="1" opacity="0.6"/>
<line x1="2766.31" y1="4459" x2="2766.31" y2="4536" stroke="#c8c8c8" stroke-width="1" opacity="0.6"/>
<line x1="2977.88" y1="4459" x2="2977.88" y2="4536" stroke="#c8c8c8" stroke-width="1" opacity="0.6"/>
<line x1="3189.44" y1="4459" x2="3189.44" y2="4536" stroke="#c8c8c8" stroke-width="1" opacity="0.6"/>
<text transform="translate(1208.04,114.00) scale(0.9599,1)" font-size="120.78" fill="#000">NAM Pattern (JFM)</text>
<text transform="translate(3149.69,179.80) scale(0.9654,1)" font-size="42.15" fill="#dedede" font-weight="bold"><tspan font-weight="normal">©</tspan> CVDP-LE</text>
<text transform="translate(1469.05,292.80) scale(0.9665,1)" font-size="72.09" fill="#000">ERA20C_ERA5</text>
<text transform="translate(1560.88,2395.00) scale(0.9680,1)" font-size="72.82" fill="#00688B">LENS1 #1</text>
<text transform="translate(1675.54,392.20) scale(1.0104,1)" font-size="47.46" fill="#000">180</text>
<text transform="translate(1703.51,2213.60) scale(0.9625,1)" font-size="49.18" fill="#000">0</text>
<text transform="translate(707.11,1302.50) scale(0.9934,1)" font-size="48.60" fill="#000">90W</text>
<text transform="translate(2624.43,1302.50) scale(0.9849,1)" font-size="48.60" fill="#000">90E</text>
<text transform="translate(1136.04,514.70) scale(0.9905,1)" font-size="48.46" fill="#000">150W</text>
<text transform="translate(2166.28,514.70) scale(1.0036,1)" font-size="48.46" fill="#000">150E</text>
<text transform="translate(803.35,848.40) scale(0.9852,1)" font-size="48.60" fill="#000">120W</text>
<text transform="translate(2500.11,848.40) scale(0.9940,1)" font-size="48.60" fill="#000">120E</text>
<text transform="translate(828.98,1758.80) scale(0.9946,1)" font-size="48.60" fill="#000">60W</text>
<text transform="translate(2501.66,1758.80) scale(1.0047,1)" font-size="48.60" fill="#000">60E</text>
<text transform="translate(1162.90,2091.80) scale(0.9884,1)" font-size="48.60" fill="#000">30W</text>
<text transform="translate(2169.08,2091.80) scale(0.9961,1)" font-size="48.60" fill="#000">30E</text>
<text transform="translate(1675.54,2482.40) scale(1.0104,1)" font-size="47.46" fill="#000">180</text>
<text transform="translate(1703.51,4303.80) scale(0.9625,1)" font-size="49.18" fill="#000">0</text>
<text transform="translate(707.11,3392.70) scale(0.9934,1)" font-size="48.60" fill="#000">90W</text>
<text transform="translate(2624.43,3392.70) scale(0.9849,1)" font-size="48.60" fill="#000">90E</text>
<text transform="translate(1136.04,2604.90) scale(0.9905,1)" font-size="48.46" fill="#000">150W</text>
<text transform="translate(2166.28,2604.90) scale(1.0036,1)" font-size="48.46" fill="#000">150E</text>
<text transform="translate(803.35,2938.60) scale(0.9852,1)" font-size="48.60" fill="#000">120W</text>
<text transform="translate(2500.11,2938.60) scale(0.9940,1)" font-size="48.60" fill="#000">120E</text>
<text transform="translate(828.98,3849.00) scale(0.9946,1)" font-size="48.60" fill="#000">60W</text>
<text transform="translate(2501.66,3849.00) scale(1.0047,1)" font-size="48.60" fill="#000">60E</text>
<text transform="translate(1162.90,4182.00) scale(0.9884,1)" font-size="48.60" fill="#000">30W</text>
<text transform="translate(2169.08,4182.00) scale(0.9961,1)" font-size="48.60" fill="#000">30E</text>
<text transform="translate(844.22,462.40) scale(1.0008,1)" font-size="54.48" fill="#000">1920-2019</text>
<text transform="translate(2349.18,515.30) scale(0.9801,1)" font-size="54.91" fill="#000">33.3%*</text>
<text transform="translate(844.24,2552.60) scale(0.9979,1)" font-size="54.48" fill="#000">1979-2013</text>
<text transform="translate(2332.88,2545.10) scale(0.9725,1)" font-size="55.34" fill="#000">37.0%*</text>
<text transform="translate(2377.69,2605.10) scale(0.9873,1)" font-size="55.63" fill="#000">r=0.81</text>
<text transform="translate(184.83,4627.70) scale(0.9612,1)" font-size="96.49" fill="#000">-7</text>
<text transform="translate(396.36,4627.70) scale(1.0001,1)" font-size="96.49" fill="#000">-6</text>
<text transform="translate(608.21,4627.70) scale(0.9880,1)" font-size="96.49" fill="#000">-5</text>
<text transform="translate(819.24,4627.70) scale(0.9817,1)" font-size="96.49" fill="#000">-4</text>
<text transform="translate(1031.32,4627.70) scale(0.9859,1)" font-size="96.49" fill="#000">-3</text>
<text transform="translate(1242.61,4627.70) scale(1.0109,1)" font-size="96.49" fill="#000">-2</text>
<text transform="translate(1462.76,4627.70) scale(0.9992,1)" font-size="96.49" fill="#000">-1</text>
<text transform="translate(1684.24,4627.70) scale(0.9485,1)" font-size="96.49" fill="#000">0</text>
<text transform="translate(1899.13,4627.70) scale(1.0110,1)" font-size="96.49" fill="#000">1</text>
<text transform="translate(2104.30,4627.70) scale(1.0159,1)" font-size="96.49" fill="#000">2</text>
<text transform="translate(2317.47,4627.70) scale(0.9753,1)" font-size="96.49" fill="#000">3</text>
<text transform="translate(2530.01,4627.70) scale(0.9646,1)" font-size="96.49" fill="#000">4</text>
<text transform="translate(2741.03,4627.70) scale(0.9775,1)" font-size="96.49" fill="#000">5</text>
<text transform="translate(2951.01,4627.70) scale(1.0353,1)" font-size="96.49" fill="#000">6</text>
<text transform="translate(3162.62,4627.70) scale(1.0421,1)" font-size="96.49" fill="#000">7</text>
<text transform="translate(1622.50,4715.70) scale(1.0090,1)" font-size="92.00" fill="#000">hPa</text>
</svg>
</body></html>
